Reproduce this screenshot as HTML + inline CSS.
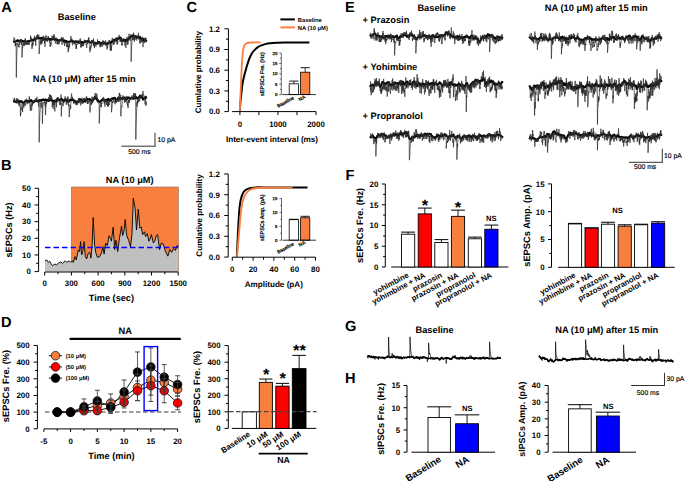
<!DOCTYPE html>
<html><head><meta charset="utf-8"><style>
html,body{margin:0;padding:0;background:#fff;width:685px;height:481px;overflow:hidden}
svg{display:block;font-family:"Liberation Sans", sans-serif;text-rendering:geometricPrecision}
</style></head><body>
<svg width="685" height="481" viewBox="0 0 685 481">
<rect width="685" height="481" fill="#fff"/>
<text x="1.2" y="11.9" font-size="14.6" font-weight="bold" fill="#000">A</text>
<text x="76.8" y="20.2" font-size="9.3" font-weight="bold" text-anchor="middle" fill="#000">Baseline</text>
<text x="84.2" y="81.7" font-size="9.3" font-weight="bold" text-anchor="middle" fill="#000">NA (10 &#956;M) after 15 min</text>
<path d="M13.8 41.56 L14.16 41.74 L14.52 41.78 L14.88 41.71 L15.24 41.48 L15.6 41.34 L15.96 41.17 L16.32 41.11 L16.68 41.1 L17.04 40.64 L17.4 40.21 L17.76 40.28 L18.12 40.62 L18.48 40.5 L18.84 41.11 L19.2 40.89 L19.56 40.92 L19.92 41.09 L20.28 41.01 L20.64 40.34 L21 40.74 L21.36 40.23 L21.72 40.51 L22.08 40.86 L22.44 41.23 L22.8 41.41 L23.16 41.41 L23.52 41.38 L23.88 41.26 L24.24 40.86 L24.6 40.88 L24.96 40.66 L25.32 41.06 L25.68 41.15 L26.04 41.47 L26.4 41.79 L26.76 41.7 L27.12 41.81 L27.48 41.59 L27.84 41.09 L28.2 41.23 L28.56 41 L28.92 41.06 L29.28 41.32 L29.64 41.31 L30 41 L30.36 40.65 L30.72 40.47 L31.08 40.42 L31.44 40.42 L31.8 40.17 L32.16 39.94 L32.52 40.17 L32.88 40.35 L33.24 40.5 L33.6 40.08 L33.96 39.44 L34.32 39.9 L34.68 38.88 L35.04 39.61 L35.4 39.03 L35.76 38.67 L36.12 38.52 L36.48 38.56 L36.84 37.99 L37.2 38.48 L37.56 37.49 L37.92 37.5 L38.28 37.88 L38.64 38.18 L39 38.03 L39.36 38.18 L39.72 38.38 L40.08 38.25 L40.44 38.47 L40.8 38.29 L41.16 37.78 L41.52 38.14 L41.88 37.82 L42.24 38.11 L42.6 39.05 L42.96 39.26 L43.32 39.13 L43.68 39.59 L44.04 39.09 L44.4 39.34 L44.76 39.03 L45.12 38.87 L45.48 38.8 L45.84 39.66 L46.2 39.24 L46.56 39.26 L46.92 39.15 L47.28 39.75 L47.64 38.8 L48 38.87 L48.36 38.23 L48.72 38.82 L49.08 39.37 L49.44 39.46 L49.8 38.81 L50.16 39.67 L50.52 39.92 L50.88 39.68 L51.24 39.46 L51.6 39.01 L51.96 39.05 L52.32 39.37 L52.68 39.37 L53.04 39.25 L53.4 39.15 L53.76 39.26 L54.12 39.62 L54.48 39.83 L54.84 39.64 L55.2 39.35 L55.56 39.54 L55.92 39.72 L56.28 39.87 L56.64 40.01 L57 39.56 L57.36 39.97 L57.72 40.23 L58.08 40.27 L58.44 40.48 L58.8 40.2 L59.16 40.28 L59.52 40.52 L59.88 40.23 L60.24 40.03 L60.6 39.72 L60.96 39.93 L61.32 39.91 L61.68 39.38 L62.04 40.15 L62.4 40.46 L62.76 40.31 L63.12 40.94 L63.48 40.64 L63.84 40.9 L64.2 41.53 L64.56 40.6 L64.92 40.37 L65.28 41.03 L65.64 40.94 L66 41.01 L66.36 41.66 L66.72 41.36 L67.08 41.7 L67.44 41.85 L67.8 41.89 L68.16 41.79 L68.52 42.08 L68.88 41.76 L69.24 41.74 L69.6 41.59 L69.96 41.38 L70.32 41.45 L70.68 41.09 L71.04 40.85 L71.4 40.3 L71.76 40.43 L72.12 41.24 L72.48 41.74 L72.84 41.35 L73.2 41.78 L73.56 41.75 L73.92 41.97 L74.28 41.94 L74.64 41.41 L75 41.43 L75.36 41.27 L75.72 41.34 L76.08 41.29 L76.44 41.72 L76.8 41.96 L77.16 41.89 L77.52 41.76 L77.88 42.09 L78.24 41.9 L78.6 42.51 L78.96 42.09 L79.32 42.61 L79.68 42.26 L80.04 42.24 L80.4 42.05 L80.76 42.15 L81.12 41.9 L81.48 42.4 L81.84 41.83 L82.2 42.26 L82.56 42.65 L82.92 42.8 L83.28 42.88 L83.64 42.66 L84 42.03 L84.36 41.85 L84.72 41.74 L85.08 41.13 L85.44 41.19 L85.8 41.35 L86.16 41.75 L86.52 41.34 L86.88 41.35 L87.24 41.13 L87.6 41.73 L87.96 41.66 L88.32 41.3 L88.68 40.91 L89.04 41.78 L89.4 41.98 L89.76 42.2 L90.12 42.19 L90.48 42.45 L90.84 42.48 L91.2 42.52 L91.56 42.13 L91.92 41.65 L92.28 41.84 L92.64 41.95 L93 41.7 L93.36 41.93 L93.72 42.63 L94.08 42.84 L94.44 42.95 L94.8 42.9 L95.16 42.85 L95.52 43.57 L95.88 43.76 L96.24 43.19 L96.6 43.31 L96.96 43.51 L97.32 43.64 L97.68 43.06 L98.04 42.13 L98.4 41.95 L98.76 42.09 L99.12 41.85 L99.48 42.28 L99.84 42.8 L100.2 43.2 L100.56 43.72 L100.92 43.14 L101.28 43.23 L101.64 43.59 L102 43.47 L102.36 42.58 L102.72 42.26 L103.08 42.34 L103.44 42.44 L103.8 42.38 L104.16 42.71 L104.52 42.6 L104.88 43.4 L105.24 43.39 L105.6 43.52 L105.96 44.08 L106.32 43.88 L106.68 43.26 L107.04 44.17 L107.4 43.66 L107.76 43.97 L108.12 42.99 L108.48 42.4 L108.84 42.48 L109.2 42.43 L109.56 42.13 L109.92 42.32 L110.28 42.12 L110.64 42.75 L111 43.12 L111.36 42.5 L111.72 42.45 L112.08 41.29 L112.44 40.74 L112.8 40.97 L113.16 40.65 L113.52 39.98 L113.88 40.39 L114.24 40.24 L114.6 40.28 L114.96 40.6 L115.32 39.61 L115.68 39.9 L116.04 40.21 L116.4 39.09 L116.76 38.82 L117.12 39.17 L117.48 38.99 L117.84 39.2 L118.2 38.75 L118.56 37.86 L118.92 38.14 L119.28 38.39 L119.64 37.67 L120 37.43 L120.36 38.1 L120.72 37.7 L121.08 39.14 L121.44 39.86 L121.8 40.33 L122.16 40.51 L122.52 41.01 L122.88 40.29 L123.24 40.46 L123.6 39.97 L123.96 40.06 L124.32 40.06 L124.68 40.46 L125.04 39.7 L125.4 39.97 L125.76 41.15 L126.12 40.81 L126.48 40.37 L126.84 39.92 L127.2 39.42 L127.56 39.72 L127.92 39.71 L128.28 38.77 L128.64 38.88 L129 38.14 L129.36 37.47 L129.72 37.93 L130.08 37.42 L130.44 37.01 L130.8 36.35 L131.16 36.3 L131.52 36.39 L131.88 36.36 L132.24 35.42 L132.6 36.1 L132.96 36.5 L133.32 36.37 L133.68 36.19 L134.04 36.48 L134.4 36.76 L134.76 37.29 L135.12 36.73 L135.48 36.26 L135.84 37.03 L136.2 37.07 L136.56 37.21 L136.92 36.36 L137.28 36.61 L137.64 37.23 L138 37.76 L138.36 37.17 L138.72 37.25 L139.08 36.72 L139.44 37.44 L139.8 37.5 L140.16 37.12 L140.52 37.42 L140.88 38.59 L141.24 38.59 L141.6 39.09 L141.96 39.52 L142.32 39.72 L142.68 40.52 L143.04 40.2 L143.4 39.01 L143.76 39.3 L144.12 40.22 L144.48 40.45 L144.84 39.99 L145.2 40.08 L145.56 40.02 L145.92 40.57 L146.28 40.8" stroke="#000" stroke-width="2" fill="none" stroke-linejoin="round" stroke-linecap="round"/>
<path d="M13.8 41.41 L13.98 37.41 L14.16 38.73 L14.34 38.87 L14.52 39.57 L14.7 38.74 L14.88 41.81 L15.06 44.64 L15.24 46.24 L15.42 43.95 L15.6 41.26 L15.78 45.47 L15.96 42.62 L16.14 43.47 L16.32 77.51 L16.5 66.23 L16.68 57.58 L16.86 53.03 L17.04 49.68 L17.22 44.99 L17.4 43.86 L17.58 43.16 L17.76 42.51 L17.94 42.96 L18.12 45.3 L18.3 44.72 L18.48 45.74 L18.66 47.15 L18.84 45.8 L19.02 47.24 L19.2 42.93 L19.38 39.84 L19.56 44.07 L19.74 45.04 L19.92 42.98 L20.1 42.15 L20.28 42.56 L20.46 40 L20.64 41.42 L20.82 39.13 L21 42.19 L21.18 39.59 L21.36 42.53 L21.54 44.58 L21.72 41.47 L21.9 42.84 L22.08 57.5 L22.26 51.4 L22.44 47.54 L22.62 48.14 L22.8 44.32 L22.98 45.37 L23.16 40.36 L23.34 40.44 L23.52 42.64 L23.7 45.12 L23.88 46.21 L24.06 41.94 L24.24 41 L24.42 40.26 L24.6 45.58 L24.78 42.38 L24.96 40.32 L25.14 42.6 L25.32 38.27 L25.5 43.02 L25.68 44.97 L25.86 44.62 L26.04 43.82 L26.22 41.24 L26.4 44 L26.58 44.61 L26.76 41.68 L26.94 43.42 L27.12 43.15 L27.3 44.64 L27.48 44.6 L27.66 43.06 L27.84 43.12 L28.02 44.61 L28.2 42.89 L28.38 43.08 L28.56 43.16 L28.74 44.43 L28.92 41.26 L29.1 40.91 L29.28 44.74 L29.46 42.42 L29.64 40.74 L29.82 41.88 L30 41.52 L30.18 41.44 L30.36 39.45 L30.54 35.6 L30.72 38.85 L30.9 41.17 L31.08 40.42 L31.26 37.44 L31.44 40.61 L31.62 39.7 L31.8 39.46 L31.98 48.96 L32.16 44.38 L32.34 46.66 L32.52 42.26 L32.7 43.35 L32.88 43.72 L33.06 45.25 L33.24 44.27 L33.42 39.57 L33.6 42.05 L33.78 37.77 L33.96 38.79 L34.14 39.77 L34.32 40.8 L34.5 40.72 L34.68 35.85 L34.86 39.04 L35.04 40.06 L35.22 41.19 L35.4 41.42 L35.58 39.62 L35.76 45.75 L35.94 39.14 L36.12 37.72 L36.3 39.23 L36.48 39.51 L36.66 38.4 L36.84 35.05 L37.02 37.74 L37.2 36.69 L37.38 38.87 L37.56 37.52 L37.74 34.25 L37.92 36.3 L38.1 35.4 L38.28 35.85 L38.46 35.69 L38.64 36.21 L38.82 34.9 L39 37.82 L39.18 53.94 L39.36 47.5 L39.54 46.05 L39.72 45.91 L39.9 42.72 L40.08 40.78 L40.26 43.71 L40.44 43.4 L40.62 42.08 L40.8 39.42 L40.98 44.61 L41.16 39.79 L41.34 39.1 L41.52 39.01 L41.7 41.69 L41.88 43.92 L42.06 40.96 L42.24 41.89 L42.42 37.11 L42.6 40.79 L42.78 37.88 L42.96 37.12 L43.14 38.37 L43.32 35.67 L43.5 38.38 L43.68 40.91 L43.86 36.48 L44.04 39.16 L44.22 37.48 L44.4 40.45 L44.58 43.01 L44.76 40.94 L44.94 46.81 L45.12 42.78 L45.3 40.69 L45.48 40.35 L45.66 39.67 L45.84 35.97 L46.02 36.38 L46.2 35.21 L46.38 40.08 L46.56 39.61 L46.74 39.29 L46.92 41.44 L47.1 38.84 L47.28 39.52 L47.46 41.49 L47.64 38.57 L47.82 40.42 L48 38.5 L48.18 35.98 L48.36 38.26 L48.54 39.2 L48.72 38.28 L48.9 38.31 L49.08 40.29 L49.26 40.08 L49.44 42.4 L49.62 41.25 L49.8 40.85 L49.98 45.53 L50.16 46.84 L50.34 44.69 L50.52 42.23 L50.7 44 L50.88 46.05 L51.06 44.76 L51.24 43.73 L51.42 43.21 L51.6 43.4 L51.78 39.99 L51.96 35.63 L52.14 37.7 L52.32 38.74 L52.5 37.42 L52.68 38.57 L52.86 39.99 L53.04 38.05 L53.22 40 L53.4 35.86 L53.58 38.55 L53.76 35.56 L53.94 34.27 L54.12 36.5 L54.3 35.43 L54.48 39.1 L54.66 37.1 L54.84 39.41 L55.02 39.92 L55.2 42.24 L55.38 43.37 L55.56 41.25 L55.74 41.34 L55.92 38.99 L56.1 37.54 L56.28 39.75 L56.46 39.38 L56.64 38.21 L56.82 41.99 L57 43.99 L57.18 40.85 L57.36 41.5 L57.54 40.8 L57.72 44.1 L57.9 42.67 L58.08 44.41 L58.26 43.07 L58.44 40.6 L58.62 40.1 L58.8 40.07 L58.98 44.26 L59.16 41.32 L59.34 41.6 L59.52 42.53 L59.7 42.16 L59.88 42.07 L60.06 42 L60.24 38.86 L60.42 41.24 L60.6 40 L60.78 40.5 L60.96 39.46 L61.14 41.04 L61.32 39.77 L61.5 40.44 L61.68 36.9 L61.86 38.87 L62.04 44.8 L62.22 38.9 L62.4 40.51 L62.58 41.75 L62.76 37.78 L62.94 40.37 L63.12 37.52 L63.3 40.27 L63.48 40.9 L63.66 41.14 L63.84 42.59 L64.02 42.55 L64.2 43.96 L64.38 43.41 L64.56 46.08 L64.74 42.05 L64.92 41.65 L65.1 42.98 L65.28 42.58 L65.46 41.24 L65.64 42.11 L65.82 43.57 L66 42.56 L66.18 42.28 L66.36 41.86 L66.54 42.88 L66.72 47.12 L66.9 44.05 L67.08 46.37 L67.26 45.79 L67.44 46.83 L67.62 42.24 L67.8 43.62 L67.98 42.06 L68.16 52.18 L68.34 48.58 L68.52 50.17 L68.7 44.96 L68.88 47.75 L69.06 48.54 L69.24 47.25 L69.42 43.59 L69.6 46.46 L69.78 42.91 L69.96 42.11 L70.14 41.57 L70.32 40.83 L70.5 40.65 L70.68 40.91 L70.86 36 L71.04 38.32 L71.22 40.44 L71.4 40.37 L71.58 41.28 L71.76 38.53 L71.94 42.81 L72.12 43.08 L72.3 44.15 L72.48 45.28 L72.66 45.23 L72.84 43.09 L73.02 43.11 L73.2 39.99 L73.38 41.54 L73.56 43.14 L73.74 42.39 L73.92 43.4 L74.1 42.93 L74.28 44.19 L74.46 44.39 L74.64 42.82 L74.82 43.1 L75 43.72 L75.18 43.14 L75.36 42.26 L75.54 41.27 L75.72 45.35 L75.9 45.67 L76.08 48.76 L76.26 44.19 L76.44 48.85 L76.62 44.27 L76.8 44.38 L76.98 44.99 L77.16 44 L77.34 42.91 L77.52 43.04 L77.7 43.32 L77.88 40.33 L78.06 41.39 L78.24 40.71 L78.42 41.52 L78.6 43.61 L78.78 41.63 L78.96 41.71 L79.14 42.18 L79.32 43.76 L79.5 41.27 L79.68 43.19 L79.86 39.63 L80.04 42.48 L80.22 38.31 L80.4 40.16 L80.58 45.04 L80.76 47.42 L80.94 45.77 L81.12 42.77 L81.3 47.25 L81.48 44.43 L81.66 42.77 L81.84 44.56 L82.02 44.03 L82.2 46.33 L82.38 43.2 L82.56 44.83 L82.74 45 L82.92 44.81 L83.1 45.55 L83.28 44.36 L83.46 46.15 L83.64 44.78 L83.82 44.67 L84 43.15 L84.18 41.56 L84.36 39.72 L84.54 41.25 L84.72 41.3 L84.9 40.89 L85.08 40.71 L85.26 41.15 L85.44 41.29 L85.62 40.38 L85.8 40.24 L85.98 43.41 L86.16 44.87 L86.34 44.25 L86.52 47.09 L86.7 47.88 L86.88 45.58 L87.06 43.29 L87.24 42.22 L87.42 41.75 L87.6 44.06 L87.78 40.08 L87.96 41.04 L88.14 41.18 L88.32 37.84 L88.5 37.97 L88.68 41.8 L88.86 37.42 L89.04 43.28 L89.22 40.5 L89.4 41.91 L89.58 40.66 L89.76 46.27 L89.94 52.18 L90.12 47.17 L90.3 49.76 L90.48 49.07 L90.66 49.58 L90.84 45.66 L91.02 47.55 L91.2 46.19 L91.38 43.65 L91.56 40 L91.74 44.53 L91.92 40.13 L92.1 41.35 L92.28 41.48 L92.46 42.88 L92.64 39.88 L92.82 40.55 L93 40.43 L93.18 41.29 L93.36 45.23 L93.54 38.58 L93.72 46.18 L93.9 41.57 L94.08 45.79 L94.26 44.52 L94.44 48.09 L94.62 45.64 L94.8 42.8 L94.98 42.96 L95.16 41.86 L95.34 42.54 L95.52 43.35 L95.7 45.25 L95.88 46.66 L96.06 45.14 L96.24 42.8 L96.42 43.64 L96.6 43.52 L96.78 44.44 L96.96 43.33 L97.14 42.29 L97.32 42.71 L97.5 39.4 L97.68 40.67 L97.86 42.85 L98.04 41.36 L98.22 43.34 L98.4 44.03 L98.58 43.19 L98.76 43.12 L98.94 43.71 L99.12 44.69 L99.3 42.64 L99.48 41.19 L99.66 42.54 L99.84 45.38 L100.02 47.24 L100.2 44.25 L100.38 46 L100.56 45.19 L100.74 46.83 L100.92 44.76 L101.1 45.68 L101.28 44.14 L101.46 43.36 L101.64 43.3 L101.82 43.36 L102 44.55 L102.18 46.74 L102.36 44.95 L102.54 40.85 L102.72 43.43 L102.9 41.41 L103.08 40.36 L103.26 44.35 L103.44 44.39 L103.62 41.92 L103.8 45.3 L103.98 42.29 L104.16 41.66 L104.34 44.24 L104.52 43.09 L104.7 43.07 L104.88 43.43 L105.06 43.47 L105.24 42.7 L105.42 41.93 L105.6 40.39 L105.78 42.09 L105.96 45.58 L106.14 43.51 L106.32 45.44 L106.5 46.03 L106.68 43.07 L106.86 43.68 L107.04 49.44 L107.22 46.25 L107.4 47.49 L107.58 47.98 L107.76 46.35 L107.94 45.32 L108.12 43.01 L108.3 41.97 L108.48 43.85 L108.66 43.97 L108.84 42.16 L109.02 42.05 L109.2 39.96 L109.38 43.46 L109.56 40.24 L109.74 40.18 L109.92 45.96 L110.1 45.91 L110.28 50.5 L110.46 43.31 L110.64 46.9 L110.82 50.23 L111 48.26 L111.18 45.8 L111.36 50.89 L111.54 46.71 L111.72 44.96 L111.9 45.42 L112.08 41.15 L112.26 37.82 L112.44 42.44 L112.62 42.19 L112.8 42.91 L112.98 40.5 L113.16 41.43 L113.34 40.66 L113.52 44.67 L113.7 43.69 L113.88 44.47 L114.06 40.08 L114.24 43.77 L114.42 43.05 L114.6 42.61 L114.78 41.51 L114.96 40.02 L115.14 38.07 L115.32 39.13 L115.5 39.95 L115.68 38.1 L115.86 38.47 L116.04 41.66 L116.22 37.32 L116.4 39.18 L116.58 38.81 L116.76 42.84 L116.94 44.29 L117.12 44.51 L117.3 42.48 L117.48 39.18 L117.66 43.79 L117.84 40.66 L118.02 38.16 L118.2 37.26 L118.38 37.43 L118.56 38.76 L118.74 38.43 L118.92 37.56 L119.1 34.98 L119.28 38.82 L119.46 39.15 L119.64 38.2 L119.82 37.62 L120 41.91 L120.18 40.97 L120.36 38.27 L120.54 41.92 L120.72 38.74 L120.9 39.92 L121.08 40.35 L121.26 38.36 L121.44 40.73 L121.62 44.47 L121.8 45.53 L121.98 43.22 L122.16 45.2 L122.34 43.8 L122.52 43.18 L122.7 42.54 L122.88 40.64 L123.06 41.98 L123.24 38.09 L123.42 42.05 L123.6 39.11 L123.78 41.58 L123.96 38.78 L124.14 40.52 L124.32 41.88 L124.5 41.2 L124.68 42.51 L124.86 45.81 L125.04 43.1 L125.22 41.51 L125.4 44.56 L125.58 44.86 L125.76 46.19 L125.94 47.91 L126.12 45.55 L126.3 43.8 L126.48 42.03 L126.66 41.48 L126.84 39.93 L127.02 36.75 L127.2 38.28 L127.38 40.89 L127.56 44.6 L127.74 38.32 L127.92 44.44 L128.1 42.22 L128.28 40.87 L128.46 39.81 L128.64 37.25 L128.82 35.43 L129 33.74 L129.18 34.92 L129.36 40.17 L129.54 39.72 L129.72 40.17 L129.9 40.26 L130.08 40.85 L130.26 40.53 L130.44 40.29 L130.62 38.5 L130.8 34.31 L130.98 36.87 L131.16 61.64 L131.34 53.44 L131.52 49.05 L131.7 45.58 L131.88 43.27 L132.06 39.69 L132.24 36.81 L132.42 37.19 L132.6 40.05 L132.78 35.2 L132.96 36.45 L133.14 36.13 L133.32 40.1 L133.5 32.71 L133.68 36.7 L133.86 33.96 L134.04 36 L134.22 37.44 L134.4 41.8 L134.58 36.89 L134.76 35.14 L134.94 39.93 L135.12 35.26 L135.3 36.27 L135.48 36.67 L135.66 37.17 L135.84 37.98 L136.02 38.13 L136.2 39.79 L136.38 40.5 L136.56 37.61 L136.74 37.35 L136.92 35.94 L137.1 38.22 L137.28 36.48 L137.46 37.17 L137.64 37.99 L137.82 39.04 L138 36.72 L138.18 36.96 L138.36 33.38 L138.54 32.84 L138.72 37.98 L138.9 37.55 L139.08 40.03 L139.26 36.59 L139.44 38.36 L139.62 43.31 L139.8 42.31 L139.98 40.67 L140.16 39.52 L140.34 40.8 L140.52 43.3 L140.7 42.69 L140.88 41.52 L141.06 39.61 L141.24 39.67 L141.42 38.66 L141.6 40.08 L141.78 42.2 L141.96 41.76 L142.14 39.11 L142.32 40.88 L142.5 41.62 L142.68 36.83 L142.86 43.4 L143.04 47.06 L143.22 43.78 L143.4 43.18 L143.58 42.3 L143.76 42.99 L143.94 41.35 L144.12 41.7 L144.3 42.94 L144.48 39.25 L144.66 40.46 L144.84 37.79 L145.02 40.97 L145.2 38.95 L145.38 37.98 L145.56 41.72 L145.74 42.45 L145.92 38.97 L146.1 37.81 L146.28 38.67 L146.46 38.93" stroke="#2a2a2a" stroke-width="0.7" fill="none" stroke-linejoin="round"/>
<path d="M13.8 101.36 L14.16 101.62 L14.52 101.72 L14.88 101.57 L15.24 101.44 L15.6 101.78 L15.96 101.82 L16.32 101.6 L16.68 101.47 L17.04 101.22 L17.4 102.08 L17.76 101.33 L18.12 101.05 L18.48 101.47 L18.84 101.71 L19.2 101.61 L19.56 101.7 L19.92 100.95 L20.28 102.04 L20.64 101.8 L21 101.68 L21.36 101.32 L21.72 101.82 L22.08 101.57 L22.44 101.94 L22.8 102.52 L23.16 102.92 L23.52 102.71 L23.88 102.75 L24.24 102.35 L24.6 102.02 L24.96 101.4 L25.32 100.96 L25.68 100.77 L26.04 100.9 L26.4 100.45 L26.76 100.82 L27.12 101.48 L27.48 101.82 L27.84 101.2 L28.2 101.12 L28.56 101.33 L28.92 101.99 L29.28 101.32 L29.64 101.01 L30 100.85 L30.36 100.71 L30.72 100.36 L31.08 100.05 L31.44 100.28 L31.8 101.07 L32.16 101.67 L32.52 101.73 L32.88 101.91 L33.24 102.22 L33.6 101.89 L33.96 102.1 L34.32 101.22 L34.68 100.81 L35.04 101.19 L35.4 101.02 L35.76 100.81 L36.12 100.9 L36.48 100.78 L36.84 100.87 L37.2 101.31 L37.56 101.03 L37.92 100.89 L38.28 101.27 L38.64 101.09 L39 100.49 L39.36 100.86 L39.72 100.34 L40.08 100.07 L40.44 100.34 L40.8 100.32 L41.16 100.92 L41.52 100.57 L41.88 99.93 L42.24 99.62 L42.6 99.56 L42.96 100.03 L43.32 99.8 L43.68 99.57 L44.04 99.92 L44.4 99.76 L44.76 99.77 L45.12 100.34 L45.48 99.45 L45.84 99.6 L46.2 99.99 L46.56 100.02 L46.92 99.95 L47.28 100.39 L47.64 99.87 L48 100.89 L48.36 101 L48.72 100.09 L49.08 100.1 L49.44 100.64 L49.8 100.11 L50.16 99.57 L50.52 99.39 L50.88 99.26 L51.24 99.9 L51.6 99.69 L51.96 100.25 L52.32 100.9 L52.68 101.57 L53.04 100.96 L53.4 101.04 L53.76 100.65 L54.12 100.61 L54.48 101.25 L54.84 101.18 L55.2 100.76 L55.56 100.96 L55.92 100.31 L56.28 100.67 L56.64 101.23 L57 99.54 L57.36 98.92 L57.72 99.51 L58.08 99.56 L58.44 100 L58.8 100.03 L59.16 99.83 L59.52 100.17 L59.88 100.47 L60.24 99.94 L60.6 99.74 L60.96 99.35 L61.32 98.83 L61.68 98.78 L62.04 99.59 L62.4 99.98 L62.76 100.61 L63.12 100.78 L63.48 101.82 L63.84 101.31 L64.2 100.71 L64.56 99.57 L64.92 99.59 L65.28 99.88 L65.64 100.32 L66 99.65 L66.36 99.77 L66.72 100.87 L67.08 101.58 L67.44 101.48 L67.8 101.07 L68.16 100.44 L68.52 101.05 L68.88 101.73 L69.24 101.16 L69.6 100.3 L69.96 99.85 L70.32 99.81 L70.68 100.24 L71.04 99.62 L71.4 99.61 L71.76 99.51 L72.12 100.23 L72.48 100.01 L72.84 100.09 L73.2 99.78 L73.56 100.22 L73.92 100.71 L74.28 100.56 L74.64 100.42 L75 101.26 L75.36 101.6 L75.72 102.02 L76.08 102.14 L76.44 101.7 L76.8 102.54 L77.16 102.67 L77.52 102.17 L77.88 101.53 L78.24 101.25 L78.6 100.87 L78.96 100.55 L79.32 99.43 L79.68 99.51 L80.04 99.34 L80.4 99.8 L80.76 99.95 L81.12 99.69 L81.48 100.01 L81.84 100.11 L82.2 100.57 L82.56 101.16 L82.92 100.99 L83.28 101.44 L83.64 101.57 L84 101.11 L84.36 101.55 L84.72 100.84 L85.08 101.15 L85.44 100.81 L85.8 100.02 L86.16 99.69 L86.52 99.49 L86.88 99.76 L87.24 99.76 L87.6 98.96 L87.96 99.33 L88.32 99.22 L88.68 99.54 L89.04 99.64 L89.4 99.12 L89.76 99.05 L90.12 99.92 L90.48 99.63 L90.84 100.14 L91.2 100.46 L91.56 100.92 L91.92 101.2 L92.28 101.91 L92.64 100.57 L93 100.12 L93.36 99.33 L93.72 98.88 L94.08 98.77 L94.44 98.29 L94.8 97 L95.16 97.64 L95.52 97.9 L95.88 98.66 L96.24 98.95 L96.6 99.02 L96.96 99.46 L97.32 100.27 L97.68 101.15 L98.04 101.44 L98.4 101.23 L98.76 101.25 L99.12 101.37 L99.48 101.59 L99.84 102.03 L100.2 101.29 L100.56 100.83 L100.92 100.97 L101.28 100.62 L101.64 100.62 L102 100.25 L102.36 99.37 L102.72 99.15 L103.08 99.24 L103.44 99.36 L103.8 99.76 L104.16 99.83 L104.52 100.01 L104.88 100.01 L105.24 100.3 L105.6 100.13 L105.96 100.49 L106.32 100.17 L106.68 99.72 L107.04 99.39 L107.4 100.23 L107.76 99.68 L108.12 99.97 L108.48 98.85 L108.84 99.43 L109.2 100.3 L109.56 100.55 L109.92 100.39 L110.28 100.51 L110.64 100.33 L111 100.07 L111.36 99.34 L111.72 98.51 L112.08 98.96 L112.44 98.23 L112.8 98.25 L113.16 98.31 L113.52 98.59 L113.88 98.15 L114.24 98.08 L114.6 97.7 L114.96 98.01 L115.32 98.62 L115.68 98.81 L116.04 99.8 L116.4 100.3 L116.76 99.94 L117.12 99.42 L117.48 99.19 L117.84 98.73 L118.2 98.49 L118.56 97.75 L118.92 98.04 L119.28 98.28 L119.64 98.08 L120 98.32 L120.36 98.39 L120.72 98.14 L121.08 98.2 L121.44 98.65 L121.8 98.53 L122.16 98.75 L122.52 98.7 L122.88 98.12 L123.24 98.35 L123.6 98.02 L123.96 97.36 L124.32 97.91 L124.68 98.13 L125.04 98.56 L125.4 99.6 L125.76 99.58 L126.12 99.67 L126.48 99.79 L126.84 99.13 L127.2 98.71 L127.56 98.12 L127.92 97.31 L128.28 97.39 L128.64 97.74 L129 97.44 L129.36 98.08 L129.72 98.47 L130.08 98.74 L130.44 98.53 L130.8 98.33 L131.16 98.24 L131.52 98.17 L131.88 98.16 L132.24 98.04 L132.6 98.03 L132.96 98.7 L133.32 98.71 L133.68 98.66 L134.04 98.09 L134.4 98.26 L134.76 98.17 L135.12 98.15 L135.48 97.33 L135.84 97.57 L136.2 97.16 L136.56 98.21 L136.92 97.95 L137.28 98.2 L137.64 97.95 L138 97.83 L138.36 97.44 L138.72 97.41 L139.08 97.58 L139.44 96.76 L139.8 95.8 L140.16 95.72 L140.52 95.98 L140.88 96.74 L141.24 97.2 L141.6 96.6 L141.96 97.06 L142.32 97.9 L142.68 98.33 L143.04 99.64 L143.4 98.65 L143.76 98.26 L144.12 98.03 L144.48 98.09 L144.84 98.06 L145.2 97.57 L145.56 96.63 L145.92 97.23 L146.28 97.57" stroke="#000" stroke-width="2" fill="none" stroke-linejoin="round" stroke-linecap="round"/>
<path d="M13.8 99.35 L13.98 101.13 L14.16 99.89 L14.34 97.88 L14.52 102.27 L14.7 98.61 L14.88 100.26 L15.06 101.77 L15.24 102.46 L15.42 101.79 L15.6 101.68 L15.78 100.53 L15.96 100.76 L16.14 100.98 L16.32 103.49 L16.5 100.9 L16.68 98.65 L16.86 101.43 L17.04 98.12 L17.22 98.93 L17.4 99.15 L17.58 101.24 L17.76 100.92 L17.94 101.93 L18.12 102.65 L18.3 104.25 L18.48 99.21 L18.66 99.45 L18.84 102.27 L19.02 101.5 L19.2 106.33 L19.38 102.77 L19.56 103.57 L19.74 104.49 L19.92 103.61 L20.1 104.04 L20.28 104.35 L20.46 116.32 L20.64 112.78 L20.82 114.27 L21 107.31 L21.18 109.34 L21.36 110.05 L21.54 106.81 L21.72 105.93 L21.9 105.08 L22.08 101.52 L22.26 104.62 L22.44 105.55 L22.62 111.99 L22.8 108.03 L22.98 107.39 L23.16 106.9 L23.34 106.68 L23.52 102.73 L23.7 103.97 L23.88 107.67 L24.06 102.16 L24.24 105.05 L24.42 104.61 L24.6 101.67 L24.78 103.79 L24.96 103.59 L25.14 104.55 L25.32 106.01 L25.5 105.74 L25.68 103.39 L25.86 103.33 L26.04 99.57 L26.22 101.3 L26.4 101.78 L26.58 98.71 L26.76 102.58 L26.94 100.82 L27.12 103.44 L27.3 104.23 L27.48 103.82 L27.66 102.92 L27.84 101.5 L28.02 102.91 L28.2 103.35 L28.38 101.15 L28.56 100.85 L28.74 101.83 L28.92 101.04 L29.1 99.08 L29.28 96.38 L29.46 99.22 L29.64 98.43 L29.82 103.58 L30 106.16 L30.18 108.44 L30.36 110.89 L30.54 105.01 L30.72 105.63 L30.9 102.69 L31.08 102.33 L31.26 103.54 L31.44 104.28 L31.62 110.39 L31.8 108.12 L31.98 104.54 L32.16 105.2 L32.34 103.51 L32.52 105.26 L32.7 101.21 L32.88 103.12 L33.06 103.99 L33.24 101.95 L33.42 101.62 L33.6 100.15 L33.78 100.55 L33.96 102.45 L34.14 101.41 L34.32 101.87 L34.5 100.26 L34.68 99.8 L34.86 100.75 L35.04 100.08 L35.22 102.03 L35.4 98.45 L35.58 99.62 L35.76 98.97 L35.94 101.11 L36.12 99.65 L36.3 100.27 L36.48 100.54 L36.66 100.04 L36.84 96.86 L37.02 100.22 L37.2 102.36 L37.38 100.32 L37.56 100.86 L37.74 102.13 L37.92 101.9 L38.1 101.47 L38.28 98.91 L38.46 102.17 L38.64 100.8 L38.82 106.74 L39 101.97 L39.18 142.34 L39.36 132.65 L39.54 123.38 L39.72 119.14 L39.9 112.76 L40.08 112.26 L40.26 108.55 L40.44 106.65 L40.62 103.69 L40.8 102.54 L40.98 103.8 L41.16 102.93 L41.34 105.15 L41.52 107.71 L41.7 104.04 L41.88 103.39 L42.06 101.74 L42.24 102.27 L42.42 123.79 L42.6 116.05 L42.78 110.76 L42.96 106.88 L43.14 103.66 L43.32 103.72 L43.5 102.76 L43.68 102.91 L43.86 103.14 L44.04 103.1 L44.22 101.72 L44.4 102.83 L44.58 100.8 L44.76 101.49 L44.94 102.93 L45.12 106.32 L45.3 101.8 L45.48 115.05 L45.66 113.5 L45.84 107.78 L46.02 106.04 L46.2 103.01 L46.38 101.29 L46.56 104.17 L46.74 102.01 L46.92 100.52 L47.1 100.67 L47.28 100.36 L47.46 101.48 L47.64 101.05 L47.82 100.99 L48 100.78 L48.18 99.96 L48.36 100.35 L48.54 97.32 L48.72 97.26 L48.9 97.04 L49.08 100.38 L49.26 98.86 L49.44 94.26 L49.62 97.75 L49.8 98.17 L49.98 100.14 L50.16 99.95 L50.34 99.57 L50.52 94.96 L50.7 97.73 L50.88 95.2 L51.06 97.25 L51.24 100.1 L51.42 96.49 L51.6 100.04 L51.78 97.54 L51.96 100.54 L52.14 103.57 L52.32 107.06 L52.5 103.08 L52.68 101.81 L52.86 105.5 L53.04 107.8 L53.22 109.03 L53.4 104.67 L53.58 102.92 L53.76 104.77 L53.94 101.9 L54.12 104.2 L54.3 100.96 L54.48 104.96 L54.66 103.64 L54.84 111.39 L55.02 105.24 L55.2 100.56 L55.38 101.71 L55.56 100.6 L55.74 102.62 L55.92 101.34 L56.1 102.85 L56.28 103.93 L56.46 107.33 L56.64 101.61 L56.82 102.74 L57 98.5 L57.18 98.54 L57.36 97.1 L57.54 101.15 L57.72 98.66 L57.9 97.72 L58.08 99.49 L58.26 97.65 L58.44 100.6 L58.62 100.1 L58.8 97.83 L58.98 101.32 L59.16 102.78 L59.34 102.96 L59.52 102.88 L59.7 104.87 L59.88 103.06 L60.06 101.78 L60.24 101.52 L60.42 104.9 L60.6 99.66 L60.78 98.79 L60.96 97.37 L61.14 94.59 L61.32 116.43 L61.5 111.18 L61.68 107.06 L61.86 105.23 L62.04 104.98 L62.22 102.84 L62.4 103.03 L62.58 104.34 L62.76 104.25 L62.94 106.12 L63.12 105.16 L63.3 105.11 L63.48 104.66 L63.66 103.03 L63.84 101.43 L64.02 101.1 L64.2 100.18 L64.38 98.83 L64.56 99.55 L64.74 99.46 L64.92 98.93 L65.1 96.39 L65.28 98.46 L65.46 100.67 L65.64 100.55 L65.82 98.54 L66 98.34 L66.18 104.67 L66.36 103.66 L66.54 102.56 L66.72 100.64 L66.9 104.42 L67.08 103.52 L67.26 102.19 L67.44 101.7 L67.62 97.17 L67.8 100.75 L67.98 96.53 L68.16 100.82 L68.34 100.69 L68.52 103.03 L68.7 106.25 L68.88 104.1 L69.06 105.94 L69.24 117.13 L69.42 112.34 L69.6 109.43 L69.78 110.04 L69.96 106.83 L70.14 106.31 L70.32 105.28 L70.5 106.05 L70.68 108.81 L70.86 102.81 L71.04 100.91 L71.22 96.41 L71.4 95.18 L71.58 93.59 L71.76 96.22 L71.94 97.93 L72.12 96.76 L72.3 97.3 L72.48 99.16 L72.66 98.26 L72.84 97.76 L73.02 99.4 L73.2 99.3 L73.38 100.82 L73.56 103.18 L73.74 101.39 L73.92 103.79 L74.1 100.34 L74.28 102.59 L74.46 102.54 L74.64 101.7 L74.82 102.17 L75 100.68 L75.18 100.28 L75.36 101.95 L75.54 102.16 L75.72 104.1 L75.9 103.47 L76.08 105.16 L76.26 104.24 L76.44 103.43 L76.62 104.84 L76.8 102.8 L76.98 102.07 L77.16 105.05 L77.34 100.26 L77.52 101.96 L77.7 102.26 L77.88 101.88 L78.06 103.18 L78.24 101 L78.42 98.32 L78.6 99.61 L78.78 102.15 L78.96 102.65 L79.14 102.06 L79.32 97.95 L79.5 99.12 L79.68 98.21 L79.86 102.17 L80.04 103.48 L80.22 100.84 L80.4 102.83 L80.58 105.35 L80.76 104.66 L80.94 104.14 L81.12 100.76 L81.3 101.82 L81.48 102.6 L81.66 102.5 L81.84 97.76 L82.02 100.75 L82.2 103.48 L82.38 100.4 L82.56 102.94 L82.74 104.07 L82.92 98.5 L83.1 101.37 L83.28 102.49 L83.46 102.3 L83.64 98.54 L83.82 100 L84 99.2 L84.18 100.44 L84.36 99.65 L84.54 97.92 L84.72 99.45 L84.9 99.35 L85.08 100.16 L85.26 98.65 L85.44 101.62 L85.62 102.99 L85.8 100.12 L85.98 98.96 L86.16 96.95 L86.34 97.83 L86.52 98.25 L86.7 96.34 L86.88 101.64 L87.06 99.78 L87.24 103.42 L87.42 104.01 L87.6 101.03 L87.78 103.72 L87.96 102.16 L88.14 101.89 L88.32 103.35 L88.5 101.24 L88.68 101.18 L88.86 100.73 L89.04 100.42 L89.22 102.06 L89.4 101.19 L89.58 102 L89.76 100.82 L89.94 112.42 L90.12 111.06 L90.3 104.4 L90.48 103.69 L90.66 102.29 L90.84 104.41 L91.02 103.26 L91.2 101.78 L91.38 101.34 L91.56 104.86 L91.74 100.9 L91.92 99.5 L92.1 96.47 L92.28 103.2 L92.46 102.05 L92.64 97.71 L92.82 98.08 L93 98.38 L93.18 99.42 L93.36 101.18 L93.54 100.13 L93.72 97.17 L93.9 99.05 L94.08 98.54 L94.26 99.25 L94.44 100.17 L94.62 97.32 L94.8 97.52 L94.98 96.96 L95.16 93.02 L95.34 96.58 L95.52 96.07 L95.7 98.68 L95.88 94.66 L96.06 97.87 L96.24 96.59 L96.42 97.46 L96.6 98.79 L96.78 93.56 L96.96 94.99 L97.14 99.03 L97.32 97.35 L97.5 97.59 L97.68 100.36 L97.86 98.99 L98.04 100.72 L98.22 99.89 L98.4 99.42 L98.58 100.82 L98.76 103.29 L98.94 102.18 L99.12 102.93 L99.3 123.51 L99.48 117.05 L99.66 113.16 L99.84 107.51 L100.02 105.5 L100.2 106.1 L100.38 104.16 L100.56 104.29 L100.74 101.28 L100.92 104.59 L101.1 107.23 L101.28 105.79 L101.46 106.61 L101.64 103.1 L101.82 104.11 L102 101.28 L102.18 100.17 L102.36 99.8 L102.54 98.05 L102.72 98.19 L102.9 99.36 L103.08 99.35 L103.26 98.23 L103.44 96.97 L103.62 97.71 L103.8 98.84 L103.98 102.49 L104.16 98.71 L104.34 103.58 L104.52 102.03 L104.7 98.81 L104.88 106.67 L105.06 105.83 L105.24 101.5 L105.42 100.25 L105.6 101.72 L105.78 100.53 L105.96 100.2 L106.14 102.92 L106.32 99.99 L106.5 100.58 L106.68 105 L106.86 100.42 L107.04 100.93 L107.22 101.47 L107.4 101.01 L107.58 106.56 L107.76 104.12 L107.94 106.24 L108.12 101.28 L108.3 106.21 L108.48 104.51 L108.66 101.56 L108.84 105.04 L109.02 104.43 L109.2 104.72 L109.38 104.94 L109.56 103.9 L109.74 100.94 L109.92 101.52 L110.1 98.63 L110.28 99.79 L110.46 99.68 L110.64 98.38 L110.82 101.76 L111 101.65 L111.18 98.61 L111.36 103.4 L111.54 112.23 L111.72 109.95 L111.9 108.36 L112.08 107 L112.26 104.74 L112.44 101.36 L112.62 102.94 L112.8 101.72 L112.98 102.46 L113.16 100.09 L113.34 98.74 L113.52 100.55 L113.7 101.43 L113.88 99.69 L114.06 99.57 L114.24 99.07 L114.42 98.32 L114.6 98.43 L114.78 100.31 L114.96 104.27 L115.14 101.21 L115.32 102.02 L115.5 100.54 L115.68 102.87 L115.86 99.4 L116.04 103 L116.22 100.7 L116.4 101.51 L116.58 100.73 L116.76 99.15 L116.94 102.12 L117.12 99.69 L117.3 100.04 L117.48 100.12 L117.66 99.14 L117.84 96.82 L118.02 100.95 L118.2 101.76 L118.38 100.29 L118.56 97.8 L118.74 96.52 L118.92 102 L119.1 98.92 L119.28 92.95 L119.46 95.8 L119.64 93.16 L119.82 100.8 L120 100.03 L120.18 100.63 L120.36 99.62 L120.54 96.06 L120.72 94.76 L120.9 116.29 L121.08 110.2 L121.26 107.58 L121.44 106.71 L121.62 106.21 L121.8 106.6 L121.98 107.08 L122.16 103.5 L122.34 100.52 L122.52 97.31 L122.7 97.03 L122.88 95.43 L123.06 97.91 L123.24 96.93 L123.42 98.44 L123.6 99.73 L123.78 98.5 L123.96 98.56 L124.14 99.22 L124.32 97.85 L124.5 102.57 L124.68 100.79 L124.86 99.61 L125.04 101.89 L125.22 99.97 L125.4 101.54 L125.58 99.04 L125.76 97.41 L125.94 96.12 L126.12 99.45 L126.3 99.32 L126.48 96.89 L126.66 96.64 L126.84 102.88 L127.02 101.47 L127.2 102.28 L127.38 104.64 L127.56 105.67 L127.74 102.73 L127.92 106.2 L128.1 108.06 L128.28 103.64 L128.46 99.95 L128.64 100.47 L128.82 102.76 L129 99.35 L129.18 98.63 L129.36 102.95 L129.54 100.99 L129.72 100.6 L129.9 98.06 L130.08 97.94 L130.26 99.21 L130.44 97.68 L130.62 98.68 L130.8 100.17 L130.98 98.01 L131.16 96.74 L131.34 97.24 L131.52 98.09 L131.7 98.89 L131.88 96.61 L132.06 95.56 L132.24 96.34 L132.42 95.66 L132.6 97.22 L132.78 97.76 L132.96 98.96 L133.14 98.18 L133.32 96.52 L133.5 97.6 L133.68 93 L133.86 97.48 L134.04 98.07 L134.22 98.04 L134.4 94.53 L134.58 99.3 L134.76 93.53 L134.94 96.07 L135.12 95.3 L135.3 96.76 L135.48 93.27 L135.66 93.84 L135.84 139.5 L136.02 129.51 L136.2 123.32 L136.38 118.38 L136.56 113.19 L136.74 108.91 L136.92 102.02 L137.1 106.51 L137.28 102.02 L137.46 99.38 L137.64 100.24 L137.82 103.4 L138 101.48 L138.18 98.57 L138.36 102.06 L138.54 100.61 L138.72 100.54 L138.9 100.27 L139.08 97.06 L139.26 99.77 L139.44 99.89 L139.62 101.41 L139.8 99.69 L139.98 98.84 L140.16 94.64 L140.34 95.86 L140.52 96.18 L140.7 98.15 L140.88 97.24 L141.06 99.09 L141.24 98.31 L141.42 97.21 L141.6 97.91 L141.78 96.83 L141.96 94.93 L142.14 94.24 L142.32 96.76 L142.5 93.94 L142.68 96.18 L142.86 91.69 L143.04 91.04 L143.22 92.93 L143.4 94.79 L143.58 94.7 L143.76 96.78 L143.94 97.69 L144.12 99.71 L144.3 98.9 L144.48 99.51 L144.66 98.81 L144.84 96.61 L145.02 104.3 L145.2 103.3 L145.38 97.93 L145.56 97.96 L145.74 97.59 L145.92 105.87 L146.1 104.83 L146.28 104.9 L146.46 101.9" stroke="#2a2a2a" stroke-width="0.7" fill="none" stroke-linejoin="round"/>
<line x1="155" y1="132.8" x2="155" y2="146.4" stroke="#333" stroke-width="1"/>
<line x1="121.4" y1="146.2" x2="155.5" y2="146.2" stroke="#333" stroke-width="1"/>
<text x="157.5" y="142.3" font-size="6.8" fill="#000" stroke="#000" stroke-width="0.15">10 pA</text>
<text x="139.4" y="153.7" font-size="6.8" text-anchor="middle" fill="#000" stroke="#000" stroke-width="0.15">500 ms</text>
<text x="1" y="169.7" font-size="14.6" font-weight="bold" fill="#000">B</text>
<rect x="71.4" y="187" width="107" height="84.6" fill="#F97F3E" stroke="#8a6a5a" stroke-width="0.6"/>
<path d="M45 260.7 L46.7 259.9 L48.3 262.4 L49.7 261.2 L50.8 263.2 L52.5 265.7 L55 264 L56.6 264.8 L58.3 263.2 L60.8 261.9 L62.5 263.5 L65 260.7 L66.6 262.4 L69.1 260.7 L70.8 262.4 L72.4 260.7 L73.3 262.4 L75 256.6 L76.3 260 L78.3 249.9 L79.6 251.6 L80.6 241.6 L81.6 254.9 L82.9 251.6 L84.1 241.6 L85.3 256.6 L86.6 259 L88.3 253.2 L89.9 252.4 L90.9 258.2 L92.1 244.9 L93.2 217.5 L94.6 244.9 L95.7 252.4 L97.4 257.4 L99.9 256.6 L101.6 252.4 L102.9 246.6 L104.1 254.1 L105.7 243.2 L107.4 245.7 L109 235.8 L110.7 239.1 L111.4 241.2 L113.2 227.1 L114.6 249.6 L115.9 240.2 L117.7 251.5 L119.2 240.2 L121.5 226.2 L122.6 235.6 L123.9 231.8 L125.2 219.6 L126.7 235.6 L128.6 240.2 L130.5 246.8 L132 233.7 L133.3 198.1 L135.2 209.3 L136.5 230 L138.3 209.3 L139.8 228.1 L141.3 227.1 L142.6 234.6 L144.5 231.8 L145.5 236.5 L147.3 233.7 L148.8 241.2 L150.1 239.3 L151.4 234.6 L153.3 243 L154.8 241.2 L156.3 235.6 L157.6 234.6 L159.5 249.6 L161.4 243 L163.2 244 L165.1 250.5 L166.9 254.3 L167.9 256.2 L169.8 249.6 L171.7 252.4 L173.5 248.7 L175.4 250.5 L176.9 245.9 L177.7 246.8 L178.2 245 L178.2 271.6 L45 271.6 Z" stroke="none" stroke-width="0" fill="#C0C0C0"/>
<path d="M45 260.7 L46.7 259.9 L48.3 262.4 L49.7 261.2 L50.8 263.2 L52.5 265.7 L55 264 L56.6 264.8 L58.3 263.2 L60.8 261.9 L62.5 263.5 L65 260.7 L66.6 262.4 L69.1 260.7 L70.8 262.4 L72.4 260.7 L73.3 262.4 L75 256.6 L76.3 260 L78.3 249.9 L79.6 251.6 L80.6 241.6 L81.6 254.9 L82.9 251.6 L84.1 241.6 L85.3 256.6 L86.6 259 L88.3 253.2 L89.9 252.4 L90.9 258.2 L92.1 244.9 L93.2 217.5 L94.6 244.9 L95.7 252.4 L97.4 257.4 L99.9 256.6 L101.6 252.4 L102.9 246.6 L104.1 254.1 L105.7 243.2 L107.4 245.7 L109 235.8 L110.7 239.1 L111.4 241.2 L113.2 227.1 L114.6 249.6 L115.9 240.2 L117.7 251.5 L119.2 240.2 L121.5 226.2 L122.6 235.6 L123.9 231.8 L125.2 219.6 L126.7 235.6 L128.6 240.2 L130.5 246.8 L132 233.7 L133.3 198.1 L135.2 209.3 L136.5 230 L138.3 209.3 L139.8 228.1 L141.3 227.1 L142.6 234.6 L144.5 231.8 L145.5 236.5 L147.3 233.7 L148.8 241.2 L150.1 239.3 L151.4 234.6 L153.3 243 L154.8 241.2 L156.3 235.6 L157.6 234.6 L159.5 249.6 L161.4 243 L163.2 244 L165.1 250.5 L166.9 254.3 L167.9 256.2 L169.8 249.6 L171.7 252.4 L173.5 248.7 L175.4 250.5 L176.9 245.9 L177.7 246.8 L178.2 245" stroke="#000" stroke-width="0.9" fill="none" stroke-linejoin="round"/>
<line x1="45" y1="247.5" x2="178.2" y2="247.5" stroke="#0000FF" stroke-width="1.3" stroke-dasharray="5.5 3"/>
<line x1="38.6" y1="188.3" x2="38.6" y2="271.6" stroke="#000" stroke-width="1"/>
<line x1="38.6" y1="271.6" x2="34.6" y2="271.6" stroke="#000" stroke-width="1"/>
<line x1="38.6" y1="254.94" x2="34.6" y2="254.94" stroke="#000" stroke-width="1"/>
<line x1="38.6" y1="238.28" x2="34.6" y2="238.28" stroke="#000" stroke-width="1"/>
<line x1="38.6" y1="221.62" x2="34.6" y2="221.62" stroke="#000" stroke-width="1"/>
<line x1="38.6" y1="204.96" x2="34.6" y2="204.96" stroke="#000" stroke-width="1"/>
<line x1="38.6" y1="188.3" x2="34.6" y2="188.3" stroke="#000" stroke-width="1"/>
<line x1="38.6" y1="263.27" x2="36.1" y2="263.27" stroke="#000" stroke-width="1"/>
<line x1="38.6" y1="246.61" x2="36.1" y2="246.61" stroke="#000" stroke-width="1"/>
<line x1="38.6" y1="229.95" x2="36.1" y2="229.95" stroke="#000" stroke-width="1"/>
<line x1="38.6" y1="213.29" x2="36.1" y2="213.29" stroke="#000" stroke-width="1"/>
<line x1="38.6" y1="196.63" x2="36.1" y2="196.63" stroke="#000" stroke-width="1"/>
<line x1="44.7" y1="272" x2="178.2" y2="272" stroke="#000" stroke-width="1"/>
<line x1="44.7" y1="272" x2="44.7" y2="275.5" stroke="#000" stroke-width="1"/>
<line x1="71.4" y1="272" x2="71.4" y2="275.5" stroke="#000" stroke-width="1"/>
<line x1="98.1" y1="272" x2="98.1" y2="275.5" stroke="#000" stroke-width="1"/>
<line x1="124.8" y1="272" x2="124.8" y2="275.5" stroke="#000" stroke-width="1"/>
<line x1="151.5" y1="272" x2="151.5" y2="275.5" stroke="#000" stroke-width="1"/>
<line x1="178.2" y1="272" x2="178.2" y2="275.5" stroke="#000" stroke-width="1"/>
<line x1="58.05" y1="272" x2="58.05" y2="274.3" stroke="#000" stroke-width="1"/>
<line x1="84.75" y1="272" x2="84.75" y2="274.3" stroke="#000" stroke-width="1"/>
<line x1="111.45" y1="272" x2="111.45" y2="274.3" stroke="#000" stroke-width="1"/>
<line x1="138.15" y1="272" x2="138.15" y2="274.3" stroke="#000" stroke-width="1"/>
<line x1="164.85" y1="272" x2="164.85" y2="274.3" stroke="#000" stroke-width="1"/>
<text x="30.8" y="274.4" font-size="7.9" font-weight="bold" text-anchor="end" fill="#000">0</text>
<text x="30.8" y="257.74" font-size="7.9" font-weight="bold" text-anchor="end" fill="#000">10</text>
<text x="30.8" y="241.08" font-size="7.9" font-weight="bold" text-anchor="end" fill="#000">20</text>
<text x="30.8" y="224.42" font-size="7.9" font-weight="bold" text-anchor="end" fill="#000">30</text>
<text x="30.8" y="207.76" font-size="7.9" font-weight="bold" text-anchor="end" fill="#000">40</text>
<text x="30.8" y="191.1" font-size="7.9" font-weight="bold" text-anchor="end" fill="#000">50</text>
<text x="44.7" y="286.2" font-size="7.9" font-weight="bold" text-anchor="middle" fill="#000">0</text>
<text x="71.4" y="286.2" font-size="7.9" font-weight="bold" text-anchor="middle" fill="#000">300</text>
<text x="98.1" y="286.2" font-size="7.9" font-weight="bold" text-anchor="middle" fill="#000">600</text>
<text x="124.8" y="286.2" font-size="7.9" font-weight="bold" text-anchor="middle" fill="#000">900</text>
<text x="151.5" y="286.2" font-size="7.9" font-weight="bold" text-anchor="middle" fill="#000">1200</text>
<text x="178.2" y="286.2" font-size="7.9" font-weight="bold" text-anchor="middle" fill="#000">1500</text>
<text x="111.4" y="300.8" font-size="9.2" font-weight="bold" text-anchor="middle" fill="#000">Time (sec)</text>
<text x="12" y="230" font-size="9.2" font-weight="bold" text-anchor="middle" fill="#000" transform="rotate(-90 12 230)">sEPSCs (Hz)</text>
<text x="129.7" y="182.8" font-size="9.2" font-weight="bold" text-anchor="middle" fill="#000">NA (10 &#956;M)</text>
<text x="186.6" y="12" font-size="14.6" font-weight="bold" fill="#000">C</text>
<path d="M239.8 112 C239.88 110.67 240.08 106.65 240.3 104 C240.52 101.35 240.82 98.85 241.1 96.1 C241.38 93.35 241.68 90 242 87.5 C242.32 85 242.6 83.18 243 81.1 C243.4 79.02 243.93 76.87 244.4 75 C244.87 73.13 245.33 71.57 245.8 69.9 C246.27 68.23 246.73 66.55 247.2 65 C247.67 63.45 248.07 62.05 248.6 60.6 C249.13 59.15 249.78 57.62 250.4 56.3 C251.02 54.98 251.53 53.82 252.3 52.7 C253.07 51.58 254.07 50.53 255 49.6 C255.93 48.67 256.82 47.8 257.9 47.1 C258.98 46.4 260.25 45.9 261.5 45.4 C262.75 44.9 263.98 44.45 265.4 44.1 C266.82 43.75 268.12 43.52 270 43.3 C271.88 43.08 274.2 42.93 276.7 42.8 C279.2 42.67 279.55 42.57 285 42.5 C290.45 42.43 305.33 42.42 309.4 42.4" stroke="#000" stroke-width="2" fill="none"/>
<path d="M239.8 112 C239.88 110 240.12 104.5 240.3 100 C240.48 95.5 240.68 90 240.9 85 C241.12 80 241.37 74.5 241.6 70 C241.83 65.5 242.07 61.13 242.3 58 C242.53 54.87 242.75 53 243 51.2 C243.25 49.4 243.5 48.27 243.8 47.2 C244.1 46.13 244.32 45.47 244.8 44.8 C245.28 44.13 246 43.55 246.7 43.2 C247.4 42.85 248.12 42.82 249 42.7 C249.88 42.58 250.05 42.55 252 42.5 C253.95 42.45 259.25 42.42 260.7 42.4" stroke="#F97F3E" stroke-width="1.8" fill="none"/>
<line x1="228.4" y1="28.8" x2="228.4" y2="111.6" stroke="#000" stroke-width="1"/>
<line x1="228.4" y1="111.6" x2="224.4" y2="111.6" stroke="#000" stroke-width="1"/>
<line x1="228.4" y1="90.9" x2="224.4" y2="90.9" stroke="#000" stroke-width="1"/>
<line x1="228.4" y1="70.2" x2="224.4" y2="70.2" stroke="#000" stroke-width="1"/>
<line x1="228.4" y1="49.5" x2="224.4" y2="49.5" stroke="#000" stroke-width="1"/>
<line x1="228.4" y1="28.8" x2="224.4" y2="28.8" stroke="#000" stroke-width="1"/>
<line x1="228.4" y1="101.25" x2="225.9" y2="101.25" stroke="#000" stroke-width="1"/>
<line x1="228.4" y1="80.55" x2="225.9" y2="80.55" stroke="#000" stroke-width="1"/>
<line x1="228.4" y1="59.85" x2="225.9" y2="59.85" stroke="#000" stroke-width="1"/>
<line x1="228.4" y1="39.15" x2="225.9" y2="39.15" stroke="#000" stroke-width="1"/>
<line x1="232.1" y1="111.6" x2="316" y2="111.6" stroke="#000" stroke-width="1"/>
<line x1="239.9" y1="111.6" x2="239.9" y2="115.1" stroke="#000" stroke-width="1"/>
<line x1="277.95" y1="111.6" x2="277.95" y2="115.1" stroke="#000" stroke-width="1"/>
<line x1="316" y1="111.6" x2="316" y2="115.1" stroke="#000" stroke-width="1"/>
<line x1="258.93" y1="111.6" x2="258.93" y2="115.1" stroke="#000" stroke-width="1"/>
<line x1="296.98" y1="111.6" x2="296.98" y2="115.1" stroke="#000" stroke-width="1"/>
<text x="220" y="114.4" font-size="7.9" font-weight="bold" text-anchor="end" fill="#000">0.0</text>
<text x="220" y="93.7" font-size="7.9" font-weight="bold" text-anchor="end" fill="#000">0.3</text>
<text x="220" y="73" font-size="7.9" font-weight="bold" text-anchor="end" fill="#000">0.6</text>
<text x="220" y="52.3" font-size="7.9" font-weight="bold" text-anchor="end" fill="#000">0.9</text>
<text x="220" y="31.6" font-size="7.9" font-weight="bold" text-anchor="end" fill="#000">1.2</text>
<text x="239.9" y="126.8" font-size="7.9" font-weight="bold" text-anchor="middle" fill="#000">0</text>
<text x="277.95" y="126.8" font-size="7.9" font-weight="bold" text-anchor="middle" fill="#000">1000</text>
<text x="316" y="126.8" font-size="7.9" font-weight="bold" text-anchor="middle" fill="#000">2000</text>
<text x="272" y="142.2" font-size="8.15" font-weight="bold" text-anchor="middle" fill="#000">Inter-event interval (ms)</text>
<text x="201.4" y="72.1" font-size="8.1" font-weight="bold" text-anchor="middle" fill="#000" transform="rotate(-90 201.4 72.1)">Cumlative probability</text>
<line x1="280.4" y1="19.4" x2="294.9" y2="19.4" stroke="#000" stroke-width="2"/>
<line x1="280.4" y1="27.4" x2="294.9" y2="27.4" stroke="#F97F3E" stroke-width="2"/>
<text x="297.8" y="21.6" font-size="5.8" font-weight="bold" fill="#000">Baseline</text>
<text x="297.8" y="29.6" font-size="5.8" font-weight="bold" fill="#000">NA (10 &#956;M)</text>
<rect x="289.2" y="83.81" width="9.3" height="10.79" fill="#fff" stroke="#000" stroke-width="0.8"/>
<rect x="300.6" y="72.19" width="9.2" height="22.41" fill="#F97F3E" stroke="#000" stroke-width="0.8"/>
<line x1="293.85" y1="83.81" x2="293.85" y2="81.1" stroke="#000" stroke-width="0.8"/>
<line x1="289.2" y1="81.1" x2="298.5" y2="81.1" stroke="#000" stroke-width="0.9"/>
<line x1="305.2" y1="72.19" x2="305.2" y2="67.7" stroke="#000" stroke-width="0.8"/>
<line x1="300.6" y1="67.7" x2="309.8" y2="67.7" stroke="#000" stroke-width="0.9"/>
<line x1="281.3" y1="53.1" x2="281.3" y2="94.6" stroke="#000" stroke-width="0.6"/>
<line x1="281.3" y1="94.6" x2="279.3" y2="94.6" stroke="#000" stroke-width="0.6"/>
<line x1="281.3" y1="84.22" x2="279.3" y2="84.22" stroke="#000" stroke-width="0.6"/>
<line x1="281.3" y1="73.85" x2="279.3" y2="73.85" stroke="#000" stroke-width="0.6"/>
<line x1="281.3" y1="63.48" x2="279.3" y2="63.48" stroke="#000" stroke-width="0.6"/>
<line x1="281.3" y1="53.1" x2="279.3" y2="53.1" stroke="#000" stroke-width="0.6"/>
<line x1="281.3" y1="89.41" x2="280.1" y2="89.41" stroke="#000" stroke-width="0.6"/>
<line x1="281.3" y1="79.04" x2="280.1" y2="79.04" stroke="#000" stroke-width="0.6"/>
<line x1="281.3" y1="68.66" x2="280.1" y2="68.66" stroke="#000" stroke-width="0.6"/>
<line x1="281.3" y1="58.29" x2="280.1" y2="58.29" stroke="#000" stroke-width="0.6"/>
<line x1="282.3" y1="94.6" x2="316" y2="94.6" stroke="#000" stroke-width="0.8"/>
<text x="277.3" y="96.1" font-size="4.3" text-anchor="end" fill="#000" stroke="#000" stroke-width="0.25">0</text>
<text x="277.3" y="85.72" font-size="4.3" text-anchor="end" fill="#000" stroke="#000" stroke-width="0.25">5</text>
<text x="277.3" y="75.35" font-size="4.3" text-anchor="end" fill="#000" stroke="#000" stroke-width="0.25">10</text>
<text x="277.3" y="64.97" font-size="4.3" text-anchor="end" fill="#000" stroke="#000" stroke-width="0.25">15</text>
<text x="277.3" y="54.6" font-size="4.3" text-anchor="end" fill="#000" stroke="#000" stroke-width="0.25">20</text>
<text x="264.4" y="74.1" font-size="5.5" text-anchor="middle" fill="#000" transform="rotate(-90 264.4 74.1)" stroke="#000" stroke-width="0.25">sEPSCs Fre. (Hz)</text>
<text x="294.4" y="98.9" font-size="4.8" text-anchor="end" fill="#000" transform="rotate(-29 294.4 98.9)" stroke="#000" stroke-width="0.25">Baseline</text>
<text x="305.7" y="98" font-size="4.8" text-anchor="end" fill="#000" transform="rotate(-29 305.7 98)" stroke="#000" stroke-width="0.25">NA</text>
<path d="M236.8 257 C236.9 255 237.15 250.15 237.4 245 C237.65 239.85 238.05 230.93 238.3 226.1 C238.55 221.27 238.68 219.12 238.9 216 C239.12 212.88 239.32 209.98 239.6 207.4 C239.88 204.82 240.2 202.52 240.6 200.5 C241 198.48 241.43 196.8 242 195.3 C242.57 193.8 243.22 192.5 244 191.5 C244.78 190.5 245.53 189.88 246.7 189.3 C247.87 188.72 249.45 188.32 251 188 C252.55 187.68 253.67 187.5 256 187.4 C258.33 187.3 256.42 187.4 265 187.4 C273.58 187.4 300.42 187.4 307.5 187.4" stroke="#000" stroke-width="2" fill="none"/>
<path d="M237 257 C237.12 255.6 237.42 251.93 237.7 248.6 C237.98 245.27 238.38 240.75 238.7 237 C239.02 233.25 239.3 229.6 239.6 226.1 C239.9 222.6 240.18 219.12 240.5 216 C240.82 212.88 241.08 209.98 241.5 207.4 C241.92 204.82 242.45 202.52 243 200.5 C243.55 198.48 244.05 196.75 244.8 195.3 C245.55 193.85 246.55 192.75 247.5 191.8 C248.45 190.85 249.25 190.18 250.5 189.6 C251.75 189.02 253.13 188.6 255 188.3 C256.87 188 259.2 187.9 261.7 187.8 C264.2 187.7 264.85 187.73 270 187.7 C275.15 187.67 288.83 187.62 292.6 187.6" stroke="#F97F3E" stroke-width="1.9" fill="none"/>
<line x1="228.2" y1="173.9" x2="228.2" y2="257.1" stroke="#000" stroke-width="1"/>
<line x1="228.2" y1="257.1" x2="224.2" y2="257.1" stroke="#000" stroke-width="1"/>
<line x1="228.2" y1="236.31" x2="224.2" y2="236.31" stroke="#000" stroke-width="1"/>
<line x1="228.2" y1="215.52" x2="224.2" y2="215.52" stroke="#000" stroke-width="1"/>
<line x1="228.2" y1="194.73" x2="224.2" y2="194.73" stroke="#000" stroke-width="1"/>
<line x1="228.2" y1="173.94" x2="224.2" y2="173.94" stroke="#000" stroke-width="1"/>
<line x1="228.2" y1="246.71" x2="225.7" y2="246.71" stroke="#000" stroke-width="1"/>
<line x1="228.2" y1="225.92" x2="225.7" y2="225.92" stroke="#000" stroke-width="1"/>
<line x1="228.2" y1="205.13" x2="225.7" y2="205.13" stroke="#000" stroke-width="1"/>
<line x1="228.2" y1="184.34" x2="225.7" y2="184.34" stroke="#000" stroke-width="1"/>
<line x1="232.3" y1="257.2" x2="315.5" y2="257.2" stroke="#000" stroke-width="1"/>
<line x1="232.3" y1="257.2" x2="232.3" y2="260.7" stroke="#000" stroke-width="1"/>
<line x1="253.1" y1="257.2" x2="253.1" y2="260.7" stroke="#000" stroke-width="1"/>
<line x1="273.9" y1="257.2" x2="273.9" y2="260.7" stroke="#000" stroke-width="1"/>
<line x1="294.7" y1="257.2" x2="294.7" y2="260.7" stroke="#000" stroke-width="1"/>
<line x1="315.5" y1="257.2" x2="315.5" y2="260.7" stroke="#000" stroke-width="1"/>
<line x1="242.7" y1="257.2" x2="242.7" y2="259.7" stroke="#000" stroke-width="1"/>
<line x1="263.5" y1="257.2" x2="263.5" y2="259.7" stroke="#000" stroke-width="1"/>
<line x1="284.3" y1="257.2" x2="284.3" y2="259.7" stroke="#000" stroke-width="1"/>
<line x1="305.1" y1="257.2" x2="305.1" y2="259.7" stroke="#000" stroke-width="1"/>
<text x="219.8" y="259.9" font-size="7.9" font-weight="bold" text-anchor="end" fill="#000">0.0</text>
<text x="219.8" y="239.11" font-size="7.9" font-weight="bold" text-anchor="end" fill="#000">0.3</text>
<text x="219.8" y="218.32" font-size="7.9" font-weight="bold" text-anchor="end" fill="#000">0.6</text>
<text x="219.8" y="197.53" font-size="7.9" font-weight="bold" text-anchor="end" fill="#000">0.9</text>
<text x="219.8" y="176.74" font-size="7.9" font-weight="bold" text-anchor="end" fill="#000">1.2</text>
<text x="232.3" y="271.8" font-size="7.9" font-weight="bold" text-anchor="middle" fill="#000">0</text>
<text x="253.1" y="271.8" font-size="7.9" font-weight="bold" text-anchor="middle" fill="#000">20</text>
<text x="273.9" y="271.8" font-size="7.9" font-weight="bold" text-anchor="middle" fill="#000">40</text>
<text x="294.7" y="271.8" font-size="7.9" font-weight="bold" text-anchor="middle" fill="#000">60</text>
<text x="315.5" y="271.8" font-size="7.9" font-weight="bold" text-anchor="middle" fill="#000">80</text>
<text x="273.8" y="286.9" font-size="8.15" font-weight="bold" text-anchor="middle" fill="#000">Amplitude (pA)</text>
<text x="202.3" y="215.5" font-size="8.1" font-weight="bold" text-anchor="middle" fill="#000" transform="rotate(-90 202.3 215.5)">Cumlative probability</text>
<rect x="289.2" y="219.72" width="9.3" height="20.48" fill="#fff" stroke="#000" stroke-width="0.8"/>
<rect x="300.6" y="217.77" width="9.2" height="22.43" fill="#F97F3E" stroke="#000" stroke-width="0.8"/>
<line x1="289.2" y1="219.3" x2="298.5" y2="219.3" stroke="#000" stroke-width="1"/>
<line x1="300.6" y1="216.3" x2="309.8" y2="216.3" stroke="#000" stroke-width="0.9"/>
<line x1="305.2" y1="216.3" x2="305.2" y2="217.77" stroke="#000" stroke-width="0.8"/>
<line x1="281.5" y1="198.4" x2="281.5" y2="240.2" stroke="#000" stroke-width="0.6"/>
<line x1="281.5" y1="240.2" x2="279.5" y2="240.2" stroke="#000" stroke-width="0.6"/>
<line x1="281.5" y1="226.27" x2="279.5" y2="226.27" stroke="#000" stroke-width="0.6"/>
<line x1="281.5" y1="212.33" x2="279.5" y2="212.33" stroke="#000" stroke-width="0.6"/>
<line x1="281.5" y1="198.4" x2="279.5" y2="198.4" stroke="#000" stroke-width="0.6"/>
<line x1="281.5" y1="233.23" x2="280.3" y2="233.23" stroke="#000" stroke-width="0.6"/>
<line x1="281.5" y1="219.3" x2="280.3" y2="219.3" stroke="#000" stroke-width="0.6"/>
<line x1="281.5" y1="205.37" x2="280.3" y2="205.37" stroke="#000" stroke-width="0.6"/>
<line x1="282.5" y1="240.2" x2="316" y2="240.2" stroke="#000" stroke-width="0.8"/>
<text x="277.3" y="241.7" font-size="4.3" text-anchor="end" fill="#000" stroke="#000" stroke-width="0.25">0</text>
<text x="277.3" y="227.77" font-size="4.3" text-anchor="end" fill="#000" stroke="#000" stroke-width="0.25">5</text>
<text x="277.3" y="213.83" font-size="4.3" text-anchor="end" fill="#000" stroke="#000" stroke-width="0.25">10</text>
<text x="277.3" y="199.9" font-size="4.3" text-anchor="end" fill="#000" stroke="#000" stroke-width="0.25">15</text>
<text x="264.4" y="217.7" font-size="5.5" text-anchor="middle" fill="#000" transform="rotate(-90 264.4 217.7)" stroke="#000" stroke-width="0.25">sEPSCs Amp. (pA)</text>
<text x="294.4" y="244.9" font-size="4.8" text-anchor="end" fill="#000" transform="rotate(-29 294.4 244.9)" stroke="#000" stroke-width="0.25">Baseline</text>
<text x="305.7" y="243.5" font-size="4.8" text-anchor="end" fill="#000" transform="rotate(-29 305.7 243.5)" stroke="#000" stroke-width="0.25">NA</text>
<text x="1" y="326.8" font-size="14.6" font-weight="bold" fill="#000">D</text>
<line x1="69.6" y1="338.8" x2="180.8" y2="338.8" stroke="#000" stroke-width="2.2"/>
<text x="125.2" y="334.4" font-size="9.3" font-weight="bold" text-anchor="middle" fill="#000">NA</text>
<line x1="45" y1="412" x2="181" y2="412" stroke="#3a3a3a" stroke-width="1.2" stroke-dasharray="4.5 2.5"/>
<path d="M57.22 412.13 L70.6 412.13 L83.97 409.13 L97.35 405.46 L110.72 402.96 L124.1 396.63 L137.47 387.46 L150.85 380.12 L164.22 382.46 L177.6 389.13" stroke="#000" stroke-width="0.9" fill="none"/>
<path d="M57.22 412.13 L70.6 412.13 L83.97 410.63 L97.35 410.63 L110.72 407.46 L124.1 402.29 L137.47 390.79 L150.85 385.79 L164.22 390.79 L177.6 402.96" stroke="#000" stroke-width="0.9" fill="none"/>
<path d="M57.22 412.13 L70.6 412.13 L83.97 406.8 L97.35 400.96 L110.72 406.8 L124.1 391.96 L137.47 372.12 L150.85 366.95 L164.22 377.12 L177.6 384.46" stroke="#000" stroke-width="0.9" fill="none"/>
<circle cx="57.22" cy="412.13" r="4.3" fill="#F97F3E" stroke="#000" stroke-width="0.7"/>
<circle cx="70.6" cy="412.13" r="4.3" fill="#F97F3E" stroke="#000" stroke-width="0.7"/>
<circle cx="83.97" cy="409.13" r="4.3" fill="#F97F3E" stroke="#000" stroke-width="0.7"/>
<circle cx="97.35" cy="405.46" r="4.3" fill="#F97F3E" stroke="#000" stroke-width="0.7"/>
<circle cx="110.72" cy="402.96" r="4.3" fill="#F97F3E" stroke="#000" stroke-width="0.7"/>
<circle cx="124.1" cy="396.63" r="4.3" fill="#F97F3E" stroke="#000" stroke-width="0.7"/>
<circle cx="137.47" cy="387.46" r="4.3" fill="#F97F3E" stroke="#000" stroke-width="0.7"/>
<circle cx="150.85" cy="380.12" r="4.3" fill="#F97F3E" stroke="#000" stroke-width="0.7"/>
<circle cx="164.22" cy="382.46" r="4.3" fill="#F97F3E" stroke="#000" stroke-width="0.7"/>
<circle cx="177.6" cy="389.13" r="4.3" fill="#F97F3E" stroke="#000" stroke-width="0.7"/>
<circle cx="57.22" cy="412.13" r="4.3" fill="#FF0000" stroke="#000" stroke-width="0.7"/>
<circle cx="70.6" cy="412.13" r="4.3" fill="#FF0000" stroke="#000" stroke-width="0.7"/>
<circle cx="83.97" cy="410.63" r="4.3" fill="#FF0000" stroke="#000" stroke-width="0.7"/>
<circle cx="97.35" cy="410.63" r="4.3" fill="#FF0000" stroke="#000" stroke-width="0.7"/>
<circle cx="110.72" cy="407.46" r="4.3" fill="#FF0000" stroke="#000" stroke-width="0.7"/>
<circle cx="124.1" cy="402.29" r="4.3" fill="#FF0000" stroke="#000" stroke-width="0.7"/>
<circle cx="137.47" cy="390.79" r="4.3" fill="#FF0000" stroke="#000" stroke-width="0.7"/>
<circle cx="150.85" cy="385.79" r="4.3" fill="#FF0000" stroke="#000" stroke-width="0.7"/>
<circle cx="164.22" cy="390.79" r="4.3" fill="#FF0000" stroke="#000" stroke-width="0.7"/>
<circle cx="177.6" cy="402.96" r="4.3" fill="#FF0000" stroke="#000" stroke-width="0.7"/>
<circle cx="57.22" cy="412.13" r="4.3" fill="#000" stroke="#000" stroke-width="0.7"/>
<circle cx="70.6" cy="412.13" r="4.3" fill="#000" stroke="#000" stroke-width="0.7"/>
<circle cx="83.97" cy="406.8" r="4.3" fill="#000" stroke="#000" stroke-width="0.7"/>
<circle cx="97.35" cy="400.96" r="4.3" fill="#000" stroke="#000" stroke-width="0.7"/>
<circle cx="110.72" cy="406.8" r="4.3" fill="#000" stroke="#000" stroke-width="0.7"/>
<circle cx="124.1" cy="391.96" r="4.3" fill="#000" stroke="#000" stroke-width="0.7"/>
<circle cx="137.47" cy="372.12" r="4.3" fill="#000" stroke="#000" stroke-width="0.7"/>
<circle cx="150.85" cy="366.95" r="4.3" fill="#000" stroke="#000" stroke-width="0.7"/>
<circle cx="164.22" cy="377.12" r="4.3" fill="#000" stroke="#000" stroke-width="0.7"/>
<circle cx="177.6" cy="384.46" r="4.3" fill="#000" stroke="#000" stroke-width="0.7"/>
<line x1="83.97" y1="412.46" x2="83.97" y2="405.8" stroke="#333" stroke-width="0.8"/>
<line x1="81.57" y1="405.8" x2="86.38" y2="405.8" stroke="#444" stroke-width="1"/>
<line x1="81.57" y1="412.46" x2="86.38" y2="412.46" stroke="#444" stroke-width="1"/>
<line x1="97.35" y1="409.63" x2="97.35" y2="401.29" stroke="#333" stroke-width="0.8"/>
<line x1="94.95" y1="401.29" x2="99.75" y2="401.29" stroke="#444" stroke-width="1"/>
<line x1="94.95" y1="409.63" x2="99.75" y2="409.63" stroke="#444" stroke-width="1"/>
<line x1="110.72" y1="411.96" x2="110.72" y2="393.96" stroke="#333" stroke-width="0.8"/>
<line x1="108.32" y1="393.96" x2="113.12" y2="393.96" stroke="#444" stroke-width="1"/>
<line x1="108.32" y1="411.96" x2="113.12" y2="411.96" stroke="#444" stroke-width="1"/>
<line x1="124.1" y1="403.29" x2="124.1" y2="389.96" stroke="#333" stroke-width="0.8"/>
<line x1="121.7" y1="389.96" x2="126.5" y2="389.96" stroke="#444" stroke-width="1"/>
<line x1="121.7" y1="403.29" x2="126.5" y2="403.29" stroke="#444" stroke-width="1"/>
<line x1="137.47" y1="400.63" x2="137.47" y2="374.29" stroke="#333" stroke-width="0.8"/>
<line x1="135.07" y1="374.29" x2="139.88" y2="374.29" stroke="#444" stroke-width="1"/>
<line x1="135.07" y1="400.63" x2="139.88" y2="400.63" stroke="#444" stroke-width="1"/>
<line x1="150.85" y1="395.13" x2="150.85" y2="365.12" stroke="#333" stroke-width="0.8"/>
<line x1="148.45" y1="365.12" x2="153.25" y2="365.12" stroke="#444" stroke-width="1"/>
<line x1="148.45" y1="395.13" x2="153.25" y2="395.13" stroke="#444" stroke-width="1"/>
<line x1="164.22" y1="390.79" x2="164.22" y2="374.12" stroke="#333" stroke-width="0.8"/>
<line x1="161.82" y1="374.12" x2="166.62" y2="374.12" stroke="#444" stroke-width="1"/>
<line x1="161.82" y1="390.79" x2="166.62" y2="390.79" stroke="#444" stroke-width="1"/>
<line x1="177.6" y1="395.79" x2="177.6" y2="382.46" stroke="#333" stroke-width="0.8"/>
<line x1="175.2" y1="382.46" x2="180" y2="382.46" stroke="#444" stroke-width="1"/>
<line x1="175.2" y1="395.79" x2="180" y2="395.79" stroke="#444" stroke-width="1"/>
<line x1="83.97" y1="413.13" x2="83.97" y2="408.13" stroke="#333" stroke-width="0.8"/>
<line x1="81.57" y1="408.13" x2="86.38" y2="408.13" stroke="#444" stroke-width="1"/>
<line x1="81.57" y1="413.13" x2="86.38" y2="413.13" stroke="#444" stroke-width="1"/>
<line x1="97.35" y1="413.13" x2="97.35" y2="408.13" stroke="#333" stroke-width="0.8"/>
<line x1="94.95" y1="408.13" x2="99.75" y2="408.13" stroke="#444" stroke-width="1"/>
<line x1="94.95" y1="413.13" x2="99.75" y2="413.13" stroke="#444" stroke-width="1"/>
<line x1="110.72" y1="410.8" x2="110.72" y2="404.13" stroke="#333" stroke-width="0.8"/>
<line x1="108.32" y1="404.13" x2="113.12" y2="404.13" stroke="#444" stroke-width="1"/>
<line x1="108.32" y1="410.8" x2="113.12" y2="410.8" stroke="#444" stroke-width="1"/>
<line x1="124.1" y1="407.96" x2="124.1" y2="396.63" stroke="#333" stroke-width="0.8"/>
<line x1="121.7" y1="396.63" x2="126.5" y2="396.63" stroke="#444" stroke-width="1"/>
<line x1="121.7" y1="407.96" x2="126.5" y2="407.96" stroke="#444" stroke-width="1"/>
<line x1="137.47" y1="400.63" x2="137.47" y2="380.96" stroke="#333" stroke-width="0.8"/>
<line x1="135.07" y1="380.96" x2="139.88" y2="380.96" stroke="#444" stroke-width="1"/>
<line x1="135.07" y1="400.63" x2="139.88" y2="400.63" stroke="#444" stroke-width="1"/>
<line x1="150.85" y1="401.46" x2="150.85" y2="370.12" stroke="#333" stroke-width="0.8"/>
<line x1="148.45" y1="370.12" x2="153.25" y2="370.12" stroke="#444" stroke-width="1"/>
<line x1="148.45" y1="401.46" x2="153.25" y2="401.46" stroke="#444" stroke-width="1"/>
<line x1="164.22" y1="402.79" x2="164.22" y2="378.79" stroke="#333" stroke-width="0.8"/>
<line x1="161.82" y1="378.79" x2="166.62" y2="378.79" stroke="#444" stroke-width="1"/>
<line x1="161.82" y1="402.79" x2="166.62" y2="402.79" stroke="#444" stroke-width="1"/>
<line x1="177.6" y1="409.8" x2="177.6" y2="396.13" stroke="#333" stroke-width="0.8"/>
<line x1="175.2" y1="396.13" x2="180" y2="396.13" stroke="#444" stroke-width="1"/>
<line x1="175.2" y1="409.8" x2="180" y2="409.8" stroke="#444" stroke-width="1"/>
<line x1="83.97" y1="414.63" x2="83.97" y2="398.96" stroke="#333" stroke-width="0.8"/>
<line x1="81.57" y1="398.96" x2="86.38" y2="398.96" stroke="#444" stroke-width="1"/>
<line x1="81.57" y1="414.63" x2="86.38" y2="414.63" stroke="#444" stroke-width="1"/>
<line x1="97.35" y1="411.63" x2="97.35" y2="390.29" stroke="#333" stroke-width="0.8"/>
<line x1="94.95" y1="390.29" x2="99.75" y2="390.29" stroke="#444" stroke-width="1"/>
<line x1="94.95" y1="411.63" x2="99.75" y2="411.63" stroke="#444" stroke-width="1"/>
<line x1="110.72" y1="413.46" x2="110.72" y2="400.13" stroke="#333" stroke-width="0.8"/>
<line x1="108.32" y1="400.13" x2="113.12" y2="400.13" stroke="#444" stroke-width="1"/>
<line x1="108.32" y1="413.46" x2="113.12" y2="413.46" stroke="#444" stroke-width="1"/>
<line x1="124.1" y1="403.96" x2="124.1" y2="379.96" stroke="#333" stroke-width="0.8"/>
<line x1="121.7" y1="379.96" x2="126.5" y2="379.96" stroke="#444" stroke-width="1"/>
<line x1="121.7" y1="403.96" x2="126.5" y2="403.96" stroke="#444" stroke-width="1"/>
<line x1="137.47" y1="392.29" x2="137.47" y2="351.95" stroke="#333" stroke-width="0.8"/>
<line x1="135.07" y1="351.95" x2="139.88" y2="351.95" stroke="#444" stroke-width="1"/>
<line x1="135.07" y1="392.29" x2="139.88" y2="392.29" stroke="#444" stroke-width="1"/>
<line x1="150.85" y1="385.96" x2="150.85" y2="347.95" stroke="#333" stroke-width="0.8"/>
<line x1="148.45" y1="347.95" x2="153.25" y2="347.95" stroke="#444" stroke-width="1"/>
<line x1="148.45" y1="385.96" x2="153.25" y2="385.96" stroke="#444" stroke-width="1"/>
<line x1="164.22" y1="389.63" x2="164.22" y2="364.62" stroke="#333" stroke-width="0.8"/>
<line x1="161.82" y1="364.62" x2="166.62" y2="364.62" stroke="#444" stroke-width="1"/>
<line x1="161.82" y1="389.63" x2="166.62" y2="389.63" stroke="#444" stroke-width="1"/>
<line x1="177.6" y1="393.13" x2="177.6" y2="375.79" stroke="#333" stroke-width="0.8"/>
<line x1="175.2" y1="375.79" x2="180" y2="375.79" stroke="#444" stroke-width="1"/>
<line x1="175.2" y1="393.13" x2="180" y2="393.13" stroke="#444" stroke-width="1"/>
<rect x="144.1" y="346.6" width="13.5" height="64" fill="none" stroke="#0000FF" stroke-width="1.4"/>
<line x1="37.4" y1="345.5" x2="37.4" y2="428.8" stroke="#000" stroke-width="1"/>
<line x1="37.4" y1="428.8" x2="33.6" y2="428.8" stroke="#000" stroke-width="1"/>
<line x1="37.4" y1="412.13" x2="33.6" y2="412.13" stroke="#000" stroke-width="1"/>
<line x1="37.4" y1="395.46" x2="33.6" y2="395.46" stroke="#000" stroke-width="1"/>
<line x1="37.4" y1="378.79" x2="33.6" y2="378.79" stroke="#000" stroke-width="1"/>
<line x1="37.4" y1="362.12" x2="33.6" y2="362.12" stroke="#000" stroke-width="1"/>
<line x1="37.4" y1="345.45" x2="33.6" y2="345.45" stroke="#000" stroke-width="1"/>
<line x1="37.4" y1="420.47" x2="35.1" y2="420.47" stroke="#000" stroke-width="1"/>
<line x1="37.4" y1="403.8" x2="35.1" y2="403.8" stroke="#000" stroke-width="1"/>
<line x1="37.4" y1="387.12" x2="35.1" y2="387.12" stroke="#000" stroke-width="1"/>
<line x1="37.4" y1="370.46" x2="35.1" y2="370.46" stroke="#000" stroke-width="1"/>
<line x1="37.4" y1="353.79" x2="35.1" y2="353.79" stroke="#000" stroke-width="1"/>
<line x1="44" y1="428.9" x2="177.7" y2="428.9" stroke="#000" stroke-width="1"/>
<line x1="43.85" y1="428.9" x2="43.85" y2="431.9" stroke="#000" stroke-width="1"/>
<line x1="70.6" y1="428.9" x2="70.6" y2="431.9" stroke="#000" stroke-width="1"/>
<line x1="97.35" y1="428.9" x2="97.35" y2="431.9" stroke="#000" stroke-width="1"/>
<line x1="124.1" y1="428.9" x2="124.1" y2="431.9" stroke="#000" stroke-width="1"/>
<line x1="150.85" y1="428.9" x2="150.85" y2="431.9" stroke="#000" stroke-width="1"/>
<line x1="177.6" y1="428.9" x2="177.6" y2="431.9" stroke="#000" stroke-width="1"/>
<line x1="57.22" y1="428.9" x2="57.22" y2="430.9" stroke="#000" stroke-width="1"/>
<line x1="83.97" y1="428.9" x2="83.97" y2="430.9" stroke="#000" stroke-width="1"/>
<line x1="110.72" y1="428.9" x2="110.72" y2="430.9" stroke="#000" stroke-width="1"/>
<line x1="137.47" y1="428.9" x2="137.47" y2="430.9" stroke="#000" stroke-width="1"/>
<line x1="164.22" y1="428.9" x2="164.22" y2="430.9" stroke="#000" stroke-width="1"/>
<text x="29.6" y="431.6" font-size="7.9" font-weight="bold" text-anchor="end" fill="#000">0</text>
<text x="29.6" y="414.93" font-size="7.9" font-weight="bold" text-anchor="end" fill="#000">100</text>
<text x="29.6" y="398.26" font-size="7.9" font-weight="bold" text-anchor="end" fill="#000">200</text>
<text x="29.6" y="381.59" font-size="7.9" font-weight="bold" text-anchor="end" fill="#000">300</text>
<text x="29.6" y="364.92" font-size="7.9" font-weight="bold" text-anchor="end" fill="#000">400</text>
<text x="29.6" y="348.25" font-size="7.9" font-weight="bold" text-anchor="end" fill="#000">500</text>
<text x="43.85" y="443.8" font-size="7.9" font-weight="bold" text-anchor="middle" fill="#000">-5</text>
<text x="70.6" y="443.8" font-size="7.9" font-weight="bold" text-anchor="middle" fill="#000">0</text>
<text x="97.35" y="443.8" font-size="7.9" font-weight="bold" text-anchor="middle" fill="#000">5</text>
<text x="124.1" y="443.8" font-size="7.9" font-weight="bold" text-anchor="middle" fill="#000">10</text>
<text x="150.85" y="443.8" font-size="7.9" font-weight="bold" text-anchor="middle" fill="#000">15</text>
<text x="177.6" y="443.8" font-size="7.9" font-weight="bold" text-anchor="middle" fill="#000">20</text>
<text x="111.5" y="459.3" font-size="9.2" font-weight="bold" text-anchor="middle" fill="#000">Time (min)</text>
<text x="8.6" y="386" font-size="9.3" font-weight="bold" text-anchor="middle" fill="#000" transform="rotate(-90 8.6 386)">sEPSCs Fre. (%)</text>
<line x1="48.9" y1="355.7" x2="62" y2="355.7" stroke="#000" stroke-width="0.9"/>
<circle cx="55.5" cy="355.7" r="4.3" fill="#F97F3E" stroke="#000" stroke-width="0.7"/>
<text x="65.7" y="357.9" font-size="5.8" font-weight="bold" fill="#000">(10 &#956;M)</text>
<line x1="48.9" y1="366.9" x2="62" y2="366.9" stroke="#000" stroke-width="0.9"/>
<circle cx="55.5" cy="366.9" r="4.3" fill="#FF0000" stroke="#000" stroke-width="0.7"/>
<text x="65.7" y="369.1" font-size="5.8" font-weight="bold" fill="#000">(50 &#956;M)</text>
<line x1="48.9" y1="378.1" x2="62" y2="378.1" stroke="#000" stroke-width="0.9"/>
<circle cx="55.5" cy="378.1" r="4.3" fill="#000" stroke="#000" stroke-width="0.7"/>
<text x="65.7" y="380.3" font-size="5.8" font-weight="bold" fill="#000">(100 &#956;M)</text>
<line x1="228.3" y1="345.6" x2="228.3" y2="428.4" stroke="#000" stroke-width="1"/>
<line x1="228.3" y1="428.4" x2="224.5" y2="428.4" stroke="#000" stroke-width="1"/>
<line x1="228.3" y1="411.84" x2="224.5" y2="411.84" stroke="#000" stroke-width="1"/>
<line x1="228.3" y1="395.28" x2="224.5" y2="395.28" stroke="#000" stroke-width="1"/>
<line x1="228.3" y1="378.72" x2="224.5" y2="378.72" stroke="#000" stroke-width="1"/>
<line x1="228.3" y1="362.16" x2="224.5" y2="362.16" stroke="#000" stroke-width="1"/>
<line x1="228.3" y1="345.6" x2="224.5" y2="345.6" stroke="#000" stroke-width="1"/>
<line x1="228.3" y1="420.12" x2="226" y2="420.12" stroke="#000" stroke-width="1"/>
<line x1="228.3" y1="403.56" x2="226" y2="403.56" stroke="#000" stroke-width="1"/>
<line x1="228.3" y1="387" x2="226" y2="387" stroke="#000" stroke-width="1"/>
<line x1="228.3" y1="370.44" x2="226" y2="370.44" stroke="#000" stroke-width="1"/>
<line x1="228.3" y1="353.88" x2="226" y2="353.88" stroke="#000" stroke-width="1"/>
<line x1="231.9" y1="428.4" x2="316.3" y2="428.4" stroke="#000" stroke-width="1"/>
<rect x="242.2" y="411.84" width="14.2" height="16.56" fill="#fff" stroke="#000" stroke-width="0.9"/>
<rect x="259.3" y="382.36" width="13.1" height="46.04" fill="#F97F3E" stroke="#000" stroke-width="0.9"/>
<line x1="265.85" y1="382.36" x2="265.85" y2="379.05" stroke="#000" stroke-width="0.9"/>
<line x1="259.3" y1="379.05" x2="272.4" y2="379.05" stroke="#000" stroke-width="1"/>
<rect x="275.8" y="386.17" width="13.3" height="42.23" fill="#FF0000" stroke="#000" stroke-width="0.9"/>
<line x1="282.45" y1="386.17" x2="282.45" y2="383.36" stroke="#000" stroke-width="0.9"/>
<line x1="275.8" y1="383.36" x2="289.1" y2="383.36" stroke="#000" stroke-width="1"/>
<rect x="292.3" y="368.62" width="13.7" height="59.78" fill="#000" stroke="#000" stroke-width="0.9"/>
<line x1="299.15" y1="368.62" x2="299.15" y2="355.37" stroke="#000" stroke-width="0.9"/>
<line x1="292.3" y1="355.37" x2="306" y2="355.37" stroke="#000" stroke-width="1"/>
<line x1="229" y1="411.7" x2="316.5" y2="411.7" stroke="#444" stroke-width="1.2" stroke-dasharray="4.5 2.5"/>
<text x="266.2" y="380.1" font-size="16.5" font-weight="bold" text-anchor="middle" fill="#000">*</text>
<text x="282.6" y="384.4" font-size="16.5" font-weight="bold" text-anchor="middle" fill="#000">*</text>
<text x="299.4" y="356.1" font-size="16.5" font-weight="bold" text-anchor="middle" fill="#000">**</text>
<text x="220.6" y="431.2" font-size="7.9" font-weight="bold" text-anchor="end" fill="#000">0</text>
<text x="220.6" y="414.64" font-size="7.9" font-weight="bold" text-anchor="end" fill="#000">100</text>
<text x="220.6" y="398.08" font-size="7.9" font-weight="bold" text-anchor="end" fill="#000">200</text>
<text x="220.6" y="381.52" font-size="7.9" font-weight="bold" text-anchor="end" fill="#000">300</text>
<text x="220.6" y="364.96" font-size="7.9" font-weight="bold" text-anchor="end" fill="#000">400</text>
<text x="220.6" y="348.4" font-size="7.9" font-weight="bold" text-anchor="end" fill="#000">500</text>
<text x="199.5" y="387" font-size="9.3" font-weight="bold" text-anchor="middle" fill="#000" transform="rotate(-90 199.5 387)">sEPSCs Fre. (%)</text>
<text x="250.8" y="435.6" font-size="8" font-weight="bold" text-anchor="end" fill="#000" transform="rotate(-33 250.8 435.6)">Baseline</text>
<text x="268.5" y="435.6" font-size="8" font-weight="bold" text-anchor="end" fill="#000" transform="rotate(-33 268.5 435.6)" letter-spacing="0.15">10 &#956;M</text>
<text x="284.3" y="435.6" font-size="8" font-weight="bold" text-anchor="end" fill="#000" transform="rotate(-33 284.3 435.6)" letter-spacing="0.15">50 &#956;M</text>
<text x="301.7" y="435.6" font-size="8" font-weight="bold" text-anchor="end" fill="#000" transform="rotate(-33 301.7 435.6)" letter-spacing="0.15">100 &#956;M</text>
<line x1="258.7" y1="453.6" x2="307.7" y2="453.6" stroke="#000" stroke-width="1.8"/>
<text x="283.6" y="462.9" font-size="8.8" font-weight="bold" text-anchor="middle" fill="#000">NA</text>
<text x="345" y="12" font-size="14.6" font-weight="bold" fill="#000">E</text>
<text x="436.5" y="10.9" font-size="9.3" font-weight="bold" text-anchor="middle" fill="#000">Baseline</text>
<text x="596.3" y="10.9" font-size="9.3" font-weight="bold" text-anchor="middle" fill="#000">NA (10 &#956;M) after 15 min</text>
<text x="362.6" y="23.3" font-size="9.3" font-weight="bold" fill="#000">+ Prazosin</text>
<text x="362.6" y="70.3" font-size="9.3" font-weight="bold" fill="#000">+ Yohimbine</text>
<text x="362.6" y="119.2" font-size="9.3" font-weight="bold" fill="#000">+ Propranolol</text>
<path d="M370.3 35.4 L370.66 35.63 L371.02 35.61 L371.38 35.81 L371.74 35.72 L372.1 35.42 L372.46 35.59 L372.82 35.58 L373.18 35.16 L373.54 34.59 L373.9 34.15 L374.26 33.63 L374.62 33.58 L374.98 33.47 L375.34 33.86 L375.7 34.27 L376.06 35.23 L376.42 35.49 L376.78 36.61 L377.14 35.9 L377.5 35.53 L377.86 35.46 L378.22 35.62 L378.58 35.83 L378.94 36.37 L379.3 35.87 L379.66 36.13 L380.02 36.89 L380.38 36.86 L380.74 36.82 L381.1 36.42 L381.46 36.21 L381.82 36.6 L382.18 37.08 L382.54 37.54 L382.9 37.46 L383.26 37.68 L383.62 37.42 L383.98 37.27 L384.34 37.56 L384.7 36.9 L385.06 36.08 L385.42 36.91 L385.78 35.88 L386.14 36.73 L386.5 36.6 L386.86 36.13 L387.22 36.34 L387.58 36.76 L387.94 35.69 L388.3 35.8 L388.66 35.47 L389.02 35.6 L389.38 36.3 L389.74 36.51 L390.1 36.36 L390.46 36.98 L390.82 37.5 L391.18 37.02 L391.54 37.07 L391.9 36.74 L392.26 37.05 L392.62 36.68 L392.98 36.11 L393.34 36.19 L393.7 37.05 L394.06 37.64 L394.42 37.2 L394.78 36.76 L395.14 36.75 L395.5 36.92 L395.86 36.28 L396.22 35.78 L396.58 35.68 L396.94 35.49 L397.3 36.5 L397.66 37.94 L398.02 37.74 L398.38 38.55 L398.74 38.66 L399.1 37.83 L399.46 37.9 L399.82 37.03 L400.18 36.32 L400.54 36.55 L400.9 36.15 L401.26 35.76 L401.62 36.19 L401.98 36.21 L402.34 36.31 L402.7 35.67 L403.06 35.41 L403.42 35.04 L403.78 35.32 L404.14 34.89 L404.5 34.66 L404.86 34.67 L405.22 35.16 L405.58 34.91 L405.94 35.71 L406.3 35.88 L406.66 36.29 L407.02 36.81 L407.38 36.72 L407.74 36.06 L408.1 36.93 L408.46 36.68 L408.82 36.45 L409.18 36.33 L409.54 35.66 L409.9 35.27 L410.26 34.93 L410.62 34.38 L410.98 34.71 L411.34 34.89 L411.7 34.46 L412.06 35.05 L412.42 35.76 L412.78 35.96 L413.14 35.91 L413.5 35.69 L413.86 35.87 L414.22 36.81 L414.58 37.32 L414.94 37.23 L415.3 38.64 L415.66 38.8 L416.02 39.11 L416.38 39.08 L416.74 38.49 L417.1 37.76 L417.46 38.13 L417.82 37.28 L418.18 36.71 L418.54 36.22 L418.9 36.22 L419.26 36.51 L419.62 37.01 L419.98 36.65 L420.34 36.59 L420.7 37.35 L421.06 37.4 L421.42 37.08 L421.78 36.77 L422.14 36.1 L422.5 36.13 L422.86 35.71 L423.22 35.37 L423.58 35.08 L423.94 35.67 L424.3 35.71 L424.66 35.55 L425.02 35.08 L425.38 35.98 L425.74 35.9 L426.1 36.67 L426.46 35.8 L426.82 36 L427.18 36.26 L427.54 37.2 L427.9 36.38 L428.26 36.25 L428.62 35.8 L428.98 36.81 L429.34 36.88 L429.7 37.12 L430.06 36.85 L430.42 37.5 L430.78 37.8 L431.14 37.32 L431.5 35.68 L431.86 35.89 L432.22 36.11 L432.58 35.92 L432.94 35.04 L433.3 35.66 L433.66 36.96 L434.02 37.06 L434.38 36.88 L434.74 36.96 L435.1 36.45 L435.46 37.11 L435.82 36.71 L436.18 35.84 L436.54 36.87 L436.9 36.65 L437.26 36.68 L437.62 37.2 L437.98 37.1 L438.34 36.67 L438.7 36.79 L439.06 36.05 L439.42 36.4 L439.78 35.54 L440.14 35.22 L440.5 35.18 L440.86 35.79 L441.22 35.67 L441.58 35.95 L441.94 35.14 L442.3 35.43 L442.66 35.49 L443.02 35.62 L443.38 35.56 L443.74 35.33 L444.1 35.05 L444.46 35.45 L444.82 34.97 L445.18 34.31 L445.54 33.26 L445.9 32.53 L446.26 32 L446.62 32.22 L446.98 32.25 L447.34 32.65 L447.7 33.11 L448.06 33.87 L448.42 33.56 L448.78 34.13 L449.14 33.56 L449.5 33.75 L449.86 34.33 L450.22 34.47 L450.58 34.53 L450.94 35.91 L451.3 35.95 L451.66 36.34 L452.02 35.92 L452.38 36.68 L452.74 36.83 L453.1 36.62 L453.46 36.22 L453.82 36.66 L454.18 36.93 L454.54 37.72 L454.9 37.18 L455.26 36.9 L455.62 37.42 L455.98 37.42 L456.34 36.56 L456.7 36.64 L457.06 36.27 L457.42 36.07 L457.78 36.3 L458.14 36.81 L458.5 36.31 L458.86 37.37 L459.22 37.49 L459.58 36.96 L459.94 36.91 L460.3 37.01 L460.66 37.02 L461.02 37.75 L461.38 37.12 L461.74 37.24 L462.1 37.63 L462.46 37.9 L462.82 37.59 L463.18 37.66 L463.54 37.82 L463.9 37.28 L464.26 36.77 L464.62 37.22 L464.98 37.15 L465.34 37.04 L465.7 36.42 L466.06 36.14 L466.42 36.66 L466.78 36.89 L467.14 36.03 L467.5 36.44 L467.86 37.21 L468.22 37.51 L468.58 37.24 L468.94 37.54 L469.3 37.46 L469.66 38.22 L470.02 37.83 L470.38 36.86 L470.74 36.41 L471.1 35.87 L471.46 35.48 L471.82 35.6 L472.18 35.88 L472.54 36.26 L472.9 36.7 L473.26 37 L473.62 37.88 L473.98 37.95 L474.34 38.93 L474.7 38.73 L475.06 38.06 L475.42 38.27 L475.78 37.32 L476.14 38.14 L476.5 38.74 L476.86 38.22 L477.22 38.93 L477.58 39.31 L477.94 39.47 L478.3 41.45 L478.66 40.81 L479.02 40.59 L479.38 40.98 L479.74 40.74 L480.1 41.36 L480.46 40.73 L480.82 39.71 L481.18 39.13 L481.54 38.64 L481.9 38.22 L482.26 37.52 L482.62 36.76 L482.98 37.35 L483.34 37.43 L483.7 37.49 L484.06 37.76 L484.42 37.2 L484.78 37.17 L485.14 37.5 L485.5 37.83 L485.86 36.36 L486.22 35.87 L486.58 36.4 L486.94 36.66 L487.3 35.11 L487.66 34.77 L488.02 34.07 L488.38 35.06 L488.74 35.68 L489.1 34.95 L489.46 34.72 L489.82 35.97 L490.18 35.66 L490.54 35.62 L490.9 35.25 L491.26 35.23 L491.62 35.51 L491.98 35.28 L492.34 36.28 L492.7 36.18 L493.06 36.27 L493.42 37.26 L493.78 37.42 L494.14 37.47 L494.5 38.34 L494.86 37.45 L495.22 38.46 L495.58 39.12 L495.94 38.49 L496.3 38.27 L496.66 38.13 L497.02 37.43 L497.38 37.18 L497.74 36.54 L498.1 36.41 L498.46 36.93 L498.82 37.29 L499.18 37.06 L499.54 37.71 L499.9 38.34 L500.26 38.29 L500.62 38.32 L500.98 37.82 L501.34 38.25 L501.7 38.51 L502.06 38.07 L502.42 37.74" stroke="#000" stroke-width="2" fill="none" stroke-linejoin="round" stroke-linecap="round"/>
<path d="M370.3 32.54 L370.48 37.58 L370.66 37.53 L370.84 37.77 L371.02 37.73 L371.2 36.29 L371.38 38.6 L371.56 35.61 L371.74 35.98 L371.92 34.31 L372.1 33.24 L372.28 36.62 L372.46 37.2 L372.64 37.01 L372.82 36.96 L373 37.02 L373.18 39.17 L373.36 36.65 L373.54 34.53 L373.72 32.53 L373.9 30.28 L374.08 30.94 L374.26 28.12 L374.44 34.35 L374.62 31.32 L374.8 31.8 L374.98 40.54 L375.16 36.92 L375.34 35.68 L375.52 34.89 L375.7 33.53 L375.88 37.2 L376.06 38.86 L376.24 35.97 L376.42 40.47 L376.6 36.7 L376.78 38.25 L376.96 39.24 L377.14 40.32 L377.32 40.29 L377.5 35.57 L377.68 34.78 L377.86 32.19 L378.04 32.54 L378.22 34.01 L378.4 33.53 L378.58 37.72 L378.76 36.66 L378.94 35.8 L379.12 42.05 L379.3 36.04 L379.48 37.88 L379.66 41.17 L379.84 41.89 L380.02 38.29 L380.2 39.03 L380.38 41.84 L380.56 42.16 L380.74 38.9 L380.92 37.16 L381.1 41.01 L381.28 41.33 L381.46 37.25 L381.64 39 L381.82 36 L382 39.47 L382.18 39.29 L382.36 36.66 L382.54 34.69 L382.72 35.6 L382.9 30.99 L383.08 35.9 L383.26 33.05 L383.44 34.33 L383.62 34.71 L383.8 38.9 L383.98 39.88 L384.16 39.65 L384.34 38.43 L384.52 35.89 L384.7 38.88 L384.88 37.56 L385.06 41.94 L385.24 37.68 L385.42 36.09 L385.6 41.45 L385.78 44.23 L385.96 40.34 L386.14 38.87 L386.32 40.36 L386.5 39.28 L386.68 40.77 L386.86 38.58 L387.04 39.57 L387.22 38.94 L387.4 36.24 L387.58 35.15 L387.76 35.26 L387.94 35.42 L388.12 36 L388.3 35.19 L388.48 36.12 L388.66 39.12 L388.84 35.88 L389.02 37.52 L389.2 38.13 L389.38 37.01 L389.56 38.2 L389.74 39.42 L389.92 39.24 L390.1 38.13 L390.28 38.26 L390.46 36.94 L390.64 33.84 L390.82 38.75 L391 35.77 L391.18 33.95 L391.36 42.13 L391.54 37.23 L391.72 38.65 L391.9 38.9 L392.08 39.4 L392.26 40.1 L392.44 35.49 L392.62 37.47 L392.8 36.13 L392.98 36.29 L393.16 35.88 L393.34 36.03 L393.52 40.25 L393.7 40.12 L393.88 42.76 L394.06 40.63 L394.24 39.68 L394.42 39.18 L394.6 55.38 L394.78 49.97 L394.96 49.63 L395.14 43.93 L395.32 44.17 L395.5 41.77 L395.68 42.99 L395.86 41.93 L396.04 41.61 L396.22 41.22 L396.4 37.58 L396.58 39.76 L396.76 38.83 L396.94 40.01 L397.12 38.47 L397.3 36.62 L397.48 37.68 L397.66 41.01 L397.84 39.07 L398.02 38.12 L398.2 39.05 L398.38 40.52 L398.56 38.76 L398.74 40.46 L398.92 39.75 L399.1 45.54 L399.28 45.92 L399.46 39.94 L399.64 44.28 L399.82 45.25 L400 42.93 L400.18 39.94 L400.36 41.41 L400.54 36.73 L400.72 36.06 L400.9 36.48 L401.08 33.28 L401.26 35.83 L401.44 38.03 L401.62 37.82 L401.8 37.61 L401.98 34.25 L402.16 37.59 L402.34 35.67 L402.52 36.07 L402.7 33.09 L402.88 35.78 L403.06 36.25 L403.24 37.78 L403.42 34.52 L403.6 32.51 L403.78 33.9 L403.96 36.38 L404.14 35.69 L404.32 32.39 L404.5 32.31 L404.68 33.23 L404.86 33.21 L405.04 33.14 L405.22 32.85 L405.4 35.16 L405.58 34.89 L405.76 34.14 L405.94 32.12 L406.12 34.26 L406.3 33.26 L406.48 30.91 L406.66 34.11 L406.84 33.92 L407.02 34.27 L407.2 35.3 L407.38 35.44 L407.56 35.15 L407.74 35.9 L407.92 36.02 L408.1 33.87 L408.28 35.27 L408.46 38.46 L408.64 36.48 L408.82 37.89 L409 37.91 L409.18 39.96 L409.36 38.54 L409.54 35.39 L409.72 32.86 L409.9 34.5 L410.08 33.31 L410.26 32.34 L410.44 35.05 L410.62 33.59 L410.8 32.41 L410.98 36.49 L411.16 34.48 L411.34 33.96 L411.52 30.64 L411.7 35.01 L411.88 35.24 L412.06 33.52 L412.24 33.2 L412.42 40.93 L412.6 38.07 L412.78 39.3 L412.96 40.02 L413.14 39.06 L413.32 39.14 L413.5 36.76 L413.68 37.8 L413.86 34.75 L414.04 37.24 L414.22 35.4 L414.4 33.98 L414.58 34.67 L414.76 36.2 L414.94 39.18 L415.12 38.74 L415.3 39.9 L415.48 36.1 L415.66 37.84 L415.84 53.43 L416.02 50.57 L416.2 47.12 L416.38 46.47 L416.56 43.18 L416.74 37.6 L416.92 37.92 L417.1 39.01 L417.28 37.59 L417.46 37.8 L417.64 40.43 L417.82 36.3 L418 37.26 L418.18 34.17 L418.36 35.78 L418.54 37.77 L418.72 36.87 L418.9 36.54 L419.08 37.16 L419.26 35.56 L419.44 32.61 L419.62 29.93 L419.8 39.69 L419.98 35.82 L420.16 34.9 L420.34 32.29 L420.52 34.15 L420.7 38.49 L420.88 32.55 L421.06 35.95 L421.24 38.05 L421.42 36.96 L421.6 37.06 L421.78 35.66 L421.96 37.44 L422.14 31.59 L422.32 32.05 L422.5 34.56 L422.68 34.82 L422.86 33.89 L423.04 36.5 L423.22 34.26 L423.4 31.01 L423.58 37.77 L423.76 40.55 L423.94 42.22 L424.12 39.25 L424.3 38.86 L424.48 40.68 L424.66 39.01 L424.84 37.86 L425.02 38.82 L425.2 34.69 L425.38 37.02 L425.56 35.07 L425.74 37.26 L425.92 37.48 L426.1 36.6 L426.28 37.14 L426.46 39.05 L426.64 38.67 L426.82 36.42 L427 37.17 L427.18 37.28 L427.36 35.61 L427.54 40.17 L427.72 38.61 L427.9 39.14 L428.08 39.73 L428.26 38.8 L428.44 37.15 L428.62 36.29 L428.8 36.89 L428.98 35.14 L429.16 39.01 L429.34 33.93 L429.52 36.78 L429.7 38.39 L429.88 36.99 L430.06 36.42 L430.24 38.73 L430.42 39.98 L430.6 37.65 L430.78 42.59 L430.96 37.28 L431.14 46.81 L431.32 41.02 L431.5 36.66 L431.68 39.89 L431.86 39.29 L432.04 34.84 L432.22 35.62 L432.4 38.86 L432.58 37.99 L432.76 41.93 L432.94 40.11 L433.12 38.29 L433.3 36.49 L433.48 36.9 L433.66 38.02 L433.84 34.55 L434.02 37.68 L434.2 38.23 L434.38 38.8 L434.56 40.69 L434.74 42.96 L434.92 40.8 L435.1 39.47 L435.28 36.14 L435.46 34.67 L435.64 34.57 L435.82 35.73 L436 34.59 L436.18 33.16 L436.36 36.12 L436.54 36.99 L436.72 33.89 L436.9 33.53 L437.08 32.76 L437.26 34.94 L437.44 32.34 L437.62 33.51 L437.8 35.17 L437.98 34.86 L438.16 33.39 L438.34 33.77 L438.52 35.4 L438.7 36.74 L438.88 40.97 L439.06 38.79 L439.24 36.65 L439.42 41.83 L439.6 40.04 L439.78 39.11 L439.96 38.02 L440.14 35.68 L440.32 36.52 L440.5 38.24 L440.68 38.72 L440.86 37.22 L441.04 33.98 L441.22 37.96 L441.4 41.54 L441.58 43.17 L441.76 42.27 L441.94 44.13 L442.12 41.58 L442.3 41.6 L442.48 40.13 L442.66 34.87 L442.84 38.06 L443.02 37.25 L443.2 35.68 L443.38 37.02 L443.56 35.88 L443.74 34.19 L443.92 34.94 L444.1 34.79 L444.28 35.52 L444.46 36.22 L444.64 38.87 L444.82 39.46 L445 40.53 L445.18 38.2 L445.36 39.4 L445.54 36.54 L445.72 34.42 L445.9 33.64 L446.08 34.08 L446.26 34.11 L446.44 31.38 L446.62 35.12 L446.8 32.15 L446.98 33.34 L447.16 33.21 L447.34 33.84 L447.52 34.46 L447.7 36.51 L447.88 33.37 L448.06 35.21 L448.24 34.45 L448.42 30.58 L448.6 33.55 L448.78 32.97 L448.96 34.52 L449.14 30.59 L449.32 34.32 L449.5 33.04 L449.68 38.24 L449.86 36.08 L450.04 37.98 L450.22 39.06 L450.4 39.17 L450.58 37 L450.76 36.75 L450.94 33.99 L451.12 30.83 L451.3 27.49 L451.48 30.65 L451.66 34.2 L451.84 34.94 L452.02 35.51 L452.2 37.32 L452.38 37.68 L452.56 37.77 L452.74 38.63 L452.92 34.74 L453.1 35.84 L453.28 31.28 L453.46 33.45 L453.64 34.59 L453.82 35.05 L454 33.11 L454.18 35.68 L454.36 37.94 L454.54 37.89 L454.72 44.14 L454.9 39.2 L455.08 37.31 L455.26 37.2 L455.44 38.69 L455.62 35.68 L455.8 38.28 L455.98 39.79 L456.16 37.76 L456.34 39.08 L456.52 36.57 L456.7 38.42 L456.88 37.91 L457.06 39.59 L457.24 39.49 L457.42 37.71 L457.6 40.59 L457.78 36.99 L457.96 38.73 L458.14 40.7 L458.32 38.46 L458.5 37.59 L458.68 40.76 L458.86 40.16 L459.04 39.63 L459.22 37.79 L459.4 40.22 L459.58 37.46 L459.76 34.29 L459.94 38.21 L460.12 39.56 L460.3 40.04 L460.48 36.6 L460.66 36.81 L460.84 38.3 L461.02 39.51 L461.2 39.21 L461.38 36.26 L461.56 38.54 L461.74 37.34 L461.92 33.99 L462.1 35.58 L462.28 41.16 L462.46 38.91 L462.64 42.05 L462.82 44.02 L463 42.84 L463.18 41.09 L463.36 38.45 L463.54 40.84 L463.72 42.71 L463.9 42.16 L464.08 38.84 L464.26 38.31 L464.44 39.78 L464.62 41.08 L464.8 38.45 L464.98 40.95 L465.16 38.76 L465.34 40.76 L465.52 39.26 L465.7 38.58 L465.88 37.66 L466.06 36.33 L466.24 34.44 L466.42 35.69 L466.6 35.69 L466.78 37.57 L466.96 35.97 L467.14 35.43 L467.32 34.76 L467.5 35.97 L467.68 35.88 L467.86 36.17 L468.04 37.01 L468.22 37.65 L468.4 37.73 L468.58 43.67 L468.76 40.97 L468.94 45.68 L469.12 40.72 L469.3 39.56 L469.48 39.68 L469.66 45.69 L469.84 45.65 L470.02 43.92 L470.2 40.95 L470.38 42.27 L470.56 41.64 L470.74 42.54 L470.92 37.72 L471.1 40.67 L471.28 40.13 L471.46 36.17 L471.64 33.54 L471.82 32.25 L472 29.99 L472.18 35.6 L472.36 39.48 L472.54 36.56 L472.72 37.43 L472.9 40.74 L473.08 39.41 L473.26 39.82 L473.44 39.71 L473.62 38.76 L473.8 38.53 L473.98 34.58 L474.16 39.85 L474.34 39 L474.52 40.33 L474.7 40.26 L474.88 36.93 L475.06 37.25 L475.24 35.98 L475.42 35.05 L475.6 36.65 L475.78 37 L475.96 35.98 L476.14 37.64 L476.32 36.89 L476.5 37.48 L476.68 35.63 L476.86 37.57 L477.04 41.73 L477.22 44.4 L477.4 41.56 L477.58 41.1 L477.76 41.88 L477.94 41.86 L478.12 41.74 L478.3 37.41 L478.48 45.88 L478.66 41.59 L478.84 42.85 L479.02 41.87 L479.2 42.43 L479.38 40.09 L479.56 43.56 L479.74 42.94 L479.92 43.9 L480.1 43.21 L480.28 39.79 L480.46 35.54 L480.64 39.08 L480.82 41.08 L481 41.13 L481.18 39.01 L481.36 38.89 L481.54 39.83 L481.72 37.53 L481.9 36.55 L482.08 36.44 L482.26 38.11 L482.44 35.14 L482.62 36.76 L482.8 35.53 L482.98 34.8 L483.16 40.41 L483.34 35.69 L483.52 37.64 L483.7 41.56 L483.88 37.09 L484.06 36.05 L484.24 38.78 L484.42 37.13 L484.6 36.56 L484.78 34.51 L484.96 36.11 L485.14 38.07 L485.32 34.87 L485.5 37.7 L485.68 37.71 L485.86 40.76 L486.04 39.54 L486.22 39.06 L486.4 37.03 L486.58 40.9 L486.76 42.28 L486.94 41.5 L487.12 39.92 L487.3 38.61 L487.48 37.32 L487.66 38.29 L487.84 34.94 L488.02 34.92 L488.2 35.83 L488.38 38.33 L488.56 38.13 L488.74 38.71 L488.92 39.45 L489.1 36.42 L489.28 35.82 L489.46 36.28 L489.64 51.88 L489.82 48.02 L490 45.21 L490.18 41.75 L490.36 39.5 L490.54 36.91 L490.72 36.24 L490.9 37.51 L491.08 36.34 L491.26 33.75 L491.44 35.06 L491.62 36.71 L491.8 38.06 L491.98 36.36 L492.16 34.04 L492.34 40.47 L492.52 40.63 L492.7 35.55 L492.88 34.56 L493.06 37 L493.24 37.35 L493.42 37.91 L493.6 40.25 L493.78 41.85 L493.96 39.18 L494.14 42.12 L494.32 42.47 L494.5 41.07 L494.68 40.72 L494.86 42.99 L495.04 43.06 L495.22 44.12 L495.4 41.75 L495.58 41.18 L495.76 42.5 L495.94 38.03 L496.12 40.16 L496.3 39.54 L496.48 42.98 L496.66 41.79 L496.84 35.44 L497.02 41.28 L497.2 38.05 L497.38 38.41 L497.56 38.43 L497.74 40.77 L497.92 39.89 L498.1 40.21 L498.28 36.05 L498.46 41.83 L498.64 41.19 L498.82 39.39 L499 40.8 L499.18 36.79 L499.36 40.83 L499.54 38.91 L499.72 37.76 L499.9 37.06 L500.08 35.97 L500.26 36.67 L500.44 40.7 L500.62 39.95 L500.8 40.55 L500.98 39.71 L501.16 35.3 L501.34 38.65 L501.52 38.64 L501.7 38.54 L501.88 38.11 L502.06 34.15 L502.24 39.72 L502.42 35.57" stroke="#2a2a2a" stroke-width="0.7" fill="none" stroke-linejoin="round"/>
<path d="M370.3 86.12 L370.66 85.56 L371.02 85.82 L371.38 85.27 L371.74 84.94 L372.1 85.16 L372.46 84.6 L372.82 85.58 L373.18 85.71 L373.54 85.06 L373.9 85.17 L374.26 85.37 L374.62 84.13 L374.98 83.36 L375.34 82.35 L375.7 82.55 L376.06 82.57 L376.42 83.58 L376.78 83.64 L377.14 84.01 L377.5 84.43 L377.86 84.11 L378.22 84.14 L378.58 84.71 L378.94 84.14 L379.3 84.88 L379.66 85.43 L380.02 86.13 L380.38 87.06 L380.74 86.11 L381.1 85.41 L381.46 84.77 L381.82 83.06 L382.18 82.16 L382.54 81.97 L382.9 82.08 L383.26 82.16 L383.62 82.67 L383.98 83.49 L384.34 84.8 L384.7 84.06 L385.06 83.8 L385.42 83.42 L385.78 83.99 L386.14 84.05 L386.5 83.48 L386.86 82.73 L387.22 82.76 L387.58 82.27 L387.94 82.06 L388.3 82.27 L388.66 82.29 L389.02 82.56 L389.38 83.42 L389.74 83.92 L390.1 84.78 L390.46 85.6 L390.82 85.61 L391.18 85.26 L391.54 84.85 L391.9 85.12 L392.26 85.12 L392.62 83.87 L392.98 83.72 L393.34 83.56 L393.7 83.39 L394.06 84.07 L394.42 83.25 L394.78 83.54 L395.14 83.6 L395.5 82.78 L395.86 82.57 L396.22 83.24 L396.58 83.13 L396.94 83.55 L397.3 83.16 L397.66 83.69 L398.02 84.09 L398.38 83.84 L398.74 83.49 L399.1 82.84 L399.46 82.42 L399.82 83.39 L400.18 83.96 L400.54 84.05 L400.9 84.42 L401.26 82.83 L401.62 83.47 L401.98 82.41 L402.34 82.29 L402.7 81.61 L403.06 81.93 L403.42 82.32 L403.78 84.29 L404.14 83.9 L404.5 84.65 L404.86 84.4 L405.22 83.51 L405.58 83.12 L405.94 82.56 L406.3 81.87 L406.66 81.72 L407.02 81.73 L407.38 81.47 L407.74 82.41 L408.1 83 L408.46 83.17 L408.82 83.34 L409.18 84 L409.54 83.81 L409.9 83.54 L410.26 84.13 L410.62 84 L410.98 84.01 L411.34 84.42 L411.7 83.78 L412.06 84.29 L412.42 83.66 L412.78 82.92 L413.14 81.81 L413.5 82.01 L413.86 82 L414.22 81.44 L414.58 81.24 L414.94 82.91 L415.3 84.28 L415.66 84.96 L416.02 84.59 L416.38 84.59 L416.74 85.99 L417.1 85.76 L417.46 86.09 L417.82 84.37 L418.18 84.22 L418.54 83.9 L418.9 84.21 L419.26 83.13 L419.62 83.96 L419.98 83.61 L420.34 84.26 L420.7 83.81 L421.06 85.12 L421.42 84.64 L421.78 85.01 L422.14 84.04 L422.5 83.82 L422.86 84.23 L423.22 85.02 L423.58 83.6 L423.94 83.89 L424.3 84.13 L424.66 85.05 L425.02 85.24 L425.38 84.86 L425.74 84.08 L426.1 83.7 L426.46 83.85 L426.82 83.94 L427.18 83.66 L427.54 83.16 L427.9 82.55 L428.26 83.42 L428.62 85.44 L428.98 84.81 L429.34 84.64 L429.7 84.39 L430.06 83.43 L430.42 83.94 L430.78 83.19 L431.14 83.47 L431.5 83.18 L431.86 83.12 L432.22 82.89 L432.58 84.32 L432.94 83.9 L433.3 85.01 L433.66 84.18 L434.02 84.04 L434.38 84.64 L434.74 83.46 L435.1 82.68 L435.46 83.57 L435.82 83.4 L436.18 83.55 L436.54 84.36 L436.9 84.27 L437.26 85.21 L437.62 85.26 L437.98 84.09 L438.34 83.95 L438.7 83.92 L439.06 83.17 L439.42 82.29 L439.78 82.31 L440.14 83.17 L440.5 83.44 L440.86 83.83 L441.22 83.62 L441.58 84.71 L441.94 86.06 L442.3 86.4 L442.66 85.39 L443.02 85.34 L443.38 84.89 L443.74 84.57 L444.1 84.66 L444.46 83.63 L444.82 84.04 L445.18 84.42 L445.54 84.8 L445.9 84.13 L446.26 84.62 L446.62 84.43 L446.98 84.68 L447.34 84.6 L447.7 84.92 L448.06 84.55 L448.42 85.9 L448.78 85.67 L449.14 85.18 L449.5 84.07 L449.86 83.54 L450.22 82.37 L450.58 82.95 L450.94 82.7 L451.3 82.24 L451.66 82.56 L452.02 83.98 L452.38 84.64 L452.74 84.97 L453.1 84.81 L453.46 84.62 L453.82 85.37 L454.18 84.62 L454.54 84.32 L454.9 84.34 L455.26 85.68 L455.62 85.51 L455.98 85 L456.34 85.46 L456.7 85.48 L457.06 84.85 L457.42 85.35 L457.78 84.49 L458.14 84.35 L458.5 84.87 L458.86 83.83 L459.22 83.94 L459.58 84.9 L459.94 84.47 L460.3 84.54 L460.66 85.63 L461.02 85.45 L461.38 85.45 L461.74 86 L462.1 85.87 L462.46 85.5 L462.82 85.16 L463.18 85.2 L463.54 85.91 L463.9 86.29 L464.26 85.62 L464.62 85.79 L464.98 86.15 L465.34 86.15 L465.7 85.41 L466.06 83.72 L466.42 83.92 L466.78 83.12 L467.14 83.03 L467.5 84.28 L467.86 85.27 L468.22 85.85 L468.58 86.67 L468.94 85.99 L469.3 87.68 L469.66 86.46 L470.02 85.55 L470.38 85.38 L470.74 84.05 L471.1 84.06 L471.46 83.89 L471.82 83.16 L472.18 83.17 L472.54 82.23 L472.9 81.88 L473.26 82.02 L473.62 81.72 L473.98 81.66 L474.34 81.43 L474.7 81.25 L475.06 80.86 L475.42 79.86 L475.78 80.34 L476.14 79.85 L476.5 80.74 L476.86 80.22 L477.22 80.37 L477.58 80.93 L477.94 81.79 L478.3 81.62 L478.66 82 L479.02 80.86 L479.38 80.95 L479.74 81.96 L480.1 81.34 L480.46 81.08 L480.82 80.76 L481.18 80.69 L481.54 80.35 L481.9 80.91 L482.26 79.32 L482.62 79.68 L482.98 78.17 L483.34 79 L483.7 78.92 L484.06 79.81 L484.42 79.73 L484.78 81.23 L485.14 82.35 L485.5 84.03 L485.86 83.67 L486.22 82.96 L486.58 82.41 L486.94 83.29 L487.3 83.18 L487.66 81.66 L488.02 82.06 L488.38 81.87 L488.74 83.08 L489.1 82.93 L489.46 81.47 L489.82 80.44 L490.18 82.09 L490.54 81.13 L490.9 80.91 L491.26 80.47 L491.62 80.84 L491.98 81.48 L492.34 82.68 L492.7 81.75 L493.06 82.05 L493.42 82.07 L493.78 83.17 L494.14 83.81 L494.5 84.46 L494.86 84.33 L495.22 83.32 L495.58 83.78 L495.94 84.38 L496.3 84.29 L496.66 84.59 L497.02 84.05 L497.38 83.57 L497.74 83.96 L498.1 84.43 L498.46 83.91 L498.82 83.43 L499.18 82.89 L499.54 83.94 L499.9 84.1 L500.26 84.45 L500.62 83.53 L500.98 83.33 L501.34 82.72 L501.7 82.86 L502.06 81.84 L502.42 81.94" stroke="#000" stroke-width="2" fill="none" stroke-linejoin="round" stroke-linecap="round"/>
<path d="M370.3 89.48 L370.48 83.55 L370.66 81.42 L370.84 91.67 L371.02 87.98 L371.2 95.19 L371.38 91.09 L371.56 89.36 L371.74 84.87 L371.92 84.84 L372.1 87.4 L372.28 89.55 L372.46 92.96 L372.64 91.34 L372.82 91.71 L373 88.38 L373.18 86.91 L373.36 85.75 L373.54 91.71 L373.72 85.84 L373.9 84.93 L374.08 83.89 L374.26 89.5 L374.44 81.96 L374.62 87.77 L374.8 82.53 L374.98 78.79 L375.16 81.61 L375.34 81.5 L375.52 86.33 L375.7 80.37 L375.88 82.86 L376.06 82.17 L376.24 86.24 L376.42 78.17 L376.6 80.5 L376.78 86.9 L376.96 85.48 L377.14 81.83 L377.32 84.34 L377.5 83.8 L377.68 81.33 L377.86 80.79 L378.04 85.14 L378.22 81.42 L378.4 85.99 L378.58 86.21 L378.76 81.2 L378.94 81.68 L379.12 85.11 L379.3 78.58 L379.48 82.48 L379.66 83.01 L379.84 86.82 L380.02 89.11 L380.2 91.35 L380.38 90.03 L380.56 87.95 L380.74 91.6 L380.92 93.7 L381.1 93.25 L381.28 89.53 L381.46 93.54 L381.64 91.87 L381.82 87.26 L382 91.4 L382.18 88.23 L382.36 87.21 L382.54 86.2 L382.72 88.2 L382.9 88.93 L383.08 83.19 L383.26 89.48 L383.44 85.7 L383.62 78.91 L383.8 83.64 L383.98 84.18 L384.16 89.44 L384.34 83.19 L384.52 84.99 L384.7 83.14 L384.88 89.8 L385.06 85.05 L385.24 87.57 L385.42 88.56 L385.6 89.23 L385.78 90.59 L385.96 90.52 L386.14 87.52 L386.32 86.85 L386.5 90.67 L386.68 91.18 L386.86 83.83 L387.04 88.59 L387.22 96.54 L387.4 91.94 L387.58 88.7 L387.76 90.66 L387.94 86.64 L388.12 83.19 L388.3 87.22 L388.48 83.19 L388.66 91.9 L388.84 86.69 L389.02 84.09 L389.2 84.56 L389.38 84.69 L389.56 81.57 L389.74 86.94 L389.92 90.48 L390.1 90.86 L390.28 90.86 L390.46 93.8 L390.64 89.55 L390.82 88.74 L391 86.06 L391.18 89.74 L391.36 87.83 L391.54 83.24 L391.72 82.59 L391.9 82.17 L392.08 80.42 L392.26 84.84 L392.44 83.87 L392.62 78.41 L392.8 79.86 L392.98 90.62 L393.16 85.79 L393.34 88.56 L393.52 82.51 L393.7 85.97 L393.88 86.47 L394.06 81.23 L394.24 83.22 L394.42 84.81 L394.6 89.45 L394.78 87.25 L394.96 84.49 L395.14 85.85 L395.32 89.73 L395.5 90.43 L395.68 87.37 L395.86 86.14 L396.04 90.13 L396.22 87.66 L396.4 84.59 L396.58 82.22 L396.76 84.87 L396.94 91.13 L397.12 83.57 L397.3 88.13 L397.48 86.05 L397.66 86.4 L397.84 87.46 L398.02 87.48 L398.2 84.93 L398.38 88.9 L398.56 86.26 L398.74 92.95 L398.92 87.4 L399.1 86.33 L399.28 80.53 L399.46 80.84 L399.64 84.39 L399.82 82.15 L400 81.7 L400.18 82.41 L400.36 86.3 L400.54 79.92 L400.72 81.78 L400.9 83.85 L401.08 81.75 L401.26 79.95 L401.44 92.09 L401.62 93.95 L401.8 89.52 L401.98 89.61 L402.16 84.5 L402.34 90.34 L402.52 82.38 L402.7 90.41 L402.88 88.65 L403.06 93.18 L403.24 88.79 L403.42 89.68 L403.6 85.92 L403.78 84.67 L403.96 89.48 L404.14 90.38 L404.32 91.86 L404.5 89.83 L404.68 93.63 L404.86 96.81 L405.04 88.04 L405.22 88.83 L405.4 87.6 L405.58 81.71 L405.76 77.48 L405.94 79.01 L406.12 85.63 L406.3 88.14 L406.48 83.09 L406.66 86.77 L406.84 84.28 L407.02 86.39 L407.2 84.04 L407.38 83.98 L407.56 82.65 L407.74 86.01 L407.92 88.35 L408.1 85.5 L408.28 83.56 L408.46 85.11 L408.64 82.08 L408.82 84.16 L409 86.45 L409.18 84.02 L409.36 80.07 L409.54 81.78 L409.72 82.96 L409.9 82.1 L410.08 81.28 L410.26 82.62 L410.44 80.25 L410.62 81.58 L410.8 79.42 L410.98 83.86 L411.16 85.95 L411.34 88.02 L411.52 86.11 L411.7 82.45 L411.88 83.73 L412.06 83.97 L412.24 84.37 L412.42 89.82 L412.6 84.91 L412.78 82.17 L412.96 83.38 L413.14 85.62 L413.32 85.14 L413.5 86.59 L413.68 81.3 L413.86 79.53 L414.04 79.11 L414.22 76.96 L414.4 78.99 L414.58 82.94 L414.76 88.03 L414.94 86.53 L415.12 86.25 L415.3 83.88 L415.48 85.68 L415.66 82.29 L415.84 87.89 L416.02 88.83 L416.2 83.81 L416.38 84.09 L416.56 80.82 L416.74 86.14 L416.92 83.6 L417.1 74.19 L417.28 81.33 L417.46 82.4 L417.64 83.61 L417.82 77.88 L418 80.28 L418.18 83.91 L418.36 81.28 L418.54 82.33 L418.72 83.92 L418.9 85.11 L419.08 83.25 L419.26 87.56 L419.44 83.75 L419.62 86.99 L419.8 87.03 L419.98 93.08 L420.16 89.97 L420.34 87.42 L420.52 84.96 L420.7 83.85 L420.88 86.46 L421.06 85.96 L421.24 89.48 L421.42 93.72 L421.6 86.59 L421.78 87.22 L421.96 82.54 L422.14 86.83 L422.32 84.46 L422.5 80.11 L422.68 79.2 L422.86 82.28 L423.04 88.68 L423.22 88.77 L423.4 85.44 L423.58 85.56 L423.76 87.53 L423.94 86.82 L424.12 84.23 L424.3 90.87 L424.48 94.38 L424.66 93.04 L424.84 91.37 L425.02 86.94 L425.2 86.14 L425.38 92.05 L425.56 83.5 L425.74 85.84 L425.92 80.05 L426.1 85.2 L426.28 82.07 L426.46 80.51 L426.64 82.2 L426.82 87.48 L427 88.37 L427.18 85.53 L427.36 88.14 L427.54 82.83 L427.72 89.37 L427.9 87.67 L428.08 83.76 L428.26 85.78 L428.44 80.7 L428.62 92.19 L428.8 92.21 L428.98 94.8 L429.16 95.89 L429.34 93.34 L429.52 89.95 L429.7 89.1 L429.88 92.99 L430.06 93.55 L430.24 88.45 L430.42 87.54 L430.6 87.89 L430.78 85.24 L430.96 93.39 L431.14 88.59 L431.32 85.46 L431.5 85.4 L431.68 87.66 L431.86 85.45 L432.04 89.28 L432.22 84.16 L432.4 89.73 L432.58 86.77 L432.76 85.2 L432.94 89.46 L433.12 80.75 L433.3 79.31 L433.48 83.53 L433.66 79.47 L433.84 79.27 L434.02 83.24 L434.2 86.52 L434.38 82.4 L434.56 85.37 L434.74 92.8 L434.92 86.17 L435.1 81.87 L435.28 84.41 L435.46 84.41 L435.64 84.15 L435.82 84.77 L436 82.62 L436.18 83.1 L436.36 79.84 L436.54 81.66 L436.72 81.36 L436.9 82.88 L437.08 87.14 L437.26 89.44 L437.44 88.93 L437.62 87.65 L437.8 86.62 L437.98 90.13 L438.16 89.72 L438.34 89.46 L438.52 86.35 L438.7 90.68 L438.88 90.71 L439.06 88.65 L439.24 91.03 L439.42 97.68 L439.6 89.31 L439.78 85.4 L439.96 91.31 L440.14 92.81 L440.32 89.4 L440.5 94.78 L440.68 96.89 L440.86 94.87 L441.04 91.89 L441.22 88.96 L441.4 86.83 L441.58 83.99 L441.76 82.79 L441.94 89.76 L442.12 89.31 L442.3 88.27 L442.48 89.99 L442.66 92.44 L442.84 85.17 L443.02 86.38 L443.2 84.81 L443.38 84.46 L443.56 80.3 L443.74 82.89 L443.92 87.67 L444.1 80.42 L444.28 82.06 L444.46 84.69 L444.64 83.94 L444.82 80.8 L445 86.38 L445.18 79.87 L445.36 83.27 L445.54 84.98 L445.72 79.92 L445.9 84.04 L446.08 81.83 L446.26 86.63 L446.44 83.63 L446.62 87.82 L446.8 86.49 L446.98 84.92 L447.16 85.1 L447.34 87.52 L447.52 81.87 L447.7 79.91 L447.88 78.88 L448.06 80.79 L448.24 85.87 L448.42 87.55 L448.6 81.62 L448.78 88.49 L448.96 93.08 L449.14 87.03 L449.32 89.5 L449.5 91.11 L449.68 93.11 L449.86 90.14 L450.04 98.18 L450.22 91.96 L450.4 87.68 L450.58 83.54 L450.76 88.07 L450.94 84.71 L451.12 84.87 L451.3 82.75 L451.48 81.1 L451.66 83.14 L451.84 85.37 L452.02 83.5 L452.2 79.36 L452.38 81.17 L452.56 78.76 L452.74 77.7 L452.92 80.33 L453.1 74.34 L453.28 82.05 L453.46 97.2 L453.64 94.05 L453.82 87.22 L454 86.75 L454.18 87.24 L454.36 83.93 L454.54 84.09 L454.72 84.58 L454.9 87.82 L455.08 89.17 L455.26 97.97 L455.44 100.86 L455.62 98.73 L455.8 97.02 L455.98 94.04 L456.16 96.31 L456.34 94.46 L456.52 93.48 L456.7 90.24 L456.88 97.84 L457.06 100.23 L457.24 93.19 L457.42 91.43 L457.6 84.76 L457.78 94.59 L457.96 92.2 L458.14 87.97 L458.32 85.91 L458.5 85.51 L458.68 81.72 L458.86 89.17 L459.04 82.65 L459.22 87.29 L459.4 87.53 L459.58 91.64 L459.76 86.33 L459.94 92.51 L460.12 92.84 L460.3 89.42 L460.48 90.56 L460.66 89.3 L460.84 90.24 L461.02 88.82 L461.2 85.23 L461.38 86.13 L461.56 82.76 L461.74 80.82 L461.92 89.17 L462.1 85.09 L462.28 82.95 L462.46 83.02 L462.64 84.23 L462.82 89.95 L463 84.93 L463.18 90.36 L463.36 86.79 L463.54 88.61 L463.72 86.35 L463.9 85.11 L464.08 85.61 L464.26 91.61 L464.44 87.6 L464.62 87.51 L464.8 90.96 L464.98 93.95 L465.16 89.51 L465.34 87.66 L465.52 86.64 L465.7 87.87 L465.88 82.88 L466.06 76.15 L466.24 111.86 L466.42 104.02 L466.6 95.47 L466.78 97.14 L466.96 93.88 L467.14 89.32 L467.32 89.39 L467.5 83.94 L467.68 84.98 L467.86 88.51 L468.04 85.05 L468.22 87.71 L468.4 86.97 L468.58 89.71 L468.76 89.93 L468.94 85.2 L469.12 86.68 L469.3 88.78 L469.48 91.17 L469.66 85.98 L469.84 86.04 L470.02 86.88 L470.2 92.08 L470.38 84.59 L470.56 87.03 L470.74 92.92 L470.92 87.64 L471.1 86.34 L471.28 88.9 L471.46 83.46 L471.64 92.45 L471.82 87.59 L472 84.93 L472.18 86.53 L472.36 85.67 L472.54 86.19 L472.72 82.69 L472.9 84.78 L473.08 81.12 L473.26 87.64 L473.44 82.87 L473.62 82.73 L473.8 82.13 L473.98 85.62 L474.16 83.61 L474.34 88.32 L474.52 81.74 L474.7 82.64 L474.88 86.97 L475.06 83.03 L475.24 84.52 L475.42 83.64 L475.6 84.86 L475.78 78.59 L475.96 87.45 L476.14 82.39 L476.32 80.32 L476.5 79.42 L476.68 81.07 L476.86 84.84 L477.04 84.08 L477.22 85.26 L477.4 79.4 L477.58 80.57 L477.76 80.87 L477.94 80.31 L478.12 82.53 L478.3 78.96 L478.48 83.54 L478.66 84.19 L478.84 84.22 L479.02 82.73 L479.2 81.01 L479.38 82.67 L479.56 88.76 L479.74 88.71 L479.92 87.05 L480.1 88.95 L480.28 82.87 L480.46 84.75 L480.64 82.24 L480.82 81.15 L481 77.85 L481.18 76.81 L481.36 76.63 L481.54 77.93 L481.72 76.66 L481.9 77.96 L482.08 78.39 L482.26 75.21 L482.44 72.5 L482.62 73.58 L482.8 74.42 L482.98 74.31 L483.16 77.99 L483.34 75.4 L483.52 70.59 L483.7 79.52 L483.88 80.81 L484.06 80.86 L484.24 80.96 L484.42 87 L484.6 79.55 L484.78 80.81 L484.96 84.34 L485.14 76.81 L485.32 83.04 L485.5 87.66 L485.68 86.85 L485.86 84.91 L486.04 82.74 L486.22 83.86 L486.4 91.93 L486.58 82.8 L486.76 86.24 L486.94 81.78 L487.12 85.68 L487.3 82.79 L487.48 79.38 L487.66 80.9 L487.84 82.9 L488.02 86.81 L488.2 84.55 L488.38 80.57 L488.56 84.33 L488.74 77.89 L488.92 84.21 L489.1 83.28 L489.28 80.05 L489.46 77.32 L489.64 76.6 L489.82 80.79 L490 90.86 L490.18 92.28 L490.36 90.55 L490.54 91.2 L490.72 87.74 L490.9 90.34 L491.08 87.2 L491.26 90.11 L491.44 89.79 L491.62 90.53 L491.8 86.86 L491.98 87.33 L492.16 83.7 L492.34 88.69 L492.52 85.6 L492.7 84.05 L492.88 83.04 L493.06 83.5 L493.24 83.1 L493.42 79.94 L493.6 82.76 L493.78 81.07 L493.96 83.3 L494.14 85.98 L494.32 85.24 L494.5 84.89 L494.68 87.39 L494.86 90.02 L495.04 90.68 L495.22 84.77 L495.4 85.84 L495.58 89.6 L495.76 90.88 L495.94 83.29 L496.12 98.08 L496.3 94.94 L496.48 89.36 L496.66 93.58 L496.84 88.89 L497.02 89.64 L497.2 87.33 L497.38 86.39 L497.56 85.61 L497.74 86.09 L497.92 82.66 L498.1 84.81 L498.28 81.53 L498.46 82.06 L498.64 80.58 L498.82 86.67 L499 89.39 L499.18 81.43 L499.36 82.74 L499.54 86.93 L499.72 85.98 L499.9 83.08 L500.08 87.75 L500.26 83.46 L500.44 86.75 L500.62 86.6 L500.8 89.28 L500.98 89.25 L501.16 87.87 L501.34 86.31 L501.52 87.48 L501.7 84.28 L501.88 89.31 L502.06 86.49 L502.24 88.4 L502.42 86.51" stroke="#2a2a2a" stroke-width="0.7" fill="none" stroke-linejoin="round"/>
<path d="M370.3 137.24 L370.66 136.96 L371.02 137.04 L371.38 136.73 L371.74 136.46 L372.1 136.61 L372.46 136.07 L372.82 135.64 L373.18 136.41 L373.54 136.93 L373.9 137.52 L374.26 137.43 L374.62 138.3 L374.98 138.61 L375.34 138.38 L375.7 138.59 L376.06 138.09 L376.42 137.56 L376.78 136.78 L377.14 136.14 L377.5 135.82 L377.86 135.53 L378.22 134.86 L378.58 134.81 L378.94 134.88 L379.3 134.95 L379.66 135.19 L380.02 134.94 L380.38 135.14 L380.74 134.99 L381.1 135.45 L381.46 134.31 L381.82 133.62 L382.18 133.81 L382.54 133.95 L382.9 134.3 L383.26 134.3 L383.62 134.14 L383.98 134.33 L384.34 135.51 L384.7 134.96 L385.06 135.03 L385.42 135.32 L385.78 135.93 L386.14 136.02 L386.5 137.05 L386.86 136.62 L387.22 137.59 L387.58 137.75 L387.94 137.02 L388.3 136.84 L388.66 136.48 L389.02 136.37 L389.38 136.49 L389.74 136.17 L390.1 135.84 L390.46 136.05 L390.82 135.33 L391.18 135.91 L391.54 135.93 L391.9 135.79 L392.26 135.16 L392.62 134.78 L392.98 135.38 L393.34 135.47 L393.7 134.79 L394.06 134.47 L394.42 133.91 L394.78 134.37 L395.14 134.99 L395.5 134.45 L395.86 134.41 L396.22 134.61 L396.58 134.65 L396.94 134.95 L397.3 135.37 L397.66 135.55 L398.02 135.68 L398.38 134.89 L398.74 134.66 L399.1 134.57 L399.46 134.81 L399.82 134.28 L400.18 133.77 L400.54 132.63 L400.9 133.61 L401.26 134.39 L401.62 134.72 L401.98 134.82 L402.34 133.39 L402.7 133.34 L403.06 133.8 L403.42 134.32 L403.78 133.56 L404.14 133.65 L404.5 132.58 L404.86 132.85 L405.22 132.91 L405.58 132.58 L405.94 132.26 L406.3 132.54 L406.66 132.86 L407.02 133.5 L407.38 134.64 L407.74 134.79 L408.1 135.81 L408.46 136.11 L408.82 136.82 L409.18 137.38 L409.54 139.02 L409.9 138.65 L410.26 138.62 L410.62 138.74 L410.98 138.74 L411.34 138.76 L411.7 138.21 L412.06 137.05 L412.42 137.55 L412.78 137.72 L413.14 137.21 L413.5 137.23 L413.86 136.99 L414.22 136.89 L414.58 137.42 L414.94 136.91 L415.3 136.03 L415.66 136.09 L416.02 136.25 L416.38 135.14 L416.74 135.86 L417.1 135.16 L417.46 135.75 L417.82 136.34 L418.18 135.97 L418.54 135.74 L418.9 136.15 L419.26 135.33 L419.62 135.38 L419.98 135.38 L420.34 134.98 L420.7 135.13 L421.06 134.26 L421.42 134.95 L421.78 134.96 L422.14 135.52 L422.5 135.88 L422.86 136.01 L423.22 135.45 L423.58 135.87 L423.94 135.59 L424.3 134.96 L424.66 134.27 L425.02 133.5 L425.38 134 L425.74 134.62 L426.1 134.28 L426.46 133.99 L426.82 134.12 L427.18 134.92 L427.54 134.97 L427.9 134.08 L428.26 134.4 L428.62 134.43 L428.98 133.93 L429.34 134.11 L429.7 133.82 L430.06 133.95 L430.42 134.23 L430.78 133.71 L431.14 134.79 L431.5 135.89 L431.86 136.55 L432.22 135.97 L432.58 136.23 L432.94 136.74 L433.3 137.39 L433.66 136.92 L434.02 136.89 L434.38 137 L434.74 137.49 L435.1 137.94 L435.46 137.67 L435.82 137 L436.18 137.55 L436.54 136.87 L436.9 135.78 L437.26 135.95 L437.62 135.09 L437.98 135.41 L438.34 135.87 L438.7 135.1 L439.06 135.91 L439.42 136.63 L439.78 136.28 L440.14 136.22 L440.5 136.17 L440.86 135.75 L441.22 136.16 L441.58 135.79 L441.94 136.04 L442.3 136.22 L442.66 135.92 L443.02 135.68 L443.38 135.67 L443.74 135.6 L444.1 135.15 L444.46 134.52 L444.82 133.98 L445.18 134.51 L445.54 134.66 L445.9 134.77 L446.26 134.95 L446.62 135.84 L446.98 136.23 L447.34 136.59 L447.7 136.56 L448.06 136.8 L448.42 137.06 L448.78 136.91 L449.14 136.42 L449.5 135.98 L449.86 136.24 L450.22 135.89 L450.58 136.02 L450.94 136.11 L451.3 135.96 L451.66 135.81 L452.02 135.8 L452.38 135.43 L452.74 135.78 L453.1 135.16 L453.46 134.5 L453.82 135.81 L454.18 136.59 L454.54 136.91 L454.9 137.39 L455.26 138.17 L455.62 137.57 L455.98 138.15 L456.34 137.23 L456.7 137.22 L457.06 137.34 L457.42 136.45 L457.78 135.88 L458.14 136.36 L458.5 136.5 L458.86 136.02 L459.22 136.33 L459.58 136.36 L459.94 137.58 L460.3 138.35 L460.66 138.22 L461.02 138.45 L461.38 138.98 L461.74 138.33 L462.1 137.92 L462.46 137.83 L462.82 136.62 L463.18 136.77 L463.54 136.52 L463.9 135.82 L464.26 136 L464.62 136.68 L464.98 136.01 L465.34 136.59 L465.7 136.78 L466.06 136.79 L466.42 136.9 L466.78 136.73 L467.14 135.98 L467.5 136.84 L467.86 136.5 L468.22 136.49 L468.58 135.58 L468.94 135.66 L469.3 136.01 L469.66 136.4 L470.02 135.73 L470.38 136.07 L470.74 136.38 L471.1 136.96 L471.46 137.02 L471.82 136.6 L472.18 136.58 L472.54 136.04 L472.9 136.06 L473.26 135.75 L473.62 135.48 L473.98 135.99 L474.34 136.52 L474.7 136.64 L475.06 136.91 L475.42 136.86 L475.78 136.9 L476.14 138.02 L476.5 137.55 L476.86 136.97 L477.22 136.69 L477.58 137.26 L477.94 137.45 L478.3 137.41 L478.66 136.17 L479.02 136.11 L479.38 135.66 L479.74 135.29 L480.1 134.99 L480.46 135.26 L480.82 135.87 L481.18 136.19 L481.54 135.97 L481.9 136.21 L482.26 136.83 L482.62 136.59 L482.98 136.19 L483.34 135.4 L483.7 135.94 L484.06 136.07 L484.42 135.55 L484.78 135.7 L485.14 136.16 L485.5 135.89 L485.86 136.22 L486.22 135.98 L486.58 135.77 L486.94 136.2 L487.3 135.89 L487.66 134.93 L488.02 134.83 L488.38 134.31 L488.74 134.54 L489.1 134.76 L489.46 134.57 L489.82 134.24 L490.18 135.02 L490.54 135.63 L490.9 135.82 L491.26 135.1 L491.62 135.32 L491.98 135.91 L492.34 136.08 L492.7 135.65 L493.06 135.13 L493.42 135.59 L493.78 135.79 L494.14 135.86 L494.5 135.53 L494.86 136.06 L495.22 136.43 L495.58 136.05 L495.94 135.7 L496.3 135.24 L496.66 134.6 L497.02 134.67 L497.38 134.25 L497.74 134.42 L498.1 135 L498.46 135.01 L498.82 135.09 L499.18 135.21 L499.54 135.2 L499.9 135.23 L500.26 135.48 L500.62 135.74 L500.98 135.95 L501.34 136.3 L501.7 136.58 L502.06 136.64 L502.42 136.79" stroke="#000" stroke-width="2" fill="none" stroke-linejoin="round" stroke-linecap="round"/>
<path d="M370.3 133.31 L370.48 135.04 L370.66 136.58 L370.84 136.16 L371.02 135.27 L371.2 138.44 L371.38 135.31 L371.56 135.07 L371.74 136.95 L371.92 137.89 L372.1 133.43 L372.28 137.07 L372.46 134.16 L372.64 135.21 L372.82 137.36 L373 137.94 L373.18 139.51 L373.36 139.43 L373.54 138.96 L373.72 144.06 L373.9 144.18 L374.08 140.49 L374.26 141.45 L374.44 141.03 L374.62 140.23 L374.8 141.59 L374.98 141.43 L375.16 140 L375.34 141.28 L375.52 138.18 L375.7 139.05 L375.88 156.43 L376.06 152.74 L376.24 147.48 L376.42 139.07 L376.6 143.57 L376.78 139.98 L376.96 136.97 L377.14 137.16 L377.32 135.63 L377.5 133.69 L377.68 133.15 L377.86 138.26 L378.04 132.77 L378.22 135.29 L378.4 134.23 L378.58 134.36 L378.76 137.74 L378.94 136.46 L379.12 136.29 L379.3 136.06 L379.48 136.06 L379.66 137.63 L379.84 134.8 L380.02 133.89 L380.2 136.14 L380.38 133.18 L380.56 134 L380.74 138.14 L380.92 136.44 L381.1 135.25 L381.28 134.8 L381.46 133.06 L381.64 135.43 L381.82 134.75 L382 135.56 L382.18 137.17 L382.36 135.65 L382.54 133.25 L382.72 138.57 L382.9 136.54 L383.08 137.45 L383.26 135.65 L383.44 140.15 L383.62 139.95 L383.8 137.23 L383.98 133.71 L384.16 133.48 L384.34 132.4 L384.52 135.83 L384.7 136.77 L384.88 142.39 L385.06 141.32 L385.24 141.95 L385.42 137.47 L385.6 140.14 L385.78 138.31 L385.96 137.04 L386.14 134.31 L386.32 138.56 L386.5 135.22 L386.68 138.01 L386.86 135.75 L387.04 137.14 L387.22 136.46 L387.4 137.53 L387.58 135.77 L387.76 136.76 L387.94 137.07 L388.12 135.85 L388.3 137.05 L388.48 138.15 L388.66 136.97 L388.84 134.77 L389.02 137.65 L389.2 134.52 L389.38 138.99 L389.56 138.62 L389.74 136.94 L389.92 143.89 L390.1 137.96 L390.28 138.16 L390.46 136.95 L390.64 133.18 L390.82 133.66 L391 135.11 L391.18 137.78 L391.36 134.77 L391.54 140.38 L391.72 138.8 L391.9 139.33 L392.08 136.49 L392.26 137.66 L392.44 134.62 L392.62 136.03 L392.8 135.9 L392.98 135.63 L393.16 132.15 L393.34 135.38 L393.52 133.33 L393.7 135.43 L393.88 134.78 L394.06 133.44 L394.24 135.63 L394.42 134.88 L394.6 136.93 L394.78 136.38 L394.96 132.73 L395.14 133.9 L395.32 132.48 L395.5 133.48 L395.68 130.59 L395.86 130.42 L396.04 132.97 L396.22 134.18 L396.4 138.57 L396.58 136.74 L396.76 136.54 L396.94 132.96 L397.12 133.81 L397.3 132.89 L397.48 136.01 L397.66 138.9 L397.84 134.89 L398.02 132.27 L398.2 135.25 L398.38 138.94 L398.56 140.65 L398.74 140.67 L398.92 139.31 L399.1 136.13 L399.28 137.77 L399.46 139.29 L399.64 135.36 L399.82 132.77 L400 133.89 L400.18 133.63 L400.36 131.48 L400.54 130.07 L400.72 130.64 L400.9 131.03 L401.08 131.81 L401.26 132.3 L401.44 130.84 L401.62 134.57 L401.8 135.07 L401.98 136.58 L402.16 136.47 L402.34 133 L402.52 134.22 L402.7 136.62 L402.88 135.4 L403.06 135.71 L403.24 134.06 L403.42 133.74 L403.6 138.05 L403.78 134.81 L403.96 134.06 L404.14 133.91 L404.32 133.99 L404.5 133.52 L404.68 130.97 L404.86 129.85 L405.04 134.41 L405.22 134.63 L405.4 134.51 L405.58 136.95 L405.76 134.17 L405.94 137.31 L406.12 135.25 L406.3 137.35 L406.48 134.34 L406.66 136.79 L406.84 131.02 L407.02 132.47 L407.2 135.63 L407.38 132.12 L407.56 135.98 L407.74 133.29 L407.92 131.07 L408.1 136.25 L408.28 132.58 L408.46 137.58 L408.64 130.74 L408.82 131.98 L409 134.07 L409.18 139.44 L409.36 160.13 L409.54 158.8 L409.72 157.22 L409.9 153.18 L410.08 147.35 L410.26 145.63 L410.44 142.16 L410.62 142.14 L410.8 138.99 L410.98 139 L411.16 140.08 L411.34 142.73 L411.52 140 L411.7 141.12 L411.88 136.27 L412.06 141.27 L412.24 138.88 L412.42 135.47 L412.6 138.43 L412.78 140.4 L412.96 139.41 L413.14 137.39 L413.32 141.55 L413.5 137.53 L413.68 137.98 L413.86 135.03 L414.04 135.11 L414.22 132.21 L414.4 136.8 L414.58 135.7 L414.76 133.71 L414.94 136.17 L415.12 135.61 L415.3 134.57 L415.48 133.78 L415.66 131.3 L415.84 129.4 L416.02 132.45 L416.2 132.62 L416.38 129.55 L416.56 130.67 L416.74 132.75 L416.92 135.76 L417.1 132.79 L417.28 136.21 L417.46 134.48 L417.64 138.74 L417.82 136.26 L418 134.51 L418.18 135.61 L418.36 135.87 L418.54 136.48 L418.72 133.91 L418.9 134.37 L419.08 136.48 L419.26 138.71 L419.44 134.51 L419.62 136.32 L419.8 137.85 L419.98 137.22 L420.16 138.69 L420.34 135.97 L420.52 137.31 L420.7 136.06 L420.88 136.11 L421.06 136.78 L421.24 133.73 L421.42 132.48 L421.6 136.84 L421.78 134.59 L421.96 136.61 L422.14 136.15 L422.32 140.65 L422.5 138.29 L422.68 138.42 L422.86 138.86 L423.04 137.68 L423.22 133 L423.4 137.98 L423.58 134.28 L423.76 136.22 L423.94 139.32 L424.12 138.8 L424.3 137.39 L424.48 134.53 L424.66 136.59 L424.84 135.67 L425.02 135.9 L425.2 135.31 L425.38 133.6 L425.56 137.57 L425.74 138.71 L425.92 138.25 L426.1 136.68 L426.28 136.73 L426.46 138.22 L426.64 134.86 L426.82 139.05 L427 135.91 L427.18 135.54 L427.36 136.44 L427.54 133.7 L427.72 132.47 L427.9 134.23 L428.08 136.51 L428.26 133.8 L428.44 136.68 L428.62 133.7 L428.8 136.62 L428.98 136.61 L429.16 141.57 L429.34 135.8 L429.52 138.07 L429.7 136.57 L429.88 142.78 L430.06 138.65 L430.24 137.39 L430.42 134.85 L430.6 133.27 L430.78 133.06 L430.96 136.46 L431.14 135.5 L431.32 136.77 L431.5 137.44 L431.68 140.69 L431.86 136.29 L432.04 135.41 L432.22 140.26 L432.4 141.04 L432.58 141.22 L432.76 140.81 L432.94 139.98 L433.12 138.64 L433.3 137.58 L433.48 136.05 L433.66 138.63 L433.84 136.76 L434.02 139.27 L434.2 139.22 L434.38 137.39 L434.56 138.8 L434.74 138.59 L434.92 140.34 L435.1 140.32 L435.28 140.45 L435.46 139.97 L435.64 140.63 L435.82 136.66 L436 137.22 L436.18 136.5 L436.36 134.2 L436.54 136.21 L436.72 134.89 L436.9 133.3 L437.08 135.46 L437.26 133.97 L437.44 135.02 L437.62 134.42 L437.8 136.33 L437.98 135.87 L438.16 140.29 L438.34 140.07 L438.52 136.03 L438.7 142.04 L438.88 139.48 L439.06 138.26 L439.24 139.71 L439.42 139.41 L439.6 136.44 L439.78 137.66 L439.96 139.79 L440.14 137.25 L440.32 135.9 L440.5 135.74 L440.68 133.63 L440.86 135.55 L441.04 132.24 L441.22 132.72 L441.4 135.26 L441.58 136.38 L441.76 136.43 L441.94 138.53 L442.12 135.89 L442.3 132.91 L442.48 136.11 L442.66 136.02 L442.84 133.56 L443.02 133.7 L443.2 135.8 L443.38 135.83 L443.56 140.11 L443.74 138.57 L443.92 139.15 L444.1 138.91 L444.28 138.29 L444.46 138.26 L444.64 138.59 L444.82 135.34 L445 134.56 L445.18 135.64 L445.36 136.36 L445.54 136.74 L445.72 135.98 L445.9 136.9 L446.08 134 L446.26 148.48 L446.44 144.43 L446.62 142.33 L446.8 141.51 L446.98 141.15 L447.16 141.83 L447.34 143.02 L447.52 140.86 L447.7 135.84 L447.88 139.57 L448.06 141.79 L448.24 137.16 L448.42 136.76 L448.6 139.69 L448.78 140.34 L448.96 138.03 L449.14 135.9 L449.32 139.93 L449.5 135.35 L449.68 130.21 L449.86 136.21 L450.04 136.82 L450.22 137.4 L450.4 138.28 L450.58 140.82 L450.76 135.4 L450.94 134.73 L451.12 133.86 L451.3 137.94 L451.48 134.23 L451.66 131.58 L451.84 130.95 L452.02 134.75 L452.2 134.42 L452.38 136.12 L452.56 134.88 L452.74 137.26 L452.92 143 L453.1 140.84 L453.28 139.65 L453.46 147.28 L453.64 145.21 L453.82 142.04 L454 138.41 L454.18 137.51 L454.36 137.54 L454.54 135.42 L454.72 134.95 L454.9 136.47 L455.08 137.7 L455.26 137.05 L455.44 137.12 L455.62 138.44 L455.8 139.18 L455.98 141.17 L456.16 138.32 L456.34 137.28 L456.52 139.03 L456.7 135.59 L456.88 159.67 L457.06 156.81 L457.24 151.1 L457.42 144.12 L457.6 146.68 L457.78 141.54 L457.96 139.88 L458.14 138.04 L458.32 135.61 L458.5 135.75 L458.68 137.13 L458.86 134.78 L459.04 136.99 L459.22 137.77 L459.4 134.57 L459.58 133.51 L459.76 134.54 L459.94 137.74 L460.12 137.07 L460.3 140.06 L460.48 143.48 L460.66 137.94 L460.84 139.87 L461.02 138.46 L461.2 141.08 L461.38 142 L461.56 140.13 L461.74 141.16 L461.92 139.74 L462.1 141.46 L462.28 140.92 L462.46 140.56 L462.64 140.34 L462.82 137.98 L463 138.23 L463.18 137.58 L463.36 139.23 L463.54 134.89 L463.72 140.61 L463.9 135.87 L464.08 137.55 L464.26 134.07 L464.44 134.81 L464.62 134.76 L464.8 137.22 L464.98 137.26 L465.16 136.93 L465.34 138.22 L465.52 136.78 L465.7 138.41 L465.88 139.75 L466.06 135.85 L466.24 135.13 L466.42 136.65 L466.6 140.36 L466.78 137.14 L466.96 135.88 L467.14 135.33 L467.32 137.97 L467.5 139.64 L467.68 137.41 L467.86 140.27 L468.04 141.57 L468.22 138.72 L468.4 135.56 L468.58 135.92 L468.76 135.62 L468.94 134.2 L469.12 133.92 L469.3 134.07 L469.48 139.21 L469.66 141.99 L469.84 136.7 L470.02 138.51 L470.2 136.47 L470.38 137.37 L470.56 137.13 L470.74 138.75 L470.92 139.63 L471.1 138.05 L471.28 141.95 L471.46 139.56 L471.64 140.08 L471.82 139.12 L472 138.12 L472.18 137.47 L472.36 133.84 L472.54 139.24 L472.72 135.85 L472.9 138.32 L473.08 140.68 L473.26 139.29 L473.44 138.82 L473.62 141.14 L473.8 137.52 L473.98 138.05 L474.16 137.83 L474.34 134.98 L474.52 132.75 L474.7 135.09 L474.88 137.12 L475.06 136.05 L475.24 138.88 L475.42 135.55 L475.6 136.34 L475.78 135.02 L475.96 136.89 L476.14 140.94 L476.32 139.83 L476.5 139.1 L476.68 138.56 L476.86 140.1 L477.04 138.4 L477.22 138.22 L477.4 140.91 L477.58 135.25 L477.76 136.91 L477.94 137.75 L478.12 136.85 L478.3 136.38 L478.48 136.17 L478.66 133.67 L478.84 139.88 L479.02 135.4 L479.2 133.3 L479.38 138.49 L479.56 137.24 L479.74 134.89 L479.92 142.83 L480.1 142.88 L480.28 141.39 L480.46 139.5 L480.64 139.75 L480.82 140.44 L481 138.6 L481.18 138.75 L481.36 137.37 L481.54 138 L481.72 141.17 L481.9 139.06 L482.08 142.45 L482.26 141.93 L482.44 141.26 L482.62 136.9 L482.8 139.6 L482.98 140.62 L483.16 137.36 L483.34 135.57 L483.52 137.92 L483.7 142.87 L483.88 137.38 L484.06 135.56 L484.24 137.23 L484.42 137.9 L484.6 137.21 L484.78 135.01 L484.96 135.99 L485.14 135.53 L485.32 137.68 L485.5 137.03 L485.68 136.8 L485.86 136.02 L486.04 138.4 L486.22 135.56 L486.4 136.54 L486.58 136.37 L486.76 135.06 L486.94 137.09 L487.12 138.79 L487.3 137.73 L487.48 135.23 L487.66 134.44 L487.84 134.23 L488.02 134.48 L488.2 138.1 L488.38 135.47 L488.56 133.7 L488.74 137.04 L488.92 135.56 L489.1 134.36 L489.28 134.68 L489.46 133.16 L489.64 135.15 L489.82 135.08 L490 136.83 L490.18 137.12 L490.36 137.41 L490.54 137.21 L490.72 140.86 L490.9 134.64 L491.08 139.44 L491.26 136.06 L491.44 136.94 L491.62 134.92 L491.8 135.34 L491.98 135.34 L492.16 142.5 L492.34 138.22 L492.52 138.77 L492.7 136.47 L492.88 137.82 L493.06 135.91 L493.24 136.58 L493.42 137.81 L493.6 138.31 L493.78 137.85 L493.96 139.62 L494.14 141.24 L494.32 137.34 L494.5 136.83 L494.68 135.32 L494.86 132.21 L495.04 138.2 L495.22 138.33 L495.4 140.64 L495.58 134.22 L495.76 137.08 L495.94 138.1 L496.12 134.53 L496.3 131.26 L496.48 135.56 L496.66 135.81 L496.84 131.49 L497.02 131.06 L497.2 130.71 L497.38 131.96 L497.56 132.6 L497.74 131.07 L497.92 134.53 L498.1 136.93 L498.28 135.13 L498.46 139.29 L498.64 137.07 L498.82 137.35 L499 136.45 L499.18 134.47 L499.36 133.49 L499.54 128.21 L499.72 129.06 L499.9 133.59 L500.08 131.52 L500.26 134.42 L500.44 133.46 L500.62 137.05 L500.8 141.11 L500.98 138.14 L501.16 136.13 L501.34 137.34 L501.52 134.79 L501.7 137.41 L501.88 136.76 L502.06 138.27 L502.24 138.56 L502.42 136.93" stroke="#2a2a2a" stroke-width="0.7" fill="none" stroke-linejoin="round"/>
<path d="M529.6 37.21 L529.96 37.61 L530.32 38.06 L530.68 37.93 L531.04 38.42 L531.4 38.98 L531.76 39.36 L532.12 39.3 L532.48 38.9 L532.84 38.65 L533.2 38.96 L533.56 38.01 L533.92 38.15 L534.28 38.34 L534.64 37.8 L535 38.06 L535.36 37.79 L535.72 37.94 L536.08 38.78 L536.44 38.55 L536.8 38.78 L537.16 39.6 L537.52 39.32 L537.88 39.54 L538.24 39.32 L538.6 39 L538.96 38.55 L539.32 38.39 L539.68 37.76 L540.04 37.8 L540.4 37.58 L540.76 37.21 L541.12 37.39 L541.48 37.91 L541.84 37.72 L542.2 38.13 L542.56 38.18 L542.92 38.48 L543.28 39.02 L543.64 38.05 L544 37.57 L544.36 38.31 L544.72 38.01 L545.08 37.46 L545.44 37.15 L545.8 36.87 L546.16 37.49 L546.52 38.62 L546.88 38.37 L547.24 39.01 L547.6 40.12 L547.96 40.21 L548.32 40.25 L548.68 39.76 L549.04 39.37 L549.4 39.37 L549.76 38.96 L550.12 38.54 L550.48 38.95 L550.84 39.38 L551.2 39.77 L551.56 39.78 L551.92 39.58 L552.28 39.5 L552.64 38.96 L553 38.58 L553.36 37.67 L553.72 37.64 L554.08 37.59 L554.44 37.48 L554.8 36.98 L555.16 37.5 L555.52 37.24 L555.88 37.75 L556.24 37.6 L556.6 37.77 L556.96 37.37 L557.32 37.14 L557.68 37.78 L558.04 38 L558.4 37.98 L558.76 38.19 L559.12 37.87 L559.48 39.09 L559.84 39.17 L560.2 38.08 L560.56 38.04 L560.92 37.25 L561.28 37.6 L561.64 37.86 L562 36.8 L562.36 36.46 L562.72 37.03 L563.08 37.16 L563.44 38.68 L563.8 38.01 L564.16 37.86 L564.52 38.45 L564.88 39.83 L565.24 38.8 L565.6 38.83 L565.96 38.07 L566.32 38.65 L566.68 39.13 L567.04 38.85 L567.4 38.4 L567.76 39.56 L568.12 39.08 L568.48 39.01 L568.84 38.84 L569.2 38.18 L569.56 37.91 L569.92 37.75 L570.28 37.35 L570.64 38.08 L571 38.46 L571.36 38.05 L571.72 37.57 L572.08 37.78 L572.44 37.31 L572.8 37.4 L573.16 37.21 L573.52 36.97 L573.88 37.11 L574.24 37.89 L574.6 38.12 L574.96 39.07 L575.32 38.84 L575.68 38.47 L576.04 38.77 L576.4 38.43 L576.76 38.17 L577.12 37.83 L577.48 37.07 L577.84 37.24 L578.2 38 L578.56 38.12 L578.92 39.01 L579.28 39.21 L579.64 39.12 L580 39.86 L580.36 40 L580.72 39.59 L581.08 40.07 L581.44 40.07 L581.8 39.74 L582.16 40.85 L582.52 40.8 L582.88 40.3 L583.24 40.46 L583.6 39.66 L583.96 39.94 L584.32 39.72 L584.68 38.43 L585.04 38.15 L585.4 38.67 L585.76 38.83 L586.12 38.47 L586.48 37.68 L586.84 38.2 L587.2 38.71 L587.56 38.12 L587.92 38.06 L588.28 37.63 L588.64 37.79 L589 38.03 L589.36 37.88 L589.72 37.28 L590.08 38.56 L590.44 38.64 L590.8 39.11 L591.16 38.84 L591.52 38.44 L591.88 39.31 L592.24 39.88 L592.6 39.96 L592.96 39.75 L593.32 39.29 L593.68 39.7 L594.04 39.79 L594.4 39.23 L594.76 39.76 L595.12 39.04 L595.48 39.6 L595.84 39.99 L596.2 39.82 L596.56 39.95 L596.92 39.58 L597.28 39.6 L597.64 39.47 L598 39.52 L598.36 39.55 L598.72 40.18 L599.08 40.21 L599.44 40.43 L599.8 39.75 L600.16 39.66 L600.52 39.08 L600.88 38.74 L601.24 38.57 L601.6 38.7 L601.96 38.09 L602.32 37.86 L602.68 37.43 L603.04 37.79 L603.4 37.72 L603.76 38.37 L604.12 38.12 L604.48 38.68 L604.84 39.23 L605.2 39.99 L605.56 38.71 L605.92 38.44 L606.28 38.14 L606.64 37.99 L607 38.56 L607.36 38.88 L607.72 38.36 L608.08 39.21 L608.44 39.49 L608.8 39.39 L609.16 40.19 L609.52 39.38 L609.88 38.4 L610.24 38.95 L610.6 38.84 L610.96 38.4 L611.32 37.39 L611.68 37.6 L612.04 37.63 L612.4 37.78 L612.76 36.86 L613.12 36.68 L613.48 37.05 L613.84 37.97 L614.2 37.06 L614.56 37.87 L614.92 38.1 L615.28 39.11 L615.64 39.22 L616 39.11 L616.36 38.94 L616.72 38.98 L617.08 37.92 L617.44 37.65 L617.8 37.15 L618.16 37.84 L618.52 38.34 L618.88 37.56 L619.24 38.18 L619.6 38.21 L619.96 38.86 L620.32 38.77 L620.68 38.82 L621.04 37.72 L621.4 37.56 L621.76 36.97 L622.12 37.37 L622.48 37.67 L622.84 38.01 L623.2 38.16 L623.56 38.43 L623.92 39.46 L624.28 39.77 L624.64 39.58 L625 38.94 L625.36 38.76 L625.72 37.63 L626.08 37.96 L626.44 37.55 L626.8 37.78 L627.16 37.9 L627.52 36.87 L627.88 36.59 L628.24 36.8 L628.6 36.05 L628.96 35.98 L629.32 35.6 L629.68 35.62 L630.04 36.07 L630.4 36.93 L630.76 37.73 L631.12 38.69 L631.48 37.98 L631.84 38.1 L632.2 37.67 L632.56 38.13 L632.92 37.58 L633.28 36.92 L633.64 35.94 L634 36.94 L634.36 36.3 L634.72 36.54 L635.08 36.37 L635.44 36.21 L635.8 36.2 L636.16 37.31 L636.52 36.38 L636.88 36.78 L637.24 37.02 L637.6 37.05 L637.96 37.36 L638.32 38.06 L638.68 38.53 L639.04 39.86 L639.4 40.1 L639.76 39.86 L640.12 39.61 L640.48 39.38 L640.84 38.76 L641.2 37.85 L641.56 36.83 L641.92 36.4 L642.28 36.14 L642.64 36.59 L643 36.95 L643.36 36.98 L643.72 37.28 L644.08 38.3 L644.44 38.3 L644.8 38.78 L645.16 39.28 L645.52 38.87 L645.88 38.83 L646.24 39 L646.6 38.5 L646.96 39.25 L647.32 39.66 L647.68 39.36 L648.04 39.32 L648.4 39.5 L648.76 40.15 L649.12 40.84 L649.48 40.5 L649.84 40.02 L650.2 40.34 L650.56 40.67 L650.92 40.61 L651.28 39.51 L651.64 38.35 L652 38.06 L652.36 38.97 L652.72 39.01 L653.08 39.47 L653.44 38.94 L653.8 38.75 L654.16 39.15 L654.52 39.16 L654.88 38.54 L655.24 38.24 L655.6 37.43 L655.96 37.88 L656.32 38.52 L656.68 38.16 L657.04 38.16 L657.4 37.68 L657.76 37.01 L658.12 37.49 L658.48 37.17 L658.84 36.69 L659.2 37.61 L659.56 37.15 L659.92 37.11 L660.28 37.7 L660.64 37.42 L661 37.92 L661.36 38.17" stroke="#000" stroke-width="2" fill="none" stroke-linejoin="round" stroke-linecap="round"/>
<path d="M529.6 34.83 L529.78 34.81 L529.96 34.13 L530.14 35.82 L530.32 36.2 L530.5 37.94 L530.68 38.73 L530.86 38.95 L531.04 38.88 L531.22 32.91 L531.4 34.42 L531.58 34.52 L531.76 35.67 L531.94 36.01 L532.12 41.35 L532.3 38.73 L532.48 41.41 L532.66 36.14 L532.84 37.41 L533.02 37.44 L533.2 41.04 L533.38 41.35 L533.56 38.54 L533.74 43.5 L533.92 41.07 L534.1 40.2 L534.28 37.97 L534.46 37.76 L534.64 35.94 L534.82 31.51 L535 34.96 L535.18 37.12 L535.36 39.08 L535.54 35.33 L535.72 38.81 L535.9 42.16 L536.08 43.11 L536.26 40.62 L536.44 39.33 L536.62 40.16 L536.8 39.3 L536.98 38.89 L537.16 38.17 L537.34 49.89 L537.52 49.76 L537.7 44.96 L537.88 41.89 L538.06 44.73 L538.24 42.79 L538.42 41.28 L538.6 41.38 L538.78 42.32 L538.96 40.56 L539.14 39.54 L539.32 41.57 L539.5 42.06 L539.68 39.51 L539.86 38.09 L540.04 40.92 L540.22 37.73 L540.4 34.85 L540.58 33.42 L540.76 37.14 L540.94 33.55 L541.12 35.37 L541.3 37.09 L541.48 36.2 L541.66 38.17 L541.84 32.83 L542.02 41.81 L542.2 41.31 L542.38 38.56 L542.56 39.78 L542.74 40.9 L542.92 37.42 L543.1 40.57 L543.28 36.25 L543.46 34.41 L543.64 33.59 L543.82 35.17 L544 39.45 L544.18 36.02 L544.36 41.22 L544.54 39.22 L544.72 35.7 L544.9 38.17 L545.08 33.54 L545.26 35.71 L545.44 39.41 L545.62 40.34 L545.8 39.29 L545.98 38.3 L546.16 34.64 L546.34 39.28 L546.52 38.76 L546.7 40.28 L546.88 38.8 L547.06 37.34 L547.24 39.38 L547.42 40.63 L547.6 39.59 L547.78 37.36 L547.96 38.98 L548.14 42.19 L548.32 41 L548.5 39.91 L548.68 41.23 L548.86 40.27 L549.04 36.89 L549.22 34.04 L549.4 38.48 L549.58 32.87 L549.76 34.63 L549.94 36.74 L550.12 34.09 L550.3 36.3 L550.48 38.73 L550.66 38.12 L550.84 36.47 L551.02 40.31 L551.2 38.88 L551.38 58.84 L551.56 55.84 L551.74 46.55 L551.92 43.36 L552.1 40.96 L552.28 42.77 L552.46 39.48 L552.64 44.74 L552.82 42.02 L553 41.3 L553.18 42.8 L553.36 39.81 L553.54 37.89 L553.72 37.56 L553.9 37.75 L554.08 37.64 L554.26 38.37 L554.44 36.22 L554.62 36.94 L554.8 36.04 L554.98 38.47 L555.16 40.24 L555.34 41.01 L555.52 36.56 L555.7 33.62 L555.88 36.63 L556.06 37.42 L556.24 36.3 L556.42 32.47 L556.6 35.08 L556.78 33.2 L556.96 37.98 L557.14 38.09 L557.32 35.97 L557.5 34.83 L557.68 38.04 L557.86 35.78 L558.04 38.03 L558.22 37.39 L558.4 38.2 L558.58 41.03 L558.76 39.75 L558.94 40.04 L559.12 39.85 L559.3 32.5 L559.48 39.34 L559.66 38.97 L559.84 40.33 L560.02 38.38 L560.2 41.83 L560.38 40.72 L560.56 41.21 L560.74 40.21 L560.92 40.7 L561.1 41.03 L561.28 38.5 L561.46 54.31 L561.64 49.76 L561.82 47.05 L562 47.85 L562.18 47.31 L562.36 44.29 L562.54 45.79 L562.72 40.5 L562.9 38.7 L563.08 41.63 L563.26 38.71 L563.44 40.49 L563.62 40.04 L563.8 38.95 L563.98 37.86 L564.16 37.39 L564.34 40.58 L564.52 36.63 L564.7 35.73 L564.88 40.47 L565.06 41.34 L565.24 41.68 L565.42 39.49 L565.6 44 L565.78 39.88 L565.96 42.82 L566.14 40.42 L566.32 38.74 L566.5 36.69 L566.68 44.07 L566.86 41.49 L567.04 37.91 L567.22 42.72 L567.4 41.86 L567.58 41.24 L567.76 45.63 L567.94 44.88 L568.12 45.2 L568.3 45.75 L568.48 41.04 L568.66 43.8 L568.84 38.25 L569.02 35.19 L569.2 38.76 L569.38 34.93 L569.56 37.79 L569.74 38.42 L569.92 43.46 L570.1 41.22 L570.28 40.18 L570.46 38.53 L570.64 35.82 L570.82 37.17 L571 34.16 L571.18 35.73 L571.36 34.43 L571.54 36.69 L571.72 34.65 L571.9 37.82 L572.08 37.26 L572.26 36.32 L572.44 36.93 L572.62 37.42 L572.8 36.05 L572.98 35.04 L573.16 35.6 L573.34 35.48 L573.52 33.45 L573.7 34.42 L573.88 34.62 L574.06 37.39 L574.24 37.06 L574.42 37.48 L574.6 34.55 L574.78 37.36 L574.96 41.49 L575.14 40.04 L575.32 39.06 L575.5 40.27 L575.68 39.08 L575.86 41.92 L576.04 42.63 L576.22 39.72 L576.4 39.14 L576.58 38.36 L576.76 39.65 L576.94 39.11 L577.12 35.13 L577.3 38.25 L577.48 34.49 L577.66 33.36 L577.84 32.88 L578.02 35.51 L578.2 38.71 L578.38 42.81 L578.56 42.48 L578.74 43.2 L578.92 45.71 L579.1 43.57 L579.28 47.13 L579.46 44.1 L579.64 42.99 L579.82 39.13 L580 39.28 L580.18 44.95 L580.36 40.49 L580.54 40.67 L580.72 42.11 L580.9 43.15 L581.08 43.91 L581.26 42.36 L581.44 43.11 L581.62 40.38 L581.8 38.54 L581.98 42.4 L582.16 42.01 L582.34 41.81 L582.52 40.43 L582.7 44.45 L582.88 43.73 L583.06 40.06 L583.24 44.24 L583.42 43.78 L583.6 42.92 L583.78 40.47 L583.96 42.4 L584.14 44.94 L584.32 39.95 L584.5 39.44 L584.68 38.02 L584.86 50.86 L585.04 49.94 L585.22 44.11 L585.4 45.41 L585.58 44.13 L585.76 44.89 L585.94 40.1 L586.12 38.33 L586.3 39.37 L586.48 40.67 L586.66 36.91 L586.84 38.37 L587.02 37.33 L587.2 37.28 L587.38 34.96 L587.56 36.45 L587.74 36.42 L587.92 36.59 L588.1 40.11 L588.28 36.26 L588.46 37.13 L588.64 38.2 L588.82 37.74 L589 36.78 L589.18 36.7 L589.36 43.25 L589.54 39.39 L589.72 41.36 L589.9 40.85 L590.08 44.3 L590.26 45.09 L590.44 43.71 L590.62 43.87 L590.8 46.52 L590.98 50.89 L591.16 45.97 L591.34 41.27 L591.52 40.14 L591.7 41.28 L591.88 39.5 L592.06 38.62 L592.24 41.94 L592.42 44.93 L592.6 47.82 L592.78 47.52 L592.96 44.58 L593.14 43.39 L593.32 41.54 L593.5 43.12 L593.68 41.42 L593.86 43.19 L594.04 46.62 L594.22 45.4 L594.4 46.79 L594.58 45.16 L594.76 44.03 L594.94 43.91 L595.12 40.85 L595.3 42.46 L595.48 37.41 L595.66 37.18 L595.84 36.41 L596.02 39.61 L596.2 40.16 L596.38 37.93 L596.56 37.51 L596.74 40.42 L596.92 50.44 L597.1 49.76 L597.28 50.35 L597.46 49.06 L597.64 49.66 L597.82 48.45 L598 47.32 L598.18 43.16 L598.36 46.96 L598.54 44.75 L598.72 39.72 L598.9 39.3 L599.08 36.51 L599.26 41.52 L599.44 38.36 L599.62 39.5 L599.8 42.12 L599.98 44.97 L600.16 43.63 L600.34 41.51 L600.52 43.06 L600.7 43.47 L600.88 40.78 L601.06 40.35 L601.24 38.51 L601.42 42.81 L601.6 38.64 L601.78 40.14 L601.96 38.85 L602.14 36.96 L602.32 37.67 L602.5 35.41 L602.68 35.46 L602.86 37.73 L603.04 37.41 L603.22 36.46 L603.4 40.05 L603.58 36.87 L603.76 39.17 L603.94 34.97 L604.12 39.64 L604.3 37.88 L604.48 38.82 L604.66 38.35 L604.84 34.84 L605.02 35.73 L605.2 39.73 L605.38 37.62 L605.56 38.04 L605.74 41.73 L605.92 39.2 L606.1 42.16 L606.28 39.13 L606.46 38.1 L606.64 39.21 L606.82 42.85 L607 44.19 L607.18 41.59 L607.36 39.98 L607.54 52.71 L607.72 49.52 L607.9 48.34 L608.08 44.26 L608.26 44.14 L608.44 43.92 L608.62 42.89 L608.8 43.44 L608.98 42.6 L609.16 40.33 L609.34 34.09 L609.52 35.29 L609.7 38.28 L609.88 33.47 L610.06 39.81 L610.24 36.09 L610.42 38.24 L610.6 39.36 L610.78 38.01 L610.96 35.61 L611.14 39.39 L611.32 40.86 L611.5 38.07 L611.68 36.15 L611.86 30.76 L612.04 34.39 L612.22 35.34 L612.4 34.21 L612.58 31.22 L612.76 34.6 L612.94 36.1 L613.12 36.09 L613.3 40.06 L613.48 42.83 L613.66 41.99 L613.84 40.72 L614.02 42.82 L614.2 37.78 L614.38 37.59 L614.56 41.89 L614.74 39.57 L614.92 38.15 L615.1 39.2 L615.28 38.66 L615.46 37.31 L615.64 34.59 L615.82 35.89 L616 35.02 L616.18 36.32 L616.36 33.42 L616.54 39.38 L616.72 40.85 L616.9 37.47 L617.08 40.76 L617.26 36.24 L617.44 38.13 L617.62 36.95 L617.8 35.38 L617.98 35.51 L618.16 36.88 L618.34 37.75 L618.52 34.17 L618.7 39.26 L618.88 36.14 L619.06 36.71 L619.24 36.81 L619.42 38.44 L619.6 40.49 L619.78 40.76 L619.96 47.5 L620.14 47.92 L620.32 43.37 L620.5 45.83 L620.68 42.83 L620.86 43.36 L621.04 41.76 L621.22 41.56 L621.4 39.4 L621.58 38.58 L621.76 35.86 L621.94 37.51 L622.12 36.61 L622.3 36.33 L622.48 39.94 L622.66 38.57 L622.84 35.79 L623.02 36.2 L623.2 36.98 L623.38 37.7 L623.56 40 L623.74 40.1 L623.92 39.93 L624.1 38.49 L624.28 39.64 L624.46 39.45 L624.64 43.05 L624.82 38.52 L625 41.8 L625.18 39.61 L625.36 40.95 L625.54 38.77 L625.72 35.7 L625.9 39.52 L626.08 36.33 L626.26 36.02 L626.44 35.45 L626.62 36.33 L626.8 35.95 L626.98 38.26 L627.16 37.37 L627.34 37.99 L627.52 39.35 L627.7 40.24 L627.88 37.21 L628.06 40.31 L628.24 40.59 L628.42 38.35 L628.6 41.48 L628.78 40.62 L628.96 43.85 L629.14 40.5 L629.32 40.18 L629.5 37.71 L629.68 40.17 L629.86 37.48 L630.04 36.95 L630.22 38.62 L630.4 39.71 L630.58 38.39 L630.76 40.76 L630.94 41.4 L631.12 43.52 L631.3 38.8 L631.48 38.69 L631.66 40.67 L631.84 41.22 L632.02 39.56 L632.2 36.46 L632.38 40.6 L632.56 40.14 L632.74 38.34 L632.92 43.32 L633.1 41.15 L633.28 35.85 L633.46 35.23 L633.64 37.46 L633.82 37.11 L634 39.2 L634.18 38.52 L634.36 41.24 L634.54 37.76 L634.72 35.44 L634.9 34.8 L635.08 33.2 L635.26 33.66 L635.44 34.07 L635.62 37.15 L635.8 39.15 L635.98 41.13 L636.16 39.08 L636.34 39.26 L636.52 38.23 L636.7 49.35 L636.88 45.55 L637.06 45.23 L637.24 42.21 L637.42 39.87 L637.6 37.73 L637.78 42.44 L637.96 38.93 L638.14 35.9 L638.32 39.05 L638.5 40.03 L638.68 37.93 L638.86 35.64 L639.04 38.16 L639.22 41.14 L639.4 40 L639.58 40.67 L639.76 38.11 L639.94 40.22 L640.12 50.43 L640.3 50.76 L640.48 44.87 L640.66 44.69 L640.84 39.87 L641.02 42.09 L641.2 41.21 L641.38 42.35 L641.56 43.26 L641.74 38.21 L641.92 44.51 L642.1 41.03 L642.28 41.51 L642.46 40.01 L642.64 36.89 L642.82 36.02 L643 34.13 L643.18 34.42 L643.36 35.88 L643.54 38.65 L643.72 41.43 L643.9 41.45 L644.08 40.34 L644.26 42.26 L644.44 41.65 L644.62 40.88 L644.8 38.02 L644.98 39.89 L645.16 39.89 L645.34 37.51 L645.52 38.52 L645.7 38.44 L645.88 39.9 L646.06 36.09 L646.24 38.47 L646.42 39.92 L646.6 37.72 L646.78 38.7 L646.96 37.22 L647.14 42.13 L647.32 38.86 L647.5 41.8 L647.68 37.56 L647.86 36.56 L648.04 42.29 L648.22 36.88 L648.4 41.17 L648.58 38.02 L648.76 36.21 L648.94 36.15 L649.12 39.29 L649.3 42.56 L649.48 39.88 L649.66 40.49 L649.84 48.71 L650.02 46.08 L650.2 42.87 L650.38 40.8 L650.56 47.93 L650.74 44.01 L650.92 42.47 L651.1 40.72 L651.28 40.56 L651.46 38.06 L651.64 38.81 L651.82 40.45 L652 38.76 L652.18 34.92 L652.36 39.8 L652.54 39.19 L652.72 41.68 L652.9 41.8 L653.08 41.61 L653.26 45.85 L653.44 40.36 L653.62 42.91 L653.8 42.38 L653.98 41.35 L654.16 40.04 L654.34 41.31 L654.52 43.83 L654.7 37.65 L654.88 38.15 L655.06 39.14 L655.24 36.45 L655.42 35.85 L655.6 38.49 L655.78 36.45 L655.96 38.34 L656.14 39.43 L656.32 39.28 L656.5 39.93 L656.68 38.69 L656.86 38.66 L657.04 35.2 L657.22 37.82 L657.4 34.39 L657.58 36.3 L657.76 35.75 L657.94 41.81 L658.12 40.55 L658.3 39.06 L658.48 34.97 L658.66 34.02 L658.84 37.21 L659.02 33.01 L659.2 32.16 L659.38 34.38 L659.56 34.95 L659.74 36.83 L659.92 34.03 L660.1 38.47 L660.28 38.84 L660.46 41.05 L660.64 39.77 L660.82 40.39 L661 40.2 L661.18 36.26 L661.36 38.33" stroke="#2a2a2a" stroke-width="0.7" fill="none" stroke-linejoin="round"/>
<path d="M529.6 86.41 L529.96 86.55 L530.32 87.52 L530.68 87.4 L531.04 88.08 L531.4 88.92 L531.76 89.7 L532.12 89.34 L532.48 88.73 L532.84 88.5 L533.2 88.43 L533.56 87.82 L533.92 86.64 L534.28 85.58 L534.64 86.43 L535 86.96 L535.36 86.67 L535.72 86.08 L536.08 85.83 L536.44 86.01 L536.8 86.84 L537.16 87.06 L537.52 86.8 L537.88 85.92 L538.24 87.14 L538.6 88.29 L538.96 87.75 L539.32 86.69 L539.68 86.29 L540.04 86.13 L540.4 87.1 L540.76 85.91 L541.12 84.78 L541.48 84.58 L541.84 84.41 L542.2 84.03 L542.56 83.72 L542.92 82.45 L543.28 83.03 L543.64 83.15 L544 84.96 L544.36 86.15 L544.72 86.61 L545.08 87.58 L545.44 87.78 L545.8 87.55 L546.16 87.47 L546.52 86.57 L546.88 86.64 L547.24 86.48 L547.6 86.29 L547.96 85.59 L548.32 86.32 L548.68 87.5 L549.04 88 L549.4 86.6 L549.76 86.31 L550.12 85.73 L550.48 86.8 L550.84 85.5 L551.2 84.79 L551.56 84.05 L551.92 83.66 L552.28 83.94 L552.64 83.78 L553 83.59 L553.36 84.33 L553.72 84.06 L554.08 83.65 L554.44 84 L554.8 83.08 L555.16 83.12 L555.52 83.51 L555.88 84 L556.24 83.7 L556.6 82.7 L556.96 82.53 L557.32 82.19 L557.68 82.94 L558.04 82.24 L558.4 81.01 L558.76 81.7 L559.12 82.49 L559.48 82.1 L559.84 82.28 L560.2 81 L560.56 81.21 L560.92 81.54 L561.28 80.53 L561.64 81.28 L562 82.49 L562.36 82.58 L562.72 82.76 L563.08 82.95 L563.44 84.3 L563.8 84.84 L564.16 84.75 L564.52 83.65 L564.88 83.46 L565.24 85.06 L565.6 85.17 L565.96 84.61 L566.32 84.69 L566.68 84.67 L567.04 85.56 L567.4 86.79 L567.76 85.38 L568.12 85.45 L568.48 83.74 L568.84 83.21 L569.2 82.7 L569.56 83.61 L569.92 83.63 L570.28 85.19 L570.64 84.96 L571 86.65 L571.36 87.79 L571.72 89.04 L572.08 88.29 L572.44 88.05 L572.8 87.37 L573.16 87.97 L573.52 88.01 L573.88 87.28 L574.24 87.3 L574.6 87.07 L574.96 86.92 L575.32 87.52 L575.68 87.52 L576.04 87.67 L576.4 88.61 L576.76 87.94 L577.12 87.89 L577.48 88.23 L577.84 86.96 L578.2 87.15 L578.56 87.43 L578.92 86.09 L579.28 85.9 L579.64 85.68 L580 85.54 L580.36 86 L580.72 84.99 L581.08 83.86 L581.44 85.64 L581.8 85.88 L582.16 86.71 L582.52 86.25 L582.88 86.08 L583.24 86.65 L583.6 87.48 L583.96 87.06 L584.32 87.35 L584.68 87.25 L585.04 87.3 L585.4 86.55 L585.76 86.49 L586.12 85.55 L586.48 85.84 L586.84 85.02 L587.2 84.4 L587.56 84.48 L587.92 85.28 L588.28 84.92 L588.64 85.5 L589 85.28 L589.36 85.51 L589.72 85.51 L590.08 85.44 L590.44 85.96 L590.8 86.89 L591.16 87.17 L591.52 85.58 L591.88 85 L592.24 85.03 L592.6 85.18 L592.96 85.6 L593.32 85.31 L593.68 85.2 L594.04 86.1 L594.4 86.04 L594.76 85.45 L595.12 84.72 L595.48 84.01 L595.84 83.53 L596.2 83.96 L596.56 84.1 L596.92 84.36 L597.28 85.46 L597.64 86.15 L598 85.33 L598.36 85.63 L598.72 85.64 L599.08 86.47 L599.44 86.17 L599.8 85.39 L600.16 85.15 L600.52 86.04 L600.88 86.07 L601.24 86.16 L601.6 84.62 L601.96 85.33 L602.32 84.97 L602.68 85.77 L603.04 86.11 L603.4 86.06 L603.76 85.48 L604.12 86.9 L604.48 86.06 L604.84 87.02 L605.2 86.05 L605.56 85.62 L605.92 85.3 L606.28 84.88 L606.64 84.49 L607 85.7 L607.36 85.12 L607.72 85.29 L608.08 84.86 L608.44 85.1 L608.8 85.99 L609.16 85.76 L609.52 84.5 L609.88 84.29 L610.24 84.33 L610.6 84.72 L610.96 85.6 L611.32 85.2 L611.68 85.11 L612.04 86.03 L612.4 86.37 L612.76 86.78 L613.12 86.61 L613.48 84.92 L613.84 84.7 L614.2 83.6 L614.56 83.37 L614.92 83.78 L615.28 84.26 L615.64 85.19 L616 86.5 L616.36 86.63 L616.72 87.45 L617.08 88.09 L617.44 86.84 L617.8 86.4 L618.16 85.6 L618.52 85.67 L618.88 85.09 L619.24 85.41 L619.6 84.4 L619.96 85.94 L620.32 85.78 L620.68 85.92 L621.04 85.42 L621.4 85.34 L621.76 85.45 L622.12 84.64 L622.48 83.23 L622.84 82.9 L623.2 82.1 L623.56 81.79 L623.92 82.03 L624.28 80.74 L624.64 81.83 L625 81.36 L625.36 81.47 L625.72 82.44 L626.08 83.09 L626.44 82.83 L626.8 83.87 L627.16 83.48 L627.52 83.73 L627.88 83.87 L628.24 83.76 L628.6 83.07 L628.96 83.5 L629.32 83.9 L629.68 83.11 L630.04 83.73 L630.4 84.3 L630.76 83.9 L631.12 84.37 L631.48 84.96 L631.84 84.12 L632.2 85.64 L632.56 85.58 L632.92 84.91 L633.28 85.76 L633.64 85.41 L634 84.52 L634.36 84.68 L634.72 85.04 L635.08 85.45 L635.44 85.69 L635.8 85.56 L636.16 86.18 L636.52 87.96 L636.88 89.09 L637.24 87.84 L637.6 87.8 L637.96 87.42 L638.32 86.86 L638.68 86.23 L639.04 85.57 L639.4 84.68 L639.76 85.21 L640.12 86.16 L640.48 86.68 L640.84 86.61 L641.2 86.87 L641.56 86.6 L641.92 86.64 L642.28 87.3 L642.64 86.64 L643 86.68 L643.36 86.44 L643.72 86.32 L644.08 85.94 L644.44 85.41 L644.8 84.82 L645.16 85.13 L645.52 84.75 L645.88 84.71 L646.24 85.7 L646.6 86.05 L646.96 86.51 L647.32 86.31 L647.68 85.48 L648.04 86.93 L648.4 86.87 L648.76 86.48 L649.12 86.24 L649.48 86.22 L649.84 86.21 L650.2 86.14 L650.56 84.66 L650.92 84.81 L651.28 84.56 L651.64 84.98 L652 85.38 L652.36 85.19 L652.72 85.52 L653.08 86.01 L653.44 85.78 L653.8 85.37 L654.16 84.98 L654.52 84.54 L654.88 84.48 L655.24 84.28 L655.6 83.74 L655.96 84.79 L656.32 84.64 L656.68 83.9 L657.04 83.16 L657.4 82.86 L657.76 82.83 L658.12 82.3 L658.48 81.24 L658.84 81.21 L659.2 80.94 L659.56 80.93 L659.92 80.82 L660.28 80.16 L660.64 80.36 L661 80.69 L661.36 81.03" stroke="#000" stroke-width="2.2" fill="none" stroke-linejoin="round" stroke-linecap="round"/>
<path d="M529.6 87.87 L529.78 89.28 L529.96 88.41 L530.14 85.55 L530.32 97.98 L530.5 94.5 L530.68 93.74 L530.86 95.58 L531.04 94.09 L531.22 100.96 L531.4 93.07 L531.58 93.29 L531.76 94.14 L531.94 89.43 L532.12 90.82 L532.3 88.73 L532.48 92.03 L532.66 87.58 L532.84 96.47 L533.02 89.44 L533.2 86.21 L533.38 85.33 L533.56 90.42 L533.74 85.61 L533.92 93.98 L534.1 87.4 L534.28 92.57 L534.46 115.4 L534.64 115.55 L534.82 105.22 L535 102.02 L535.18 108.47 L535.36 104.66 L535.54 97.87 L535.72 91.79 L535.9 94.96 L536.08 85.87 L536.26 88.31 L536.44 86.49 L536.62 89 L536.8 89.87 L536.98 87.7 L537.16 84.04 L537.34 88.19 L537.52 88.22 L537.7 85.24 L537.88 90.18 L538.06 100.72 L538.24 98.53 L538.42 101.27 L538.6 92.26 L538.78 91.36 L538.96 84.09 L539.14 89.78 L539.32 89.24 L539.5 91.5 L539.68 84.92 L539.86 94.2 L540.04 90.91 L540.22 90.29 L540.4 86.69 L540.58 82.14 L540.76 88.25 L540.94 83.69 L541.12 86.03 L541.3 89.18 L541.48 84.57 L541.66 82.61 L541.84 84.58 L542.02 85.48 L542.2 81.09 L542.38 86.37 L542.56 85.68 L542.74 85.69 L542.92 85.14 L543.1 87.34 L543.28 90.81 L543.46 86.9 L543.64 82.25 L543.82 81.97 L544 79.95 L544.18 90.14 L544.36 87.88 L544.54 88.6 L544.72 90.3 L544.9 98.8 L545.08 95.91 L545.26 95.09 L545.44 92.32 L545.62 94.58 L545.8 88.78 L545.98 82.26 L546.16 87.95 L546.34 84.88 L546.52 84.17 L546.7 85.52 L546.88 89.42 L547.06 93.05 L547.24 94.42 L547.42 92.82 L547.6 93.61 L547.78 90.94 L547.96 95.88 L548.14 89.98 L548.32 93.57 L548.5 90.62 L548.68 92.7 L548.86 86.08 L549.04 89.8 L549.22 83.31 L549.4 85.56 L549.58 84.24 L549.76 90.97 L549.94 80.59 L550.12 83.36 L550.3 81.79 L550.48 83.19 L550.66 88.38 L550.84 86.88 L551.02 87.27 L551.2 87.34 L551.38 89.05 L551.56 90.75 L551.74 91.7 L551.92 87.24 L552.1 83.56 L552.28 83.4 L552.46 84.06 L552.64 85.9 L552.82 81.6 L553 86.48 L553.18 87.33 L553.36 79.74 L553.54 90.07 L553.72 87.7 L553.9 80.88 L554.08 79.41 L554.26 84.98 L554.44 82.3 L554.62 84.79 L554.8 79.26 L554.98 84.59 L555.16 78.41 L555.34 81.53 L555.52 80.77 L555.7 77.38 L555.88 83.43 L556.06 79.2 L556.24 82.07 L556.42 81.07 L556.6 76.36 L556.78 82.07 L556.96 89.48 L557.14 84.94 L557.32 83.68 L557.5 84.7 L557.68 83.45 L557.86 90.19 L558.04 82.01 L558.22 80.72 L558.4 83.6 L558.58 77.77 L558.76 77.54 L558.94 78.51 L559.12 78.68 L559.3 82.77 L559.48 80.47 L559.66 81.16 L559.84 97.21 L560.02 82.17 L560.2 90.63 L560.38 85.35 L560.56 85.52 L560.74 80.79 L560.92 77.2 L561.1 83.35 L561.28 81.28 L561.46 84.88 L561.64 87.96 L561.82 95.35 L562 80.32 L562.18 86.95 L562.36 83.03 L562.54 81.12 L562.72 88.15 L562.9 83.6 L563.08 90.89 L563.26 86.96 L563.44 91.14 L563.62 91.67 L563.8 89.96 L563.98 89.04 L564.16 87.47 L564.34 92.42 L564.52 95.33 L564.7 96.4 L564.88 91.72 L565.06 93.93 L565.24 91.73 L565.42 92.31 L565.6 88.81 L565.78 88.54 L565.96 89.57 L566.14 86.68 L566.32 78.02 L566.5 84.8 L566.68 81.59 L566.86 89.28 L567.04 86.58 L567.22 86.46 L567.4 87.68 L567.58 86.84 L567.76 83.59 L567.94 86.44 L568.12 89.99 L568.3 82.83 L568.48 84.89 L568.66 88.89 L568.84 82.06 L569.02 83.19 L569.2 84.75 L569.38 85.23 L569.56 85.34 L569.74 83.18 L569.92 88.91 L570.1 83.28 L570.28 84.34 L570.46 81.6 L570.64 80.8 L570.82 86.69 L571 90.09 L571.18 88.26 L571.36 89.97 L571.54 89.03 L571.72 88.96 L571.9 88.6 L572.08 81.58 L572.26 83.97 L572.44 89.02 L572.62 87.65 L572.8 89.35 L572.98 91.1 L573.16 89.89 L573.34 86.12 L573.52 89 L573.7 91.72 L573.88 87.74 L574.06 87.32 L574.24 90.11 L574.42 91.13 L574.6 87.99 L574.78 90.93 L574.96 81.98 L575.14 81.2 L575.32 80.89 L575.5 87.51 L575.68 94.12 L575.86 93.27 L576.04 91.03 L576.22 85.09 L576.4 86.41 L576.58 86.89 L576.76 84.12 L576.94 84.84 L577.12 83.86 L577.3 84.86 L577.48 84.58 L577.66 84.99 L577.84 106.82 L578.02 104.36 L578.2 96.99 L578.38 95.41 L578.56 87.93 L578.74 89.89 L578.92 86.31 L579.1 87.73 L579.28 87.79 L579.46 88.2 L579.64 81.38 L579.82 84.52 L580 85 L580.18 83.72 L580.36 88.32 L580.54 82.4 L580.72 84.97 L580.9 84.23 L581.08 88.39 L581.26 81.82 L581.44 90.04 L581.62 92.83 L581.8 85.4 L581.98 91.3 L582.16 86.75 L582.34 95.49 L582.52 94.37 L582.7 87.18 L582.88 92.9 L583.06 87.38 L583.24 87.96 L583.42 91.93 L583.6 92.64 L583.78 88.43 L583.96 93.1 L584.14 94.37 L584.32 89.87 L584.5 94.33 L584.68 97.8 L584.86 100.02 L585.04 101.83 L585.22 94.66 L585.4 90.46 L585.58 96.08 L585.76 95.75 L585.94 92.18 L586.12 89.27 L586.3 95.55 L586.48 89.44 L586.66 83.11 L586.84 86.42 L587.02 86.11 L587.2 80.93 L587.38 86.62 L587.56 76.49 L587.74 107.1 L587.92 104.33 L588.1 101.91 L588.28 95.25 L588.46 95.29 L588.64 91.28 L588.82 92.2 L589 92.57 L589.18 81.05 L589.36 85.03 L589.54 81.93 L589.72 82.68 L589.9 83.33 L590.08 82.51 L590.26 85.53 L590.44 84.79 L590.62 87.58 L590.8 90.19 L590.98 86.95 L591.16 92.76 L591.34 92.38 L591.52 87.35 L591.7 85 L591.88 86.06 L592.06 82.89 L592.24 86.26 L592.42 89.34 L592.6 83.18 L592.78 83.96 L592.96 88.68 L593.14 97.55 L593.32 89.03 L593.5 89.74 L593.68 92.85 L593.86 89.38 L594.04 86.12 L594.22 83.96 L594.4 90.6 L594.58 94.31 L594.76 88.28 L594.94 87.48 L595.12 86.06 L595.3 87.83 L595.48 88.47 L595.66 89.64 L595.84 91.75 L596.02 85.47 L596.2 79.13 L596.38 84.04 L596.56 82.38 L596.74 80.13 L596.92 82.64 L597.1 81.87 L597.28 91.69 L597.46 124.57 L597.64 112.96 L597.82 107.3 L598 106.73 L598.18 106.1 L598.36 99.97 L598.54 96.18 L598.72 101.82 L598.9 97.92 L599.08 99.62 L599.26 96.18 L599.44 88.69 L599.62 91.02 L599.8 91.41 L599.98 83.34 L600.16 75.41 L600.34 84.46 L600.52 88.87 L600.7 84.55 L600.88 81.9 L601.06 79.75 L601.24 84.85 L601.42 84.51 L601.6 78.43 L601.78 80.28 L601.96 84.91 L602.14 86.03 L602.32 85.64 L602.5 85.33 L602.68 90.93 L602.86 87.91 L603.04 87.59 L603.22 85.06 L603.4 85.98 L603.58 86.56 L603.76 93.66 L603.94 89.98 L604.12 82.45 L604.3 89.99 L604.48 82.36 L604.66 79.47 L604.84 83.07 L605.02 81.04 L605.2 84.48 L605.38 82.93 L605.56 86.93 L605.74 82.98 L605.92 96.14 L606.1 98.88 L606.28 94.44 L606.46 95.45 L606.64 96.22 L606.82 93.45 L607 93.77 L607.18 95.28 L607.36 91.17 L607.54 86.13 L607.72 86.39 L607.9 89.53 L608.08 84.48 L608.26 82.3 L608.44 76.31 L608.62 78.63 L608.8 81.84 L608.98 82.93 L609.16 83.8 L609.34 84.84 L609.52 79.37 L609.7 83.75 L609.88 78.97 L610.06 83.09 L610.24 82.87 L610.42 87.76 L610.6 88.04 L610.78 88.27 L610.96 88.35 L611.14 86.75 L611.32 90.15 L611.5 86.86 L611.68 81.65 L611.86 77.72 L612.04 78.11 L612.22 84.04 L612.4 85.01 L612.58 86.43 L612.76 84.54 L612.94 103.3 L613.12 95.4 L613.3 98.25 L613.48 91.82 L613.66 90.63 L613.84 84.27 L614.02 86.23 L614.2 84.22 L614.38 80.78 L614.56 81.64 L614.74 81.31 L614.92 79.64 L615.1 83.15 L615.28 83.44 L615.46 90.93 L615.64 88.99 L615.82 85.08 L616 88.48 L616.18 83.94 L616.36 80.14 L616.54 86 L616.72 85.18 L616.9 91.06 L617.08 89.33 L617.26 94.57 L617.44 90.39 L617.62 84.76 L617.8 91.42 L617.98 87.39 L618.16 88.16 L618.34 83.83 L618.52 87.61 L618.7 95.82 L618.88 90.13 L619.06 78.26 L619.24 93.03 L619.42 88.02 L619.6 83.94 L619.78 92.56 L619.96 90.95 L620.14 89.9 L620.32 92 L620.5 87.01 L620.68 91.43 L620.86 88.17 L621.04 87.66 L621.22 85.86 L621.4 82.25 L621.58 85.59 L621.76 86.18 L621.94 84.06 L622.12 84.3 L622.3 82.83 L622.48 83.28 L622.66 85.99 L622.84 81.78 L623.02 82.7 L623.2 83.08 L623.38 84.56 L623.56 83.13 L623.74 78.04 L623.92 80.06 L624.1 82.49 L624.28 85.4 L624.46 87.4 L624.64 88.74 L624.82 91.15 L625 85.77 L625.18 82.03 L625.36 80.48 L625.54 81.96 L625.72 85.41 L625.9 82.21 L626.08 86.63 L626.26 91.75 L626.44 94.56 L626.62 84.88 L626.8 86.87 L626.98 92.51 L627.16 91.8 L627.34 96.54 L627.52 94.66 L627.7 95.61 L627.88 93.56 L628.06 89.99 L628.24 82.17 L628.42 89.03 L628.6 78.76 L628.78 81.36 L628.96 81.16 L629.14 81.32 L629.32 80.09 L629.5 85.97 L629.68 79.78 L629.86 86.48 L630.04 89.64 L630.22 88.12 L630.4 77.07 L630.58 80.72 L630.76 81.68 L630.94 82.25 L631.12 86.73 L631.3 82.06 L631.48 86.22 L631.66 87.63 L631.84 83.54 L632.02 88.78 L632.2 90.13 L632.38 85.8 L632.56 90.12 L632.74 84.97 L632.92 81.29 L633.1 82.27 L633.28 82.99 L633.46 84.75 L633.64 85.93 L633.82 80.12 L634 86.5 L634.18 81.35 L634.36 108.95 L634.54 106.47 L634.72 98.1 L634.9 102.95 L635.08 97.16 L635.26 101.9 L635.44 94.85 L635.62 99.87 L635.8 97.68 L635.98 93.08 L636.16 97.61 L636.34 95.83 L636.52 100.77 L636.7 97.82 L636.88 101.6 L637.06 91.08 L637.24 95.7 L637.42 91.89 L637.6 87.3 L637.78 83.82 L637.96 86.26 L638.14 88.05 L638.32 81.54 L638.5 86.29 L638.68 87.57 L638.86 87.41 L639.04 83.12 L639.22 85.57 L639.4 88.04 L639.58 92.32 L639.76 88.35 L639.94 87.78 L640.12 89.79 L640.3 89 L640.48 92.68 L640.66 81.38 L640.84 80.48 L641.02 86.23 L641.2 84.77 L641.38 81.29 L641.56 82.09 L641.74 84.26 L641.92 85.16 L642.1 88.03 L642.28 92.53 L642.46 91.28 L642.64 87.7 L642.82 90.29 L643 90.94 L643.18 89.61 L643.36 78.44 L643.54 83.59 L643.72 84.35 L643.9 87.19 L644.08 84.01 L644.26 86.55 L644.44 84.12 L644.62 90.65 L644.8 87.97 L644.98 83.31 L645.16 83.92 L645.34 82.56 L645.52 84.15 L645.7 79.63 L645.88 82.62 L646.06 83.4 L646.24 82.05 L646.42 81.27 L646.6 85.85 L646.78 83.58 L646.96 82.48 L647.14 110.21 L647.32 107.63 L647.5 100.33 L647.68 97.45 L647.86 95.75 L648.04 97.28 L648.22 96.11 L648.4 101.39 L648.58 101.59 L648.76 88.7 L648.94 93.5 L649.12 94.3 L649.3 98.41 L649.48 95.2 L649.66 91.65 L649.84 97.34 L650.02 98.48 L650.2 97.45 L650.38 93.45 L650.56 87.44 L650.74 95.49 L650.92 84.85 L651.1 85.52 L651.28 82.69 L651.46 89.17 L651.64 85.96 L651.82 87.03 L652 95.77 L652.18 93.27 L652.36 89.05 L652.54 80.6 L652.72 95.62 L652.9 92.31 L653.08 92.3 L653.26 87.72 L653.44 82.02 L653.62 86.34 L653.8 88.14 L653.98 88.61 L654.16 88.23 L654.34 90.1 L654.52 85.48 L654.7 81.87 L654.88 83.08 L655.06 77.9 L655.24 82.63 L655.42 87.15 L655.6 81.14 L655.78 85.73 L655.96 88.33 L656.14 83.31 L656.32 81.4 L656.5 78.32 L656.68 83.6 L656.86 77.44 L657.04 69.28 L657.22 78.28 L657.4 77.46 L657.58 85 L657.76 85.54 L657.94 81.96 L658.12 87.58 L658.3 81.04 L658.48 79.2 L658.66 85.95 L658.84 84.7 L659.02 81.35 L659.2 86.88 L659.38 89.2 L659.56 80.68 L659.74 73.41 L659.92 84.55 L660.1 80.46 L660.28 82.26 L660.46 80.36 L660.64 79.41 L660.82 77.08 L661 75.76 L661.18 79.15 L661.36 78.01" stroke="#2a2a2a" stroke-width="0.7" fill="none" stroke-linejoin="round"/>
<path d="M529.6 138.5 L529.96 138.15 L530.32 138.11 L530.68 137.93 L531.04 138.6 L531.4 138.51 L531.76 137.39 L532.12 137.32 L532.48 137.89 L532.84 138.22 L533.2 138.74 L533.56 138.29 L533.92 138.04 L534.28 138.61 L534.64 138.67 L535 138.8 L535.36 139.26 L535.72 139.27 L536.08 139.35 L536.44 139.61 L536.8 139.72 L537.16 140.44 L537.52 140.14 L537.88 139.47 L538.24 138.36 L538.6 138.22 L538.96 137.92 L539.32 137.89 L539.68 137 L540.04 137.21 L540.4 136.91 L540.76 137.17 L541.12 137.14 L541.48 137.16 L541.84 137.6 L542.2 137.38 L542.56 137.32 L542.92 137 L543.28 136.81 L543.64 137.04 L544 136.46 L544.36 135.98 L544.72 136.21 L545.08 136.36 L545.44 136.59 L545.8 136.97 L546.16 135.55 L546.52 135.09 L546.88 134.21 L547.24 134.33 L547.6 133.72 L547.96 134.12 L548.32 134.02 L548.68 134.88 L549.04 136.03 L549.4 136.88 L549.76 136.87 L550.12 136.88 L550.48 136.63 L550.84 136.69 L551.2 135.66 L551.56 134.25 L551.92 133.78 L552.28 134.22 L552.64 133.49 L553 132.33 L553.36 131.43 L553.72 131.88 L554.08 132.42 L554.44 132.11 L554.8 131.72 L555.16 132.52 L555.52 133.89 L555.88 133.84 L556.24 133.75 L556.6 133.95 L556.96 133.77 L557.32 133.35 L557.68 133.91 L558.04 133.51 L558.4 134.37 L558.76 134.7 L559.12 134.63 L559.48 135.33 L559.84 135.35 L560.2 135.21 L560.56 135.55 L560.92 135.1 L561.28 135.39 L561.64 135.28 L562 135.12 L562.36 135.42 L562.72 135.25 L563.08 135.39 L563.44 136.14 L563.8 135.58 L564.16 135.76 L564.52 136.66 L564.88 137.72 L565.24 138.33 L565.6 137.95 L565.96 137.83 L566.32 138.2 L566.68 137.94 L567.04 137.72 L567.4 136.66 L567.76 135.7 L568.12 135.49 L568.48 134.69 L568.84 134.37 L569.2 134.62 L569.56 133.91 L569.92 133.67 L570.28 133.23 L570.64 132.99 L571 132.84 L571.36 132.87 L571.72 133.03 L572.08 133.42 L572.44 133.35 L572.8 133.59 L573.16 133.64 L573.52 133.5 L573.88 134.05 L574.24 133.42 L574.6 133.16 L574.96 133.23 L575.32 133.25 L575.68 133.66 L576.04 133.38 L576.4 133.32 L576.76 134.03 L577.12 134.54 L577.48 134.2 L577.84 134.87 L578.2 134.68 L578.56 134.79 L578.92 134.61 L579.28 134.98 L579.64 134.67 L580 135.72 L580.36 135.38 L580.72 135.04 L581.08 135.63 L581.44 135.76 L581.8 135.6 L582.16 135.44 L582.52 134.46 L582.88 134.4 L583.24 134.82 L583.6 134.36 L583.96 134.28 L584.32 134.46 L584.68 134.64 L585.04 135.05 L585.4 135.33 L585.76 135.3 L586.12 135.07 L586.48 135.77 L586.84 135.91 L587.2 135.82 L587.56 135.42 L587.92 134.77 L588.28 133.84 L588.64 134.64 L589 133.59 L589.36 132.71 L589.72 133.34 L590.08 133.64 L590.44 134.08 L590.8 134.99 L591.16 134.82 L591.52 135.14 L591.88 134.8 L592.24 134.41 L592.6 134.45 L592.96 134.59 L593.32 134.34 L593.68 135.37 L594.04 135.81 L594.4 136.44 L594.76 136.97 L595.12 137.29 L595.48 137.32 L595.84 137.62 L596.2 136.71 L596.56 136.28 L596.92 136.06 L597.28 135.63 L597.64 135.29 L598 135.28 L598.36 135.63 L598.72 135.38 L599.08 135.58 L599.44 136.16 L599.8 135.66 L600.16 135.6 L600.52 135.05 L600.88 134.49 L601.24 134.33 L601.6 134.74 L601.96 134.39 L602.32 134.42 L602.68 133.96 L603.04 134.39 L603.4 134.07 L603.76 134.19 L604.12 133.98 L604.48 134.26 L604.84 134.41 L605.2 134.55 L605.56 134.67 L605.92 134.95 L606.28 135.1 L606.64 135.52 L607 135.46 L607.36 135.58 L607.72 135.81 L608.08 135.48 L608.44 134.87 L608.8 135.07 L609.16 134.2 L609.52 134.16 L609.88 134.93 L610.24 135.22 L610.6 135.4 L610.96 136.29 L611.32 136.7 L611.68 137.28 L612.04 137.49 L612.4 136.2 L612.76 135.43 L613.12 135.44 L613.48 135.34 L613.84 134.87 L614.2 134.5 L614.56 135.1 L614.92 135.76 L615.28 136.47 L615.64 136.26 L616 136.61 L616.36 136.18 L616.72 136.29 L617.08 135.62 L617.44 135.27 L617.8 135.48 L618.16 136.05 L618.52 135.66 L618.88 136.91 L619.24 136.89 L619.6 136.83 L619.96 137.09 L620.32 137.23 L620.68 136.95 L621.04 137.44 L621.4 136.84 L621.76 136.9 L622.12 137.32 L622.48 137.62 L622.84 137.19 L623.2 137.58 L623.56 137.24 L623.92 137.62 L624.28 137.73 L624.64 137.5 L625 137.35 L625.36 137.68 L625.72 137.18 L626.08 137.15 L626.44 137.34 L626.8 137.54 L627.16 138.16 L627.52 138.18 L627.88 137.62 L628.24 137.82 L628.6 137.44 L628.96 137.03 L629.32 136.81 L629.68 136.42 L630.04 136.24 L630.4 135.53 L630.76 135.54 L631.12 136.62 L631.48 136.49 L631.84 136.73 L632.2 136.77 L632.56 136.86 L632.92 138.07 L633.28 138.04 L633.64 137.4 L634 137.52 L634.36 137.51 L634.72 137.4 L635.08 136.84 L635.44 136.22 L635.8 136.23 L636.16 135.51 L636.52 135.31 L636.88 135.15 L637.24 134.88 L637.6 135.69 L637.96 135.63 L638.32 134.89 L638.68 135.97 L639.04 136.05 L639.4 136.32 L639.76 136.08 L640.12 135.66 L640.48 135.73 L640.84 136.51 L641.2 136.2 L641.56 136.32 L641.92 135.98 L642.28 136.36 L642.64 136.44 L643 136.71 L643.36 136.3 L643.72 136.4 L644.08 136.36 L644.44 137.13 L644.8 137.15 L645.16 137.28 L645.52 137.66 L645.88 137.98 L646.24 137.57 L646.6 137.39 L646.96 137.23 L647.32 137.44 L647.68 137.26 L648.04 137.23 L648.4 136.95 L648.76 136.95 L649.12 137.33 L649.48 137.28 L649.84 137.62 L650.2 138.7 L650.56 138.21 L650.92 138.48 L651.28 139.04 L651.64 138.51 L652 137.79 L652.36 137.74 L652.72 137.04 L653.08 136.88 L653.44 136.58 L653.8 136 L654.16 136.29 L654.52 136.62 L654.88 136.23 L655.24 136.6 L655.6 136.66 L655.96 136.82 L656.32 136.77 L656.68 136.37 L657.04 136.19 L657.4 135.7 L657.76 134.9 L658.12 135.32 L658.48 134.96 L658.84 135 L659.2 134.73 L659.56 134.67 L659.92 134.79 L660.28 134.71 L660.64 134.5 L661 134.86 L661.36 135.02" stroke="#000" stroke-width="2" fill="none" stroke-linejoin="round" stroke-linecap="round"/>
<path d="M529.6 138.69 L529.78 135.95 L529.96 138.18 L530.14 135.93 L530.32 134.17 L530.5 136.6 L530.68 137.8 L530.86 138.49 L531.04 137.35 L531.22 140.3 L531.4 141.35 L531.58 136.74 L531.76 138.57 L531.94 135.23 L532.12 134.33 L532.3 136.96 L532.48 135.25 L532.66 130.09 L532.84 136.16 L533.02 134.14 L533.2 136.83 L533.38 137.19 L533.56 138.46 L533.74 139.39 L533.92 137.29 L534.1 137.47 L534.28 137.61 L534.46 140.88 L534.64 141.09 L534.82 146.77 L535 140.43 L535.18 141.75 L535.36 141.98 L535.54 140.83 L535.72 141.61 L535.9 139.94 L536.08 139.54 L536.26 140.4 L536.44 142.01 L536.62 139.81 L536.8 140.38 L536.98 138.35 L537.16 138.08 L537.34 141.12 L537.52 139.14 L537.7 138.62 L537.88 141.99 L538.06 140 L538.24 139.68 L538.42 139.03 L538.6 136.83 L538.78 136.96 L538.96 137.82 L539.14 138.22 L539.32 137.82 L539.5 137.92 L539.68 135.32 L539.86 137.64 L540.04 137.98 L540.22 131.26 L540.4 133.34 L540.58 136.21 L540.76 134.95 L540.94 135.43 L541.12 133.27 L541.3 132.14 L541.48 133.52 L541.66 131.98 L541.84 136.78 L542.02 142.45 L542.2 141.25 L542.38 140.37 L542.56 144.92 L542.74 139.36 L542.92 140.23 L543.1 140.4 L543.28 139.1 L543.46 135.23 L543.64 134.06 L543.82 134.16 L544 131.39 L544.18 132.36 L544.36 131.16 L544.54 133.47 L544.72 136.21 L544.9 140.09 L545.08 138.07 L545.26 145.41 L545.44 144.11 L545.62 139.55 L545.8 146.5 L545.98 143.01 L546.16 139.3 L546.34 137.95 L546.52 136.66 L546.7 136.63 L546.88 133.53 L547.06 136.12 L547.24 137.92 L547.42 136.43 L547.6 152.54 L547.78 145.02 L547.96 144.9 L548.14 141.43 L548.32 141.85 L548.5 142.29 L548.68 137.73 L548.86 135.4 L549.04 138.68 L549.22 133.09 L549.4 133.42 L549.58 136.35 L549.76 134.53 L549.94 137.73 L550.12 136.25 L550.3 139.61 L550.48 135.33 L550.66 137.29 L550.84 139.06 L551.02 136.64 L551.2 138.99 L551.38 138.38 L551.56 137.07 L551.74 133.74 L551.92 133.43 L552.1 137.23 L552.28 133.09 L552.46 135.45 L552.64 134.68 L552.82 134.36 L553 133.23 L553.18 140.45 L553.36 133.89 L553.54 139.6 L553.72 137.84 L553.9 133.95 L554.08 132.76 L554.26 130.23 L554.44 130.52 L554.62 131.54 L554.8 130.04 L554.98 137.15 L555.16 138.21 L555.34 138.34 L555.52 139.14 L555.7 140.47 L555.88 140.93 L556.06 142.29 L556.24 137.94 L556.42 136.38 L556.6 134.24 L556.78 128.71 L556.96 131.5 L557.14 132.55 L557.32 135.64 L557.5 132.34 L557.68 132.81 L557.86 136.48 L558.04 134.15 L558.22 134.63 L558.4 131.49 L558.58 130.98 L558.76 130.22 L558.94 129.02 L559.12 130.31 L559.3 132.52 L559.48 135.3 L559.66 135.09 L559.84 133.86 L560.02 138.85 L560.2 133.38 L560.38 137.89 L560.56 136.72 L560.74 138.41 L560.92 142.44 L561.1 141.96 L561.28 138.17 L561.46 140.15 L561.64 135.83 L561.82 139.37 L562 137.13 L562.18 136.06 L562.36 138 L562.54 135.94 L562.72 134.99 L562.9 136.11 L563.08 136.12 L563.26 137.22 L563.44 138.85 L563.62 139.12 L563.8 139.33 L563.98 138.5 L564.16 136.86 L564.34 138.13 L564.52 136.14 L564.7 138.15 L564.88 137.75 L565.06 139.48 L565.24 138.37 L565.42 140.46 L565.6 142.69 L565.78 138.42 L565.96 138.59 L566.14 139.16 L566.32 141.5 L566.5 141.06 L566.68 139.47 L566.86 142.41 L567.04 140.03 L567.22 139.33 L567.4 140.79 L567.58 137.51 L567.76 137.11 L567.94 136.73 L568.12 137.62 L568.3 132.92 L568.48 131.21 L568.66 134.46 L568.84 134.61 L569.02 135.83 L569.2 134.36 L569.38 132.21 L569.56 134.13 L569.74 133.75 L569.92 138.91 L570.1 131.44 L570.28 135.79 L570.46 134.57 L570.64 134.13 L570.82 134.18 L571 134.86 L571.18 133.33 L571.36 132.47 L571.54 136.02 L571.72 133.37 L571.9 135.9 L572.08 134.41 L572.26 133.37 L572.44 132.37 L572.62 134.6 L572.8 136.54 L572.98 135.54 L573.16 135.85 L573.34 136.45 L573.52 130.2 L573.7 130.85 L573.88 132 L574.06 131.25 L574.24 129.95 L574.42 135.37 L574.6 133.14 L574.78 140.05 L574.96 137.61 L575.14 136.1 L575.32 132.12 L575.5 133.95 L575.68 130.72 L575.86 132.66 L576.04 133.14 L576.22 134.61 L576.4 133.73 L576.58 131.62 L576.76 133.72 L576.94 132.4 L577.12 133.65 L577.3 136.55 L577.48 135.58 L577.66 138.92 L577.84 136.27 L578.02 138.91 L578.2 139.51 L578.38 133.17 L578.56 132.65 L578.74 133.53 L578.92 134.74 L579.1 134.81 L579.28 132.47 L579.46 138.1 L579.64 137.58 L579.82 136.74 L580 137.7 L580.18 137.12 L580.36 138.55 L580.54 140.85 L580.72 139.76 L580.9 137.59 L581.08 137.04 L581.26 138.41 L581.44 138.47 L581.62 137.55 L581.8 135.02 L581.98 136.78 L582.16 134.56 L582.34 135.48 L582.52 138.21 L582.7 133.5 L582.88 136.3 L583.06 135.12 L583.24 136.38 L583.42 138.6 L583.6 131.43 L583.78 132.08 L583.96 131.38 L584.14 136.51 L584.32 137.52 L584.5 134.56 L584.68 136.4 L584.86 135 L585.04 134.76 L585.22 131.33 L585.4 133.77 L585.58 132.59 L585.76 135.56 L585.94 133.9 L586.12 133.09 L586.3 136.05 L586.48 134.97 L586.66 133.69 L586.84 135.43 L587.02 134.26 L587.2 132.97 L587.38 135.63 L587.56 131.86 L587.74 133.57 L587.92 137.3 L588.1 133.14 L588.28 139.87 L588.46 139.15 L588.64 137.6 L588.82 134.54 L589 134.87 L589.18 136.2 L589.36 134.79 L589.54 136.12 L589.72 135.85 L589.9 134.33 L590.08 135.35 L590.26 136.38 L590.44 133.66 L590.62 131.57 L590.8 134.63 L590.98 133.29 L591.16 133.23 L591.34 128.74 L591.52 137.61 L591.7 136.84 L591.88 136.09 L592.06 136.03 L592.24 134.82 L592.42 135.09 L592.6 136.78 L592.78 132.43 L592.96 135.19 L593.14 129.33 L593.32 127.9 L593.5 133.44 L593.68 130.98 L593.86 132.06 L594.04 136.9 L594.22 139.54 L594.4 140.21 L594.58 135.67 L594.76 137.43 L594.94 135.66 L595.12 140.2 L595.3 137.45 L595.48 136.22 L595.66 134.38 L595.84 132.84 L596.02 137.81 L596.2 136.59 L596.38 137.02 L596.56 136.82 L596.74 134.66 L596.92 137.14 L597.1 137.04 L597.28 137.46 L597.46 150.2 L597.64 143.52 L597.82 138.82 L598 136 L598.18 136.81 L598.36 140.71 L598.54 138.85 L598.72 138.58 L598.9 138.64 L599.08 140.08 L599.26 137.92 L599.44 139.7 L599.62 134.69 L599.8 135.34 L599.98 136.64 L600.16 135.3 L600.34 135.08 L600.52 134.58 L600.7 135.81 L600.88 128.75 L601.06 132.98 L601.24 132 L601.42 133.68 L601.6 134.27 L601.78 134.82 L601.96 133.32 L602.14 133.83 L602.32 138.04 L602.5 135.41 L602.68 132.71 L602.86 132.2 L603.04 130.22 L603.22 134.46 L603.4 129.89 L603.58 130.86 L603.76 133.71 L603.94 132.55 L604.12 136.11 L604.3 138.99 L604.48 136.1 L604.66 137.89 L604.84 140.36 L605.02 135.52 L605.2 134.34 L605.38 135.7 L605.56 135.89 L605.74 137.07 L605.92 135.6 L606.1 135.11 L606.28 134.73 L606.46 139.6 L606.64 139.23 L606.82 139.53 L607 136.34 L607.18 138.7 L607.36 140.53 L607.54 135.44 L607.72 135.91 L607.9 133.83 L608.08 132.22 L608.26 138.64 L608.44 132.43 L608.62 136.87 L608.8 131.49 L608.98 132.17 L609.16 136.05 L609.34 130.88 L609.52 132.59 L609.7 136.69 L609.88 143.24 L610.06 145.03 L610.24 141.09 L610.42 140.29 L610.6 141.28 L610.78 137.04 L610.96 140.7 L611.14 137.93 L611.32 139.08 L611.5 138.14 L611.68 136.25 L611.86 139.59 L612.04 137.83 L612.22 137.75 L612.4 136.52 L612.58 135.26 L612.76 134.35 L612.94 135.8 L613.12 135.61 L613.3 137.05 L613.48 134.99 L613.66 139.34 L613.84 139.7 L614.02 141.74 L614.2 138.07 L614.38 140.04 L614.56 138.63 L614.74 137.64 L614.92 137.36 L615.1 135.89 L615.28 137.23 L615.46 135.79 L615.64 134.79 L615.82 139.06 L616 137.75 L616.18 139.01 L616.36 137.22 L616.54 139.91 L616.72 140.68 L616.9 136.97 L617.08 138.02 L617.26 136.77 L617.44 136.48 L617.62 134.13 L617.8 133.69 L617.98 133.5 L618.16 134.1 L618.34 134.4 L618.52 128.44 L618.7 132.03 L618.88 134.63 L619.06 136.52 L619.24 140.57 L619.42 140.46 L619.6 141.13 L619.78 140.86 L619.96 141.09 L620.14 138.63 L620.32 137.48 L620.5 141.13 L620.68 138.98 L620.86 138.3 L621.04 138.8 L621.22 139.98 L621.4 136.93 L621.58 137.12 L621.76 140.24 L621.94 138.74 L622.12 139.18 L622.3 136.05 L622.48 139.09 L622.66 142.59 L622.84 141.58 L623.02 139.13 L623.2 141.95 L623.38 141.4 L623.56 146.08 L623.74 146.55 L623.92 142.47 L624.1 139.65 L624.28 142.36 L624.46 141.46 L624.64 139.52 L624.82 138.72 L625 138.66 L625.18 139.27 L625.36 139.17 L625.54 137.47 L625.72 136.68 L625.9 142.68 L626.08 142.09 L626.26 141.79 L626.44 141.8 L626.62 143.04 L626.8 141.89 L626.98 140.91 L627.16 145.98 L627.34 141.56 L627.52 139.19 L627.7 140.72 L627.88 141.92 L628.06 139.93 L628.24 141.98 L628.42 140.21 L628.6 138.38 L628.78 138.31 L628.96 139.02 L629.14 139.49 L629.32 138.12 L629.5 140.26 L629.68 138.6 L629.86 139.47 L630.04 142.94 L630.22 139.34 L630.4 136.2 L630.58 136.73 L630.76 134.6 L630.94 135.06 L631.12 133.43 L631.3 136.52 L631.48 138.02 L631.66 134.3 L631.84 134.66 L632.02 136.08 L632.2 137.92 L632.38 137.46 L632.56 136.79 L632.74 136.22 L632.92 139.62 L633.1 134.52 L633.28 140.34 L633.46 138.1 L633.64 140.58 L633.82 140.94 L634 142.31 L634.18 135.9 L634.36 136.75 L634.54 135.41 L634.72 135.21 L634.9 136.76 L635.08 135.99 L635.26 135.41 L635.44 137.89 L635.62 136.53 L635.8 135.02 L635.98 134.28 L636.16 132.77 L636.34 132.44 L636.52 134.71 L636.7 133.69 L636.88 133.83 L637.06 138.16 L637.24 141.87 L637.42 135.59 L637.6 139.93 L637.78 138.34 L637.96 137.39 L638.14 133.39 L638.32 133.98 L638.5 135.12 L638.68 136.85 L638.86 134.51 L639.04 138.49 L639.22 143.52 L639.4 139.64 L639.58 144.33 L639.76 145.18 L639.94 138.11 L640.12 139.82 L640.3 135.83 L640.48 131.82 L640.66 135.84 L640.84 136.27 L641.02 138.36 L641.2 134.76 L641.38 134.43 L641.56 138.43 L641.74 133.67 L641.92 132.21 L642.1 134.88 L642.28 132.8 L642.46 132.86 L642.64 130.95 L642.82 132.1 L643 136.64 L643.18 133.78 L643.36 133.53 L643.54 142.38 L643.72 138.95 L643.9 139.84 L644.08 138.63 L644.26 141.18 L644.44 138.37 L644.62 139.34 L644.8 139.63 L644.98 141.39 L645.16 141.5 L645.34 140.85 L645.52 138.49 L645.7 142.24 L645.88 143.21 L646.06 138.55 L646.24 137.53 L646.42 138.48 L646.6 139.01 L646.78 137.93 L646.96 137.92 L647.14 139.33 L647.32 136.24 L647.5 132.87 L647.68 137.83 L647.86 138.99 L648.04 152.78 L648.22 150.01 L648.4 145.54 L648.58 141.9 L648.76 138.95 L648.94 140.84 L649.12 141.66 L649.3 139.2 L649.48 141.68 L649.66 137.7 L649.84 135.73 L650.02 140.73 L650.2 139.78 L650.38 136.73 L650.56 137.55 L650.74 135.14 L650.92 138.54 L651.1 143.32 L651.28 142.28 L651.46 140.94 L651.64 139.06 L651.82 134.11 L652 137.39 L652.18 136.37 L652.36 135.88 L652.54 133.22 L652.72 137.08 L652.9 138.97 L653.08 135.51 L653.26 139.45 L653.44 136.04 L653.62 138.62 L653.8 133.15 L653.98 136.41 L654.16 137.92 L654.34 139.69 L654.52 132.91 L654.7 140.75 L654.88 136.53 L655.06 135.28 L655.24 140.76 L655.42 134.67 L655.6 133.26 L655.78 139.14 L655.96 142.36 L656.14 140.61 L656.32 141.14 L656.5 139.82 L656.68 139.87 L656.86 136.6 L657.04 136.51 L657.22 135.39 L657.4 132.73 L657.58 139.37 L657.76 134.73 L657.94 134.68 L658.12 137.15 L658.3 137.97 L658.48 136.16 L658.66 137.85 L658.84 137.93 L659.02 136.29 L659.2 138.15 L659.38 139.57 L659.56 138.25 L659.74 136.75 L659.92 137.72 L660.1 135.91 L660.28 131.61 L660.46 130.78 L660.64 133.79 L660.82 131.01 L661 130.08 L661.18 135.07 L661.36 133.65" stroke="#2a2a2a" stroke-width="0.7" fill="none" stroke-linejoin="round"/>
<line x1="662.3" y1="148.7" x2="662.3" y2="162.3" stroke="#333" stroke-width="1"/>
<line x1="628.9" y1="162.3" x2="662.8" y2="162.3" stroke="#333" stroke-width="1"/>
<text x="664.1" y="157.9" font-size="6.8" fill="#000" stroke="#000" stroke-width="0.15">10 pA</text>
<text x="645.1" y="169.2" font-size="6.8" text-anchor="middle" fill="#000" stroke="#000" stroke-width="0.15">500 ms</text>
<text x="345.6" y="179.6" font-size="14.6" font-weight="bold" fill="#000">F</text>
<line x1="385.3" y1="184" x2="385.3" y2="267" stroke="#000" stroke-width="1"/>
<line x1="385.3" y1="267" x2="381.8" y2="267" stroke="#000" stroke-width="1"/>
<line x1="385.3" y1="246.25" x2="381.8" y2="246.25" stroke="#000" stroke-width="1"/>
<line x1="385.3" y1="225.5" x2="381.8" y2="225.5" stroke="#000" stroke-width="1"/>
<line x1="385.3" y1="204.75" x2="381.8" y2="204.75" stroke="#000" stroke-width="1"/>
<line x1="385.3" y1="184" x2="381.8" y2="184" stroke="#000" stroke-width="1"/>
<line x1="385.3" y1="256.62" x2="383.1" y2="256.62" stroke="#000" stroke-width="1"/>
<line x1="385.3" y1="235.88" x2="383.1" y2="235.88" stroke="#000" stroke-width="1"/>
<line x1="385.3" y1="215.12" x2="383.1" y2="215.12" stroke="#000" stroke-width="1"/>
<line x1="385.3" y1="194.38" x2="383.1" y2="194.38" stroke="#000" stroke-width="1"/>
<line x1="391.2" y1="267" x2="508.3" y2="267" stroke="#000" stroke-width="1"/>
<rect x="401.5" y="234.22" width="13.2" height="32.78" fill="#fff" stroke="#000" stroke-width="0.9"/>
<line x1="408.1" y1="234.22" x2="408.1" y2="232.14" stroke="#000" stroke-width="0.9"/>
<line x1="401.2" y1="232.14" x2="415" y2="232.14" stroke="#000" stroke-width="1"/>
<rect x="418.2" y="213.88" width="13.2" height="53.12" fill="#FF0000" stroke="#000" stroke-width="0.9"/>
<line x1="424.8" y1="213.88" x2="424.8" y2="208.07" stroke="#000" stroke-width="0.9"/>
<line x1="417.9" y1="208.07" x2="431.7" y2="208.07" stroke="#000" stroke-width="1"/>
<rect x="434.8" y="242.51" width="13.2" height="24.49" fill="#fff" stroke="#000" stroke-width="0.9"/>
<line x1="441.4" y1="242.51" x2="441.4" y2="239.61" stroke="#000" stroke-width="0.9"/>
<line x1="434.5" y1="239.61" x2="448.3" y2="239.61" stroke="#000" stroke-width="1"/>
<rect x="451.4" y="216.37" width="13.2" height="50.63" fill="#F97F3E" stroke="#000" stroke-width="0.9"/>
<line x1="458" y1="216.37" x2="458" y2="210.15" stroke="#000" stroke-width="0.9"/>
<line x1="451.1" y1="210.15" x2="464.9" y2="210.15" stroke="#000" stroke-width="1"/>
<rect x="468.3" y="238.78" width="13.2" height="28.22" fill="#fff" stroke="#000" stroke-width="0.9"/>
<line x1="474.9" y1="238.78" x2="474.9" y2="237.12" stroke="#000" stroke-width="0.9"/>
<line x1="468" y1="237.12" x2="481.8" y2="237.12" stroke="#000" stroke-width="1"/>
<rect x="484.8" y="229.24" width="13.2" height="37.76" fill="#0000FF" stroke="#000" stroke-width="0.9"/>
<line x1="491.4" y1="229.24" x2="491.4" y2="225.09" stroke="#000" stroke-width="0.9"/>
<line x1="484.5" y1="225.09" x2="498.3" y2="225.09" stroke="#000" stroke-width="1"/>
<text x="425" y="210.6" font-size="16.5" font-weight="bold" text-anchor="middle" fill="#000">*</text>
<text x="458" y="213.1" font-size="16.5" font-weight="bold" text-anchor="middle" fill="#000">*</text>
<text x="491.2" y="221.3" font-size="7.6" font-weight="bold" text-anchor="middle" fill="#000">NS</text>
<text x="378.3" y="269.8" font-size="7.9" font-weight="bold" text-anchor="end" fill="#000">0</text>
<text x="378.3" y="249.05" font-size="7.9" font-weight="bold" text-anchor="end" fill="#000">5</text>
<text x="378.3" y="228.3" font-size="7.9" font-weight="bold" text-anchor="end" fill="#000">10</text>
<text x="378.3" y="207.55" font-size="7.9" font-weight="bold" text-anchor="end" fill="#000">15</text>
<text x="378.3" y="186.8" font-size="7.9" font-weight="bold" text-anchor="end" fill="#000">20</text>
<text x="362.6" y="225.4" font-size="9.25" font-weight="bold" text-anchor="middle" fill="#000" transform="rotate(-90 362.6 225.4)">sEPSCs Fre. (Hz)</text>
<text x="409.3" y="276.8" font-size="7.8" font-weight="bold" text-anchor="end" fill="#000" transform="rotate(-28 409.3 276.8)">yohimbine</text>
<text x="426" y="276.8" font-size="7.8" font-weight="bold" text-anchor="end" fill="#000" transform="rotate(-28 426 276.8)">yohimbine + NA</text>
<text x="442.6" y="276.8" font-size="7.8" font-weight="bold" text-anchor="end" fill="#000" transform="rotate(-28 442.6 276.8)">prazosin</text>
<text x="459.2" y="276.8" font-size="7.8" font-weight="bold" text-anchor="end" fill="#000" transform="rotate(-28 459.2 276.8)">prazosin + NA</text>
<text x="476.1" y="276.8" font-size="7.8" font-weight="bold" text-anchor="end" fill="#000" transform="rotate(-28 476.1 276.8)">propranolol</text>
<text x="492.6" y="276.8" font-size="7.8" font-weight="bold" text-anchor="end" fill="#000" transform="rotate(-28 492.6 276.8)">propranolol + NA</text>
<line x1="551.5" y1="183.9" x2="551.5" y2="267.3" stroke="#000" stroke-width="1"/>
<line x1="551.5" y1="267.3" x2="548" y2="267.3" stroke="#000" stroke-width="1"/>
<line x1="551.5" y1="239.5" x2="548" y2="239.5" stroke="#000" stroke-width="1"/>
<line x1="551.5" y1="211.7" x2="548" y2="211.7" stroke="#000" stroke-width="1"/>
<line x1="551.5" y1="183.9" x2="548" y2="183.9" stroke="#000" stroke-width="1"/>
<line x1="551.5" y1="253.4" x2="549.3" y2="253.4" stroke="#000" stroke-width="1"/>
<line x1="551.5" y1="225.6" x2="549.3" y2="225.6" stroke="#000" stroke-width="1"/>
<line x1="551.5" y1="197.8" x2="549.3" y2="197.8" stroke="#000" stroke-width="1"/>
<line x1="558.1" y1="267.3" x2="674.7" y2="267.3" stroke="#000" stroke-width="1"/>
<rect x="568.4" y="223.93" width="13.2" height="43.37" fill="#fff" stroke="#000" stroke-width="0.9"/>
<line x1="575" y1="223.93" x2="575" y2="223.38" stroke="#000" stroke-width="0.9"/>
<line x1="568.1" y1="223.38" x2="581.9" y2="223.38" stroke="#000" stroke-width="1"/>
<rect x="585" y="228.1" width="13.2" height="39.2" fill="#FF0000" stroke="#000" stroke-width="0.9"/>
<line x1="591.6" y1="228.1" x2="591.6" y2="227.82" stroke="#000" stroke-width="0.9"/>
<line x1="584.7" y1="227.82" x2="598.5" y2="227.82" stroke="#000" stroke-width="1"/>
<rect x="601.4" y="224.21" width="13.2" height="43.09" fill="#fff" stroke="#000" stroke-width="0.9"/>
<line x1="608" y1="224.21" x2="608" y2="222.26" stroke="#000" stroke-width="0.9"/>
<line x1="601.1" y1="222.26" x2="614.9" y2="222.26" stroke="#000" stroke-width="1"/>
<rect x="618.1" y="226.16" width="13.2" height="41.14" fill="#F97F3E" stroke="#000" stroke-width="0.9"/>
<line x1="624.7" y1="226.16" x2="624.7" y2="224.77" stroke="#000" stroke-width="0.9"/>
<line x1="617.8" y1="224.77" x2="631.6" y2="224.77" stroke="#000" stroke-width="1"/>
<rect x="634.5" y="224.77" width="13.2" height="42.53" fill="#fff" stroke="#000" stroke-width="0.9"/>
<line x1="641.1" y1="224.77" x2="641.1" y2="224.21" stroke="#000" stroke-width="0.9"/>
<line x1="634.2" y1="224.21" x2="648" y2="224.21" stroke="#000" stroke-width="1"/>
<rect x="651.5" y="223.1" width="13.2" height="44.2" fill="#0000FF" stroke="#000" stroke-width="0.9"/>
<line x1="658.1" y1="223.1" x2="658.1" y2="221.71" stroke="#000" stroke-width="0.9"/>
<line x1="651.2" y1="221.71" x2="665" y2="221.71" stroke="#000" stroke-width="1"/>
<text x="617.5" y="212.9" font-size="7.6" font-weight="bold" text-anchor="middle" fill="#000">NS</text>
<text x="544.6" y="270.1" font-size="7.9" font-weight="bold" text-anchor="end" fill="#000">0</text>
<text x="544.6" y="242.3" font-size="7.9" font-weight="bold" text-anchor="end" fill="#000">5</text>
<text x="544.6" y="214.5" font-size="7.9" font-weight="bold" text-anchor="end" fill="#000">10</text>
<text x="544.6" y="186.7" font-size="7.9" font-weight="bold" text-anchor="end" fill="#000">15</text>
<text x="530.4" y="225.6" font-size="9.3" font-weight="bold" text-anchor="middle" fill="#000" transform="rotate(-90 530.4 225.6)">sEPSCs Amp. (pA)</text>
<text x="576.2" y="276.8" font-size="7.8" font-weight="bold" text-anchor="end" fill="#000" transform="rotate(-28 576.2 276.8)">yohimbine</text>
<text x="592.8" y="276.8" font-size="7.8" font-weight="bold" text-anchor="end" fill="#000" transform="rotate(-28 592.8 276.8)">yohimbine + NA</text>
<text x="609.2" y="276.8" font-size="7.8" font-weight="bold" text-anchor="end" fill="#000" transform="rotate(-28 609.2 276.8)">prazosin</text>
<text x="625.9" y="276.8" font-size="7.8" font-weight="bold" text-anchor="end" fill="#000" transform="rotate(-28 625.9 276.8)">prazosin + NA</text>
<text x="642.3" y="276.8" font-size="7.8" font-weight="bold" text-anchor="end" fill="#000" transform="rotate(-28 642.3 276.8)">propranolol</text>
<text x="659.3" y="276.8" font-size="7.8" font-weight="bold" text-anchor="end" fill="#000" transform="rotate(-28 659.3 276.8)">propranolol + NA</text>
<text x="345" y="330.5" font-size="14.6" font-weight="bold" fill="#000">G</text>
<text x="434.6" y="332.9" font-size="9.3" font-weight="bold" text-anchor="middle" fill="#000">Baseline</text>
<text x="606.7" y="332.9" font-size="9.3" font-weight="bold" text-anchor="middle" fill="#000">NA (10 &#956;M) after 15 min</text>
<path d="M367.6 356.22 L368.2 356.1 L368.8 355.9 L369.4 355.94 L370 356.48 L370.6 356.72 L371.2 357.4 L371.8 356.78 L372.4 357.01 L373 357.12 L373.6 356.98 L374.2 357.04 L374.8 356.99 L375.4 357.14 L376 357.22 L376.6 357.15 L377.2 357.16 L377.8 357.76 L378.4 357.55 L379 357.11 L379.6 357.26 L380.2 357.6 L380.8 357.71 L381.4 357.63 L382 357.48 L382.6 357.76 L383.2 357.65 L383.8 357.89 L384.4 357.96 L385 357.65 L385.6 357.39 L386.2 357.03 L386.8 357.19 L387.4 356.89 L388 356.66 L388.6 356.79 L389.2 356.86 L389.8 357.64 L390.4 357.36 L391 357.18 L391.6 357.06 L392.2 357.5 L392.8 357.36 L393.4 356.91 L394 356.39 L394.6 356.73 L395.2 357.08 L395.8 357.61 L396.4 357.47 L397 357.3 L397.6 357.03 L398.2 357.69 L398.8 357.62 L399.4 357.52 L400 357.66 L400.6 357.49 L401.2 357.63 L401.8 357.71 L402.4 357.64 L403 357.63 L403.6 357.54 L404.2 357.82 L404.8 357.42 L405.4 357.59 L406 357.43 L406.6 357.8 L407.2 357.43 L407.8 357.29 L408.4 357.3 L409 357.32 L409.6 357.09 L410.2 356.78 L410.8 356.94 L411.4 357.35 L412 357.38 L412.6 357.21 L413.2 357.14 L413.8 357.71 L414.4 358.35 L415 357.86 L415.6 357.43 L416.2 357.34 L416.8 357.6 L417.4 357.52 L418 357.87 L418.6 357.82 L419.2 357.78 L419.8 357.8 L420.4 357.96 L421 358.09 L421.6 357.66 L422.2 357.91 L422.8 357.86 L423.4 357.33 L424 357.35 L424.6 357.45 L425.2 357.53 L425.8 357.75 L426.4 357.98 L427 358.06 L427.6 358.37 L428.2 358.31 L428.8 358.28 L429.4 358.38 L430 358.3 L430.6 358.1 L431.2 357.93 L431.8 357.9 L432.4 358.09 L433 358.73 L433.6 358.61 L434.2 358.49 L434.8 358.54 L435.4 358.31 L436 358.66 L436.6 358.3 L437.2 358.29 L437.8 357.94 L438.4 358.77 L439 359.15 L439.6 359 L440.2 358.71 L440.8 358.69 L441.4 358.27 L442 357.68 L442.6 358.44 L443.2 358.59 L443.8 358.65 L444.4 358.44 L445 358.17 L445.6 358.33 L446.2 358.17 L446.8 357.59 L447.4 357.78 L448 358.14 L448.6 358.23 L449.2 358.53 L449.8 358.67 L450.4 359.25 L451 359.14 L451.6 358.93 L452.2 358.27 L452.8 357.76 L453.4 357.3 L454 357.38 L454.6 357.49 L455.2 357.32 L455.8 357.9 L456.4 358.23 L457 358.38 L457.6 358.34 L458.2 358.32 L458.8 358.55 L459.4 358.27 L460 358.03 L460.6 357.86 L461.2 357.92 L461.8 357.85 L462.4 358.01 L463 358.24 L463.6 358.11 L464.2 358.12 L464.8 358.25 L465.4 358.5 L466 358.32 L466.6 357.91 L467.2 357.97 L467.8 358.24 L468.4 358.3 L469 357.98 L469.6 357.53 L470.2 357.97 L470.8 358 L471.4 358.21 L472 358.01 L472.6 358.22 L473.2 358.53 L473.8 358.39 L474.4 358.59 L475 358.44 L475.6 358.24 L476.2 357.91 L476.8 357.9 L477.4 358.2 L478 358.34 L478.6 358.43 L479.2 358.47 L479.8 358.01 L480.4 358.24 L481 358.21 L481.6 358.41 L482.2 358.33 L482.8 357.9 L483.4 358.29 L484 358.29 L484.6 358.77 L485.2 358.62 L485.8 358.43 L486.4 358.19 L487 358.22 L487.6 357.79 L488.2 358.18 L488.8 358.48 L489.4 358.43 L490 358.65 L490.6 358.36 L491.2 358.42 L491.8 358.32 L492.4 358.49 L493 358.42 L493.6 358.43 L494.2 358.78 L494.8 358.58 L495.4 358.57 L496 358.78 L496.6 358.28 L497.2 358.27 L497.8 358.14 L498.4 358.25 L499 358.01 L499.6 358.22 L500.2 358.32" stroke="#000" stroke-width="1.5" fill="none" stroke-linejoin="round" stroke-linecap="round"/>
<path d="M367.6 356.98 L367.8 356.72 L368 358.35 L368.2 355.95 L368.4 355.35 L368.6 355.6 L368.8 354.96 L369 356.39 L369.2 356.36 L369.4 356.64 L369.6 356.19 L369.8 355.9 L370 357.47 L370.2 357.26 L370.4 357.53 L370.6 355.85 L370.8 356.22 L371 356.68 L371.2 357.12 L371.4 355.51 L371.6 357.96 L371.8 356.64 L372 357.42 L372.2 357.54 L372.4 358.15 L372.6 357.31 L372.8 357.23 L373 356.59 L373.2 357.16 L373.4 358.28 L373.6 355.69 L373.8 356.56 L374 357.11 L374.2 358.29 L374.4 356.15 L374.6 356.63 L374.8 357.15 L375 359.56 L375.2 356.61 L375.4 357.07 L375.6 357.9 L375.8 356.67 L376 357.56 L376.2 357.41 L376.4 356.93 L376.6 357.48 L376.8 358.39 L377 357.23 L377.2 356.91 L377.4 357 L377.6 357.65 L377.8 358.6 L378 357.76 L378.2 357.81 L378.4 359.6 L378.6 357.12 L378.8 356.61 L379 357.39 L379.2 357.21 L379.4 357.6 L379.6 358.26 L379.8 357.81 L380 357.56 L380.2 358.06 L380.4 358.15 L380.6 357.79 L380.8 357.35 L381 358.29 L381.2 357.57 L381.4 356.85 L381.6 358.07 L381.8 357.15 L382 357.14 L382.2 358.08 L382.4 357.23 L382.6 357.7 L382.8 357.16 L383 356.68 L383.2 357.93 L383.4 359.04 L383.6 357.29 L383.8 358.82 L384 358.54 L384.2 358.98 L384.4 357.22 L384.6 357.55 L384.8 359.33 L385 357.68 L385.2 357.7 L385.4 358.09 L385.6 357.91 L385.8 357.05 L386 357.2 L386.2 357.58 L386.4 357.31 L386.6 356.73 L386.8 358.22 L387 357.69 L387.2 356.86 L387.4 356.55 L387.6 357.77 L387.8 355.3 L388 356.82 L388.2 356.16 L388.4 356.02 L388.6 337.03 L388.8 344.22 L389 351.07 L389.2 351.38 L389.4 354.01 L389.6 354.31 L389.8 357.06 L390 356.35 L390.2 357.35 L390.4 358.05 L390.6 357.93 L390.8 357.59 L391 358.13 L391.2 356.78 L391.4 356.36 L391.6 355.99 L391.8 357.56 L392 353.33 L392.2 353.21 L392.4 354.66 L392.6 354.96 L392.8 356.06 L393 354.79 L393.2 356.94 L393.4 357.07 L393.6 355.86 L393.8 355.51 L394 355.51 L394.2 356.66 L394.4 357.46 L394.6 355.94 L394.8 355.65 L395 357.08 L395.2 357.31 L395.4 357.75 L395.6 356.85 L395.8 358.21 L396 358.71 L396.2 356.42 L396.4 357.32 L396.6 357.84 L396.8 357.81 L397 356.95 L397.2 355.82 L397.4 356.62 L397.6 356.03 L397.8 356.93 L398 358.21 L398.2 357.28 L398.4 357.74 L398.6 356.64 L398.8 358.38 L399 357.33 L399.2 356.94 L399.4 358.98 L399.6 357.82 L399.8 358 L400 356.23 L400.2 358.77 L400.4 358.94 L400.6 357.44 L400.8 357.42 L401 357.23 L401.2 358.49 L401.4 356.46 L401.6 357.87 L401.8 359.26 L402 357.96 L402.2 359.35 L402.4 357.71 L402.6 357.4 L402.8 358.41 L403 357.62 L403.2 357.77 L403.4 357.44 L403.6 356.69 L403.8 357.38 L404 358.21 L404.2 358.68 L404.4 357.76 L404.6 357.91 L404.8 356.77 L405 357.19 L405.2 357.41 L405.4 357.54 L405.6 357.6 L405.8 357.68 L406 358.4 L406.2 358.28 L406.4 358.27 L406.6 356.95 L406.8 357.11 L407 357.59 L407.2 357.56 L407.4 357.96 L407.6 355.98 L407.8 357.48 L408 357.53 L408.2 357.13 L408.4 356.77 L408.6 357.61 L408.8 357.43 L409 357.73 L409.2 355.95 L409.4 356.68 L409.6 358.29 L409.8 357.12 L410 336.85 L410.2 341.42 L410.4 344.12 L410.6 348.98 L410.8 350.9 L411 352.13 L411.2 353.69 L411.4 354.37 L411.6 355.8 L411.8 355.94 L412 356.9 L412.2 356.21 L412.4 356.53 L412.6 356.1 L412.8 356.26 L413 355.69 L413.2 357.85 L413.4 358.16 L413.6 358.13 L413.8 358.36 L414 357.95 L414.2 358.64 L414.4 357.34 L414.6 358.14 L414.8 356.89 L415 357.4 L415.2 357.32 L415.4 357.37 L415.6 356.7 L415.8 358.23 L416 358.12 L416.2 357.01 L416.4 356.52 L416.6 357.21 L416.8 358.36 L417 356.12 L417.2 358.23 L417.4 357.49 L417.6 357.27 L417.8 358.55 L418 357.96 L418.2 357.58 L418.4 358.74 L418.6 356.71 L418.8 359.07 L419 357.38 L419.2 357.23 L419.4 358.85 L419.6 360.05 L419.8 358.79 L420 357.53 L420.2 356.45 L420.4 358.21 L420.6 357.82 L420.8 357.61 L421 358.06 L421.2 357.58 L421.4 358.49 L421.6 357.67 L421.8 357.83 L422 356.28 L422.2 358.17 L422.4 356.81 L422.6 358.39 L422.8 357.9 L423 356.38 L423.2 357.53 L423.4 356.51 L423.6 357.91 L423.8 358.01 L424 358.2 L424.2 356.76 L424.4 357.77 L424.6 356.5 L424.8 357.6 L425 357.6 L425.2 357.76 L425.4 357.62 L425.6 358.57 L425.8 357.55 L426 357.57 L426.2 358.76 L426.4 357.99 L426.6 357.56 L426.8 357.45 L427 358.13 L427.2 358.26 L427.4 361.89 L427.6 359.65 L427.8 359.54 L428 358.42 L428.2 359.68 L428.4 358.47 L428.6 342.82 L428.8 346.17 L429 347.6 L429.2 351.53 L429.4 352.24 L429.6 354.41 L429.8 353.14 L430 354.19 L430.2 354.58 L430.4 355.23 L430.6 356.55 L430.8 359.6 L431 357.67 L431.2 357.76 L431.4 357.31 L431.6 358.04 L431.8 358.26 L432 357.94 L432.2 358.47 L432.4 359.27 L432.6 358.85 L432.8 357.47 L433 358.55 L433.2 358.44 L433.4 359.24 L433.6 358.98 L433.8 359.18 L434 357.46 L434.2 359.54 L434.4 358.24 L434.6 359.1 L434.8 358.92 L435 357.87 L435.2 357.8 L435.4 358.78 L435.6 359.11 L435.8 357.68 L436 357.84 L436.2 357.04 L436.4 357.7 L436.6 357.76 L436.8 358.04 L437 358.71 L437.2 357.93 L437.4 357.18 L437.6 357.51 L437.8 357.88 L438 358.38 L438.2 358.64 L438.4 358.64 L438.6 359.52 L438.8 358.78 L439 358.38 L439.2 358.97 L439.4 360.44 L439.6 358.4 L439.8 360.55 L440 358.46 L440.2 359.24 L440.4 357.62 L440.6 358.76 L440.8 359.76 L441 357.46 L441.2 357.65 L441.4 358.5 L441.6 358.34 L441.8 356.69 L442 356.75 L442.2 358.06 L442.4 358.27 L442.6 358.98 L442.8 358.29 L443 358.93 L443.2 359.49 L443.4 357.92 L443.6 359.58 L443.8 359.21 L444 359.39 L444.2 358.05 L444.4 358.42 L444.6 358.34 L444.8 357.74 L445 358.92 L445.2 358.37 L445.4 357.53 L445.6 358.53 L445.8 357.45 L446 357 L446.2 363.41 L446.4 360.67 L446.6 358.92 L446.8 358.06 L447 358.32 L447.2 359.17 L447.4 357 L447.6 358.19 L447.8 358.15 L448 357.27 L448.2 358.14 L448.4 358.87 L448.6 358.26 L448.8 357.81 L449 359.05 L449.2 358.71 L449.4 358.98 L449.6 359.81 L449.8 357.75 L450 359.44 L450.2 359.59 L450.4 358.62 L450.6 359.26 L450.8 358.99 L451 358.29 L451.2 359.91 L451.4 358.54 L451.6 357.45 L451.8 359.33 L452 358.3 L452.2 358.55 L452.4 358.34 L452.6 357.94 L452.8 357.48 L453 355.65 L453.2 356.94 L453.4 356.47 L453.6 357.55 L453.8 356.86 L454 356.9 L454.2 357.46 L454.4 356.58 L454.6 356.97 L454.8 355.81 L455 356.38 L455.2 355.26 L455.4 357.18 L455.6 356.84 L455.8 356.98 L456 357.85 L456.2 358.45 L456.4 358.76 L456.6 357.56 L456.8 359.42 L457 358.24 L457.2 359.09 L457.4 357.42 L457.6 358.12 L457.8 358.27 L458 357.4 L458.2 357.94 L458.4 358.92 L458.6 359.34 L458.8 359 L459 358.56 L459.2 357.99 L459.4 359.75 L459.6 357.07 L459.8 357.24 L460 357.46 L460.2 358.11 L460.4 357.38 L460.6 358.41 L460.8 356.64 L461 358.7 L461.2 359.2 L461.4 358.28 L461.6 357.67 L461.8 357.4 L462 358.9 L462.2 356.73 L462.4 357.42 L462.6 356.63 L462.8 357.93 L463 359.57 L463.2 357.9 L463.4 359 L463.6 357.31 L463.8 357.69 L464 357.78 L464.2 358.88 L464.4 357.57 L464.6 357.8 L464.8 358.24 L465 359.52 L465.2 358.5 L465.4 359.78 L465.6 358.77 L465.8 358.09 L466 359.15 L466.2 357.88 L466.4 357.52 L466.6 357.98 L466.8 356.86 L467 357.23 L467.2 357.37 L467.4 358.16 L467.6 358.84 L467.8 359.06 L468 358.25 L468.2 358.67 L468.4 358.06 L468.6 356.94 L468.8 358.24 L469 357.43 L469.2 358.57 L469.4 357.3 L469.6 356.79 L469.8 355.82 L470 355.47 L470.2 355.66 L470.4 357.73 L470.6 357.51 L470.8 357.48 L471 357.46 L471.2 357.25 L471.4 355.76 L471.6 357.37 L471.8 357.38 L472 358.08 L472.2 356.88 L472.4 358.24 L472.6 358.11 L472.8 358.98 L473 357.37 L473.2 358.46 L473.4 358.58 L473.6 358.88 L473.8 359.29 L474 358.72 L474.2 357.33 L474.4 359.77 L474.6 357.24 L474.8 358.93 L475 359.38 L475.2 357.75 L475.4 358.05 L475.6 358.17 L475.8 357.46 L476 358.37 L476.2 357.2 L476.4 357.92 L476.6 358.11 L476.8 358.69 L477 359.1 L477.2 358.49 L477.4 358.56 L477.6 358 L477.8 358.17 L478 358.99 L478.2 359.27 L478.4 358.9 L478.6 358.42 L478.8 358.92 L479 357.48 L479.2 358.09 L479.4 358.67 L479.6 359.26 L479.8 357.11 L480 357.06 L480.2 357.23 L480.4 358.77 L480.6 358.89 L480.8 359.41 L481 359.87 L481.2 357.67 L481.4 358.23 L481.6 358.01 L481.8 357.43 L482 358.46 L482.2 357.93 L482.4 358.42 L482.6 357.88 L482.8 356.85 L483 358.47 L483.2 358.71 L483.4 357.98 L483.6 356.66 L483.8 356.65 L484 357.28 L484.2 358.87 L484.4 359.11 L484.6 358.82 L484.8 358.67 L485 356.83 L485.2 358.88 L485.4 357.84 L485.6 358.39 L485.8 357.72 L486 357.05 L486.2 359.02 L486.4 358.45 L486.6 357.53 L486.8 357.2 L487 357.75 L487.2 358.52 L487.4 358.16 L487.6 357.81 L487.8 358.68 L488 358.7 L488.2 357.47 L488.4 358.4 L488.6 358.12 L488.8 357.87 L489 359.51 L489.2 359.09 L489.4 357.36 L489.6 341.81 L489.8 346.44 L490 349.65 L490.2 351.96 L490.4 353.2 L490.6 354.07 L490.8 355.99 L491 357.06 L491.2 356.98 L491.4 357.57 L491.6 357.46 L491.8 357.61 L492 358.36 L492.2 358.51 L492.4 359.35 L492.6 357.84 L492.8 358.46 L493 358.23 L493.2 358.71 L493.4 359.54 L493.6 358.69 L493.8 358.1 L494 358.12 L494.2 358.34 L494.4 358.45 L494.6 358.34 L494.8 358.21 L495 358.52 L495.2 359.06 L495.4 357.94 L495.6 358.92 L495.8 358.62 L496 359.37 L496.2 358.64 L496.4 358.77 L496.6 358.46 L496.8 359.08 L497 358.33 L497.2 357.18 L497.4 358.48 L497.6 357.32 L497.8 356.52 L498 358.62 L498.2 358.22 L498.4 358.37 L498.6 358.33 L498.8 358 L499 358.75 L499.2 358.24 L499.4 358.15 L499.6 358.22 L499.8 356.82 L500 358.57 L500.2 357.23 L500.4 358.56 L500.6 358.43" stroke="#000" stroke-width="0.7" fill="none" stroke-linejoin="round"/>
<path d="M539.2 356.53 L539.8 356.7 L540.4 357.24 L541 357.96 L541.6 358.33 L542.2 358.13 L542.8 357.6 L543.4 357.76 L544 358.53 L544.6 358.76 L545.2 359.38 L545.8 359.25 L546.4 359.25 L547 359.39 L547.6 360.13 L548.2 360.88 L548.8 361.2 L549.4 360.79 L550 360.13 L550.6 359.94 L551.2 360.18 L551.8 360.51 L552.4 360.83 L553 361.46 L553.6 361.8 L554.2 361.16 L554.8 360.65 L555.4 360.02 L556 359.5 L556.6 359.43 L557.2 359.78 L557.8 360.06 L558.4 360 L559 359.86 L559.6 359.84 L560.2 360.21 L560.8 360.52 L561.4 360.37 L562 360.06 L562.6 359.18 L563.2 359 L563.8 359.13 L564.4 359.39 L565 359.1 L565.6 359.16 L566.2 359.74 L566.8 359.86 L567.4 360.19 L568 360.04 L568.6 359.83 L569.2 359.94 L569.8 359.66 L570.4 359.52 L571 359.39 L571.6 359.05 L572.2 359.18 L572.8 359.71 L573.4 359.49 L574 359.3 L574.6 359.01 L575.2 358.85 L575.8 359.02 L576.4 359.1 L577 359.15 L577.6 358.61 L578.2 358.74 L578.8 358.86 L579.4 359.01 L580 358.89 L580.6 358.9 L581.2 358.92 L581.8 358.55 L582.4 358.64 L583 358.69 L583.6 359.12 L584.2 359.13 L584.8 358.92 L585.4 358.83 L586 358.72 L586.6 359.27 L587.2 359.1 L587.8 359.3 L588.4 358.97 L589 358.73 L589.6 358.77 L590.2 358.72 L590.8 359.01 L591.4 359.17 L592 359.38 L592.6 359.59 L593.2 359.41 L593.8 359.61 L594.4 359.48 L595 359.45 L595.6 358.96 L596.2 359.39 L596.8 359.66 L597.4 359.61 L598 359.23 L598.6 359.08 L599.2 358.79 L599.8 358.76 L600.4 359.21 L601 359.55 L601.6 359.76 L602.2 359.63 L602.8 359.68 L603.4 359.87 L604 360.04 L604.6 360.39 L605.2 360.43 L605.8 360.26 L606.4 359.84 L607 359.81 L607.6 360.29 L608.2 360.81 L608.8 360.72 L609.4 360.34 L610 360.12 L610.6 360.53 L611.2 360.27 L611.8 360.15 L612.4 359.99 L613 360.01 L613.6 359.95 L614.2 359.67 L614.8 359.6 L615.4 360.11 L616 360.42 L616.6 360.69 L617.2 360.59 L617.8 360.08 L618.4 360.3 L619 359.9 L619.6 360.21 L620.2 359.71 L620.8 359.86 L621.4 359.84 L622 360.01 L622.6 360.27 L623.2 360.52 L623.8 360.72 L624.4 360.5 L625 360.05 L625.6 359.8 L626.2 360.27 L626.8 359.87 L627.4 360.24 L628 359.98 L628.6 359.7 L629.2 359.08 L629.8 359.05 L630.4 359.01 L631 359.2 L631.6 359.53 L632.2 360.11 L632.8 359.99 L633.4 360.18 L634 360.51 L634.6 359.99 L635.2 359.74 L635.8 359.68 L636.4 359.99 L637 359.78 L637.6 359.81 L638.2 359.77 L638.8 359.47 L639.4 359.69 L640 359.9 L640.6 359.94 L641.2 359.34 L641.8 359.61 L642.4 359.64 L643 360.33 L643.6 360.24 L644.2 360.25 L644.8 360.29 L645.4 360.5 L646 359.87 L646.6 359.35 L647.2 359.1 L647.8 359.56 L648.4 359.88 L649 360.03 L649.6 359.88 L650.2 359.26 L650.8 359.91 L651.4 360.45 L652 360.81 L652.6 360.92 L653.2 360.8 L653.8 360.5 L654.4 360.06 L655 360.21 L655.6 359.96 L656.2 360.07 L656.8 359.93 L657.4 360.02 L658 359.78 L658.6 359.57 L659.2 359.94 L659.8 360.36 L660.4 360.6 L661 360.56 L661.6 360.63 L662.2 360.5 L662.8 360.39 L663.4 360.54 L664 360.58 L664.6 360.39 L665.2 360.9 L665.8 360.57 L666.4 360.88 L667 360.64 L667.6 360.33 L668.2 360.12 L668.8 360.67 L669.4 360.91 L670 360.84 L670.6 360.22 L671.2 360.25 L671.8 360.77 L672.4 361.3 L673 361.18" stroke="#000" stroke-width="1.5" fill="none" stroke-linejoin="round" stroke-linecap="round"/>
<path d="M539.2 357.48 L539.4 355.08 L539.6 355.97 L539.8 355.81 L540 356.65 L540.2 357.25 L540.4 358.94 L540.6 357.43 L540.8 358.48 L541 358.03 L541.2 358.3 L541.4 359.78 L541.6 357.48 L541.8 358.82 L542 359.81 L542.2 360.68 L542.4 357.59 L542.6 357.09 L542.8 356.64 L543 357.24 L543.2 357.65 L543.4 357.75 L543.6 358.77 L543.8 358.15 L544 358.75 L544.2 357.19 L544.4 358.05 L544.6 358.62 L544.8 356.96 L545 359.12 L545.2 360.02 L545.4 358.93 L545.6 359.24 L545.8 359.22 L546 358.36 L546.2 359.06 L546.4 358.8 L546.6 359.25 L546.8 359.16 L547 359.46 L547.2 358.42 L547.4 359.64 L547.6 361.42 L547.8 361.06 L548 360.4 L548.2 360.3 L548.4 361.69 L548.6 361.2 L548.8 359.83 L549 360.77 L549.2 362.3 L549.4 359.48 L549.6 360.58 L549.8 359.82 L550 360.04 L550.2 359.54 L550.4 359.37 L550.6 357.95 L550.8 359.61 L551 360.11 L551.2 360.02 L551.4 359.21 L551.6 359.8 L551.8 362.12 L552 359.39 L552.2 360.2 L552.4 359.82 L552.6 360.65 L552.8 361.33 L553 362.31 L553.2 361.79 L553.4 361.81 L553.6 362.01 L553.8 362.09 L554 361.36 L554.2 361.09 L554.4 361.81 L554.6 360.22 L554.8 360.53 L555 359.65 L555.2 359.55 L555.4 361.08 L555.6 341.78 L555.8 348.73 L556 353.84 L556.2 355.07 L556.4 356.24 L556.6 356.89 L556.8 356.71 L557 358.18 L557.2 358.52 L557.4 360.41 L557.6 360.4 L557.8 358.89 L558 360.44 L558.2 359.62 L558.4 361.28 L558.6 361 L558.8 360.31 L559 359.5 L559.2 361.1 L559.4 360.52 L559.6 360.68 L559.8 360.25 L560 359.8 L560.2 360.79 L560.4 359.62 L560.6 360.92 L560.8 360.66 L561 359.36 L561.2 360.86 L561.4 360.33 L561.6 360.06 L561.8 360.02 L562 360.64 L562.2 358.89 L562.4 358.49 L562.6 359.71 L562.8 359.17 L563 357.67 L563.2 359.07 L563.4 357.72 L563.6 359.39 L563.8 359.32 L564 359.62 L564.2 358.04 L564.4 358.76 L564.6 359.92 L564.8 358.04 L565 359.43 L565.2 359.14 L565.4 359.28 L565.6 358.48 L565.8 359.75 L566 359.7 L566.2 360.33 L566.4 361.5 L566.6 359.71 L566.8 359.87 L567 359.27 L567.2 361.55 L567.4 359.88 L567.6 360.6 L567.8 358.98 L568 359.82 L568.2 360.53 L568.4 360.4 L568.6 359.6 L568.8 360.67 L569 360.03 L569.2 360.73 L569.4 359.8 L569.6 360.26 L569.8 359.31 L570 360.75 L570.2 359.85 L570.4 359.57 L570.6 359.19 L570.8 360.15 L571 359.53 L571.2 359.23 L571.4 360.16 L571.6 358.49 L571.8 359.92 L572 360.17 L572.2 357.9 L572.4 360.29 L572.6 360 L572.8 359.87 L573 360.12 L573.2 358.82 L573.4 359.87 L573.6 359.84 L573.8 358.48 L574 359.16 L574.2 358.31 L574.4 359.2 L574.6 358.33 L574.8 359 L575 357.74 L575.2 358.43 L575.4 358.37 L575.6 358.58 L575.8 359.85 L576 360.63 L576.2 358 L576.4 359.71 L576.6 358.97 L576.8 358.92 L577 358.91 L577.2 358.82 L577.4 358.44 L577.6 359.22 L577.8 359.35 L578 358.9 L578.2 358.77 L578.4 359.02 L578.6 358.91 L578.8 360.22 L579 358.33 L579.2 357.83 L579.4 358.81 L579.6 359.08 L579.8 358.61 L580 359.03 L580.2 356.97 L580.4 358.33 L580.6 358.36 L580.8 357.9 L581 358.34 L581.2 358.69 L581.4 359.06 L581.6 357.95 L581.8 357.24 L582 358.54 L582.2 359.65 L582.4 358.67 L582.6 358.63 L582.8 357.78 L583 358.76 L583.2 359.78 L583.4 357.26 L583.6 359.78 L583.8 357.57 L584 360 L584.2 359.66 L584.4 358.71 L584.6 359.08 L584.8 360.08 L585 357.95 L585.2 359.54 L585.4 359.21 L585.6 339.67 L585.8 344 L586 344.72 L586.2 348.19 L586.4 349.66 L586.6 352.2 L586.8 353.81 L587 353.29 L587.2 355.43 L587.4 350.22 L587.6 350.64 L587.8 352.18 L588 353.53 L588.2 353.71 L588.4 355.34 L588.6 353.84 L588.8 354.08 L589 356.24 L589.2 354.76 L589.4 356.77 L589.6 356.37 L589.8 357.17 L590 356.63 L590.2 357.78 L590.4 358.41 L590.6 358.59 L590.8 358.14 L591 356.98 L591.2 358.96 L591.4 358.35 L591.6 359.24 L591.8 357.51 L592 359.06 L592.2 358.48 L592.4 359.13 L592.6 359.76 L592.8 359.43 L593 359.8 L593.2 359.41 L593.4 359.38 L593.6 359.47 L593.8 358.52 L594 360.08 L594.2 358.76 L594.4 358.92 L594.6 359.78 L594.8 358.93 L595 358.98 L595.2 356.9 L595.4 358.14 L595.6 358.03 L595.8 358.42 L596 359.49 L596.2 359.09 L596.4 359.24 L596.6 359.36 L596.8 360.34 L597 360.2 L597.2 359.73 L597.4 359.38 L597.6 360.02 L597.8 359.04 L598 359.06 L598.2 359.43 L598.4 358.69 L598.6 358.26 L598.8 358.01 L599 358.62 L599.2 358.93 L599.4 359.05 L599.6 357.95 L599.8 358.92 L600 358.85 L600.2 358.62 L600.4 361.06 L600.6 358.74 L600.8 358.85 L601 359.68 L601.2 360.78 L601.4 359.38 L601.6 360.78 L601.8 359.01 L602 359.3 L602.2 359.54 L602.4 359.54 L602.6 360.01 L602.8 359.67 L603 359.67 L603.2 359.07 L603.4 360.31 L603.6 360.18 L603.8 358.3 L604 359.35 L604.2 359.03 L604.4 359.46 L604.6 360.63 L604.8 359.5 L605 358.81 L605.2 359.64 L605.4 359.33 L605.6 359.96 L605.8 359.94 L606 359.89 L606.2 360.06 L606.4 360.26 L606.6 360.25 L606.8 359.8 L607 359.63 L607.2 359.62 L607.4 360.24 L607.6 360.17 L607.8 359.72 L608 360.52 L608.2 361.38 L608.4 361.12 L608.6 360.22 L608.8 360.97 L609 360.71 L609.2 359.67 L609.4 361.61 L609.6 361.14 L609.8 359.88 L610 361.01 L610.2 360.41 L610.4 360.89 L610.6 360.01 L610.8 360.04 L611 360.21 L611.2 360.31 L611.4 360.04 L611.6 358.91 L611.8 359.47 L612 360.22 L612.2 359.92 L612.4 361.26 L612.6 360.96 L612.8 359.68 L613 360.24 L613.2 358.75 L613.4 360.34 L613.6 360.81 L613.8 359.27 L614 359.41 L614.2 359.35 L614.4 360.22 L614.6 360.39 L614.8 358.99 L615 359.58 L615.2 360.35 L615.4 360.34 L615.6 359.87 L615.8 360.62 L616 359.87 L616.2 359.49 L616.4 361.15 L616.6 361.29 L616.8 361.42 L617 360.25 L617.2 360.09 L617.4 360.65 L617.6 360.2 L617.8 358.21 L618 358.3 L618.2 359.63 L618.4 359.51 L618.6 360.31 L618.8 358.84 L619 358.68 L619.2 360.29 L619.4 358.78 L619.6 359.16 L619.8 358.83 L620 358.21 L620.2 359.93 L620.4 361 L620.6 360.23 L620.8 360.42 L621 359.72 L621.2 359.1 L621.4 360.24 L621.6 359.03 L621.8 358.78 L622 359.44 L622.2 360.76 L622.4 360.4 L622.6 360.13 L622.8 359.34 L623 359.68 L623.2 360.79 L623.4 360.48 L623.6 344.88 L623.8 350.81 L624 352.49 L624.2 353.83 L624.4 356.39 L624.6 358.18 L624.8 358.56 L625 359.27 L625.2 358.54 L625.4 359.51 L625.6 359.37 L625.8 359.34 L626 359.06 L626.2 360.95 L626.4 360.18 L626.6 359.67 L626.8 360.33 L627 361.83 L627.2 359.24 L627.4 360.4 L627.6 361.44 L627.8 361.36 L628 359.24 L628.2 359.63 L628.4 358.62 L628.6 359.65 L628.8 358.28 L629 358.39 L629.2 360.03 L629.4 358.29 L629.6 357.82 L629.8 359.02 L630 358.96 L630.2 359.12 L630.4 359.82 L630.6 358.58 L630.8 358.9 L631 359.65 L631.2 359.05 L631.4 360.4 L631.6 360.24 L631.8 359.74 L632 359.85 L632.2 360.17 L632.4 360.26 L632.6 358.46 L632.8 359.08 L633 359.61 L633.2 359.68 L633.4 359.73 L633.6 359.77 L633.8 360.19 L634 360.26 L634.2 360.55 L634.4 360.35 L634.6 359.93 L634.8 359.54 L635 359.23 L635.2 360.26 L635.4 359.6 L635.6 359.86 L635.8 360.2 L636 359.97 L636.2 358.69 L636.4 359.38 L636.6 361.4 L636.8 358.83 L637 360.58 L637.2 359.12 L637.4 360.19 L637.6 360.46 L637.8 358.99 L638 360.34 L638.2 358.05 L638.4 359.4 L638.6 359.07 L638.8 359.63 L639 359.83 L639.2 360.4 L639.4 360.36 L639.6 359.57 L639.8 356.23 L640 357.6 L640.2 357.46 L640.4 356.78 L640.6 356.86 L640.8 358.38 L641 358.5 L641.2 358.47 L641.4 358.67 L641.6 357.7 L641.8 359.22 L642 358.21 L642.2 359.46 L642.4 359.21 L642.6 360.56 L642.8 360.12 L643 359.63 L643.2 359.89 L643.4 359.98 L643.6 360.39 L643.8 360.46 L644 359.36 L644.2 359.3 L644.4 360.62 L644.6 360.01 L644.8 360.88 L645 360.47 L645.2 361.41 L645.4 360.81 L645.6 359.36 L645.8 359.66 L646 360.13 L646.2 358.68 L646.4 359.22 L646.6 359.71 L646.8 360.01 L647 359.65 L647.2 357.91 L647.4 360.03 L647.6 358.36 L647.8 359.51 L648 358.97 L648.2 360.24 L648.4 359.74 L648.6 360.36 L648.8 360.27 L649 359.91 L649.2 359.72 L649.4 361.01 L649.6 360.24 L649.8 357.95 L650 356.37 L650.2 356.1 L650.4 359.35 L650.6 359.14 L650.8 357.66 L651 359.53 L651.2 359.75 L651.4 359.17 L651.6 359.71 L651.8 361.76 L652 359.94 L652.2 360.97 L652.4 360.14 L652.6 359.59 L652.8 362.37 L653 361.31 L653.2 360.29 L653.4 360.22 L653.6 360.37 L653.8 359.62 L654 360.49 L654.2 360.4 L654.4 359.64 L654.6 359.82 L654.8 359.07 L655 360.27 L655.2 358.59 L655.4 359.72 L655.6 360.88 L655.8 359.84 L656 361.87 L656.2 359.18 L656.4 359.66 L656.6 359.65 L656.8 360.48 L657 360.72 L657.2 360.06 L657.4 358.84 L657.6 360.81 L657.8 359.95 L658 360.26 L658.2 358.43 L658.4 359.91 L658.6 349.35 L658.8 353.13 L659 355.75 L659.2 355.55 L659.4 357.38 L659.6 358.21 L659.8 358.35 L660 359.7 L660.2 360.19 L660.4 359.36 L660.6 359.48 L660.8 360.32 L661 359.01 L661.2 360.65 L661.4 361.28 L661.6 361.06 L661.8 359.69 L662 361.46 L662.2 361.84 L662.4 359.7 L662.6 361.63 L662.8 361.22 L663 360.83 L663.2 359.93 L663.4 361.2 L663.6 359.74 L663.8 360.54 L664 361.12 L664.2 360.91 L664.4 360.23 L664.6 360.65 L664.8 360.32 L665 360.8 L665.2 360.37 L665.4 359.93 L665.6 360.29 L665.8 359.72 L666 361.75 L666.2 362.74 L666.4 361.38 L666.6 361.89 L666.8 360.03 L667 360.57 L667.2 359.77 L667.4 360.96 L667.6 360.43 L667.8 359.85 L668 361.36 L668.2 360.12 L668.4 361 L668.6 361.24 L668.8 361.69 L669 362.02 L669.2 360.99 L669.4 360.76 L669.6 360.77 L669.8 360.52 L670 362.06 L670.2 360.36 L670.4 361.5 L670.6 359.58 L670.8 359.83 L671 360.86 L671.2 360.06 L671.4 359.77 L671.6 361.79 L671.8 359.78 L672 360.39 L672.2 361.58 L672.4 362.24 L672.6 361.39 L672.8 360.63 L673 362.61" stroke="#000" stroke-width="0.7" fill="none" stroke-linejoin="round"/>
<line x1="664.5" y1="372.9" x2="664.5" y2="385.5" stroke="#333" stroke-width="1"/>
<line x1="631.1" y1="385.5" x2="664.9" y2="385.5" stroke="#333" stroke-width="1"/>
<text x="666.6" y="380.8" font-size="6.8" fill="#000" stroke="#000" stroke-width="0.15">30 pA</text>
<text x="648" y="394.6" font-size="6.8" text-anchor="middle" fill="#000" stroke="#000" stroke-width="0.15">500 ms</text>
<text x="345" y="383.4" font-size="14.6" font-weight="bold" fill="#000">H</text>
<line x1="407" y1="385.5" x2="407" y2="452.2" stroke="#000" stroke-width="1"/>
<line x1="407" y1="452.2" x2="403.5" y2="452.2" stroke="#000" stroke-width="1"/>
<line x1="407" y1="429.97" x2="403.5" y2="429.97" stroke="#000" stroke-width="1"/>
<line x1="407" y1="407.73" x2="403.5" y2="407.73" stroke="#000" stroke-width="1"/>
<line x1="407" y1="385.5" x2="403.5" y2="385.5" stroke="#000" stroke-width="1"/>
<line x1="407" y1="441.08" x2="404.8" y2="441.08" stroke="#000" stroke-width="1"/>
<line x1="407" y1="418.85" x2="404.8" y2="418.85" stroke="#000" stroke-width="1"/>
<line x1="407" y1="396.62" x2="404.8" y2="396.62" stroke="#000" stroke-width="1"/>
<line x1="411.5" y1="452.2" x2="495" y2="452.2" stroke="#000" stroke-width="1"/>
<rect x="428" y="417.52" width="22.4" height="34.68" fill="#fff" stroke="#000" stroke-width="0.9"/>
<line x1="439.2" y1="417.52" x2="439.2" y2="406.84" stroke="#000" stroke-width="0.9"/>
<line x1="427.2" y1="406.84" x2="451.2" y2="406.84" stroke="#000" stroke-width="1"/>
<rect x="455.6" y="423.74" width="22.9" height="28.46" fill="#0000FF" stroke="#000" stroke-width="0.9"/>
<line x1="467.05" y1="423.74" x2="467.05" y2="414.85" stroke="#000" stroke-width="0.9"/>
<line x1="454.8" y1="414.85" x2="479.3" y2="414.85" stroke="#000" stroke-width="1"/>
<text x="467.4" y="411" font-size="7.6" font-weight="bold" text-anchor="middle" fill="#000">NS</text>
<text x="400.2" y="455" font-size="7.9" font-weight="bold" text-anchor="end" fill="#000">0</text>
<text x="400.2" y="432.77" font-size="7.9" font-weight="bold" text-anchor="end" fill="#000">5</text>
<text x="400.2" y="410.53" font-size="7.9" font-weight="bold" text-anchor="end" fill="#000">10</text>
<text x="400.2" y="388.3" font-size="7.9" font-weight="bold" text-anchor="end" fill="#000">15</text>
<text x="384.4" y="418.9" font-size="9.3" font-weight="bold" text-anchor="middle" fill="#000" transform="rotate(-90 384.4 418.9)">sIPSCs Fre. (Hz)</text>
<text x="441.7" y="461" font-size="9.6" font-weight="bold" text-anchor="end" fill="#000" transform="rotate(-32 441.7 461)">Baseline</text>
<text x="469.8" y="461" font-size="9.6" font-weight="bold" text-anchor="end" fill="#000" transform="rotate(-32 469.8 461)">NA</text>
<line x1="548.2" y1="385.5" x2="548.2" y2="452.2" stroke="#000" stroke-width="1"/>
<line x1="548.2" y1="452.2" x2="544.7" y2="452.2" stroke="#000" stroke-width="1"/>
<line x1="548.2" y1="435.52" x2="544.7" y2="435.52" stroke="#000" stroke-width="1"/>
<line x1="548.2" y1="418.85" x2="544.7" y2="418.85" stroke="#000" stroke-width="1"/>
<line x1="548.2" y1="402.18" x2="544.7" y2="402.18" stroke="#000" stroke-width="1"/>
<line x1="548.2" y1="385.5" x2="544.7" y2="385.5" stroke="#000" stroke-width="1"/>
<line x1="548.2" y1="443.86" x2="546" y2="443.86" stroke="#000" stroke-width="1"/>
<line x1="548.2" y1="427.19" x2="546" y2="427.19" stroke="#000" stroke-width="1"/>
<line x1="548.2" y1="410.51" x2="546" y2="410.51" stroke="#000" stroke-width="1"/>
<line x1="548.2" y1="393.84" x2="546" y2="393.84" stroke="#000" stroke-width="1"/>
<line x1="552.5" y1="452.2" x2="636" y2="452.2" stroke="#000" stroke-width="1"/>
<rect x="568.6" y="408.84" width="22.6" height="43.36" fill="#fff" stroke="#000" stroke-width="0.9"/>
<line x1="579.9" y1="408.84" x2="579.9" y2="404.68" stroke="#000" stroke-width="0.9"/>
<line x1="567.8" y1="404.68" x2="592" y2="404.68" stroke="#000" stroke-width="1"/>
<rect x="596.4" y="416.02" width="22.9" height="36.18" fill="#0000FF" stroke="#000" stroke-width="0.9"/>
<line x1="607.85" y1="416.02" x2="607.85" y2="412.18" stroke="#000" stroke-width="0.9"/>
<line x1="595.6" y1="412.18" x2="620.1" y2="412.18" stroke="#000" stroke-width="1"/>
<text x="608.3" y="409.2" font-size="7.6" font-weight="bold" text-anchor="middle" fill="#000">NS</text>
<text x="540.6" y="455" font-size="7.9" font-weight="bold" text-anchor="end" fill="#000">0</text>
<text x="540.6" y="438.32" font-size="7.9" font-weight="bold" text-anchor="end" fill="#000">10</text>
<text x="540.6" y="421.65" font-size="7.9" font-weight="bold" text-anchor="end" fill="#000">20</text>
<text x="540.6" y="404.98" font-size="7.9" font-weight="bold" text-anchor="end" fill="#000">30</text>
<text x="540.6" y="388.3" font-size="7.9" font-weight="bold" text-anchor="end" fill="#000">40</text>
<text x="524.8" y="419.2" font-size="8.9" font-weight="bold" text-anchor="middle" fill="#000" transform="rotate(-90 524.8 419.2)">sIPSCs Amp. (pA)</text>
<text x="583.5" y="461.5" font-size="9.6" font-weight="bold" text-anchor="end" fill="#000" transform="rotate(-32 583.5 461.5)">Baseline</text>
<text x="610.1" y="461.5" font-size="9.6" font-weight="bold" text-anchor="end" fill="#000" transform="rotate(-32 610.1 461.5)">NA</text>
</svg></body></html>
